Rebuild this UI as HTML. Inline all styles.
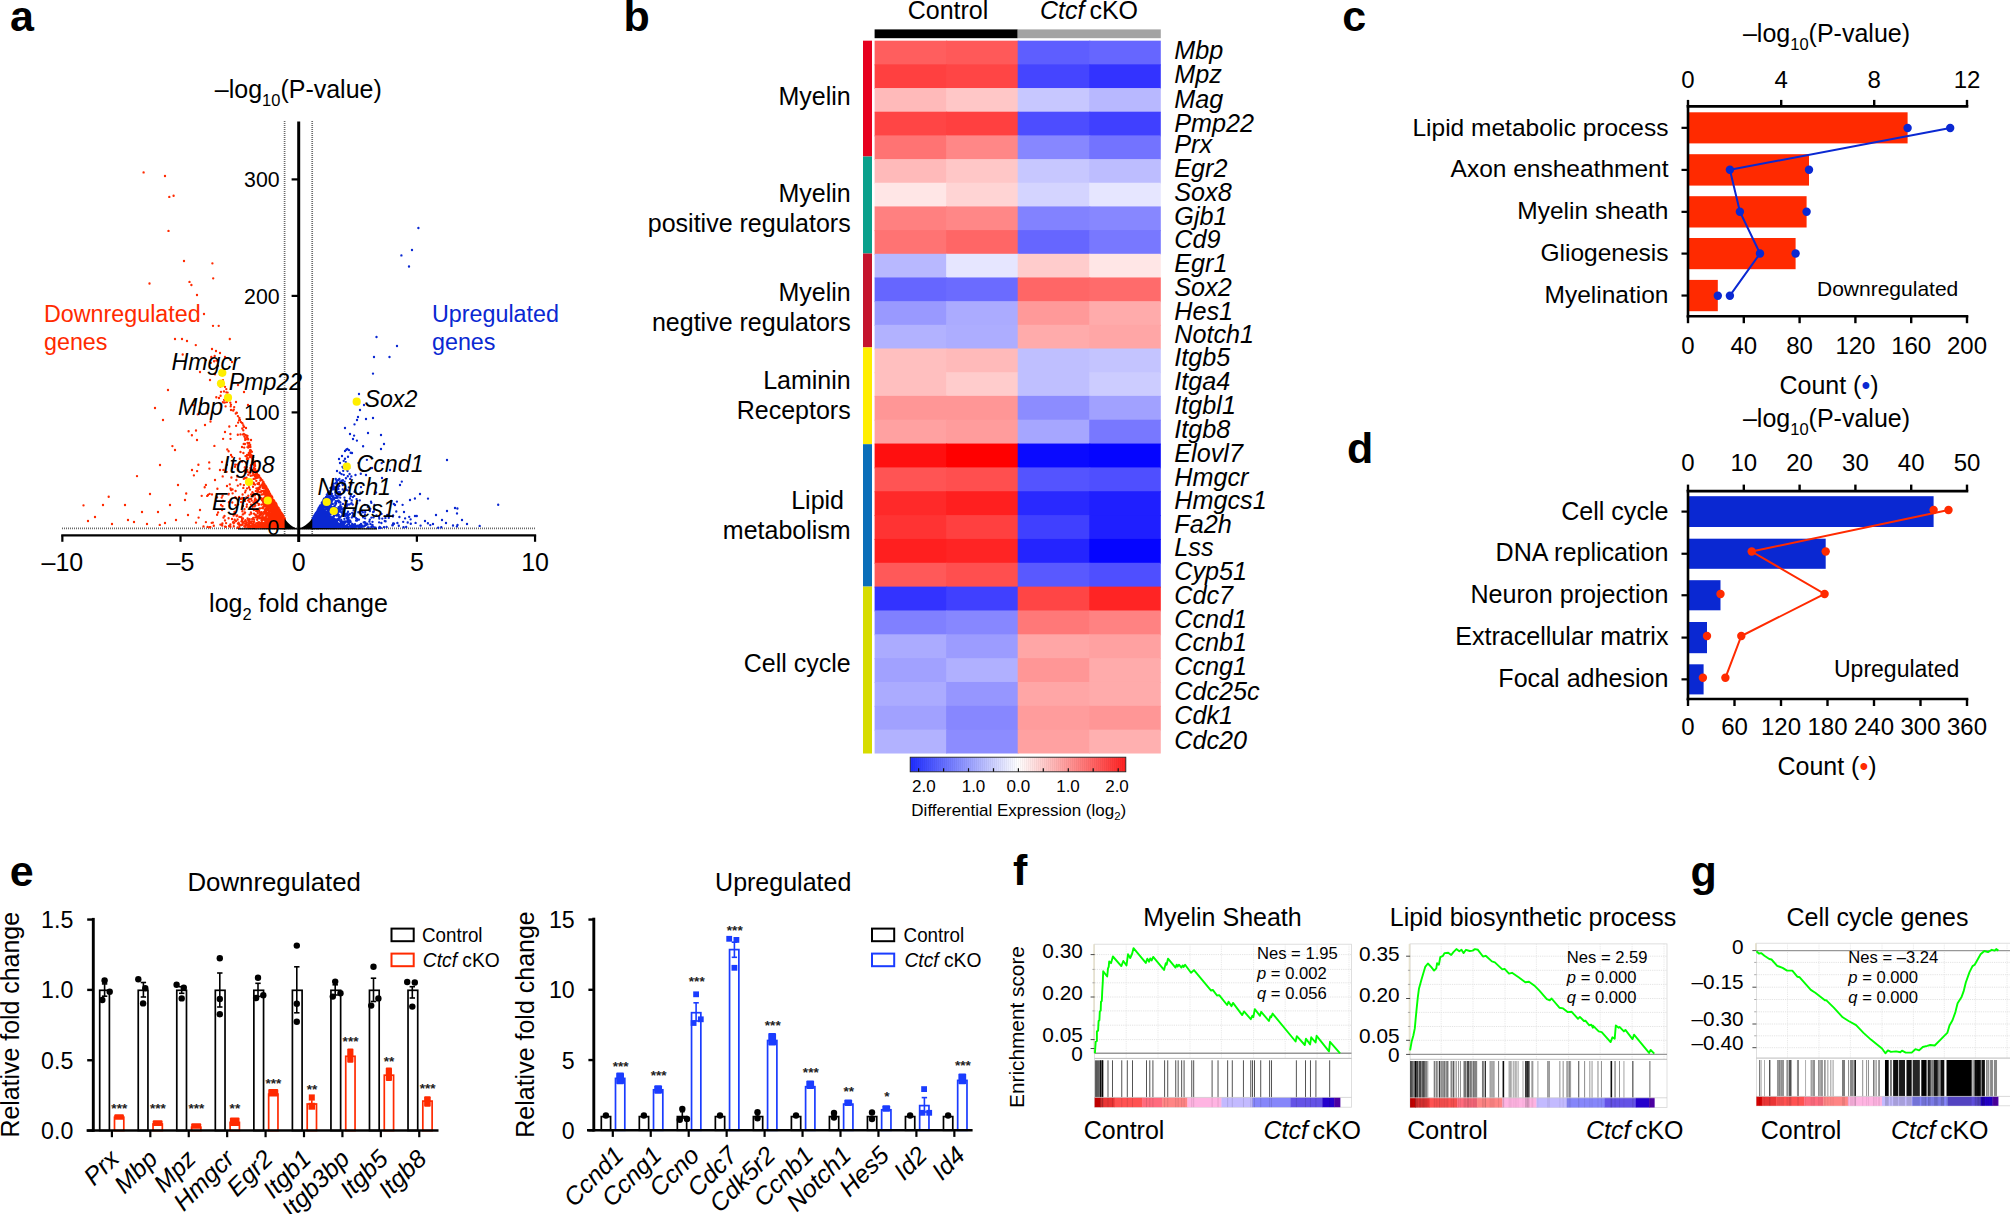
<!DOCTYPE html>
<html lang="en">
<head>
<meta charset="utf-8">
<title>Figure</title>
<style>
html,body{margin:0;padding:0;background:#fff;}
body{width:2010px;height:1214px;overflow:hidden;}
svg{display:block;font-family:"Liberation Sans",sans-serif;}
</style>
</head>
<body>
<svg width="2010" height="1214" viewBox="0 0 2010 1214">
<rect width="2010" height="1214" fill="#fff"/>
<g id="panel-a">
<text x="10" y="31" font-size="43" font-weight="bold">a</text>
<text x="298.3" y="98" font-size="25" text-anchor="middle">–log<tspan dy="8" font-size="16.5">10</tspan><tspan dy="-8">(P-value)</tspan></text>
<line x1="284.6" y1="121" x2="284.6" y2="536" stroke="#6a6a6a" stroke-width="1.7" stroke-dasharray="1 1"/>
<line x1="312.2" y1="121" x2="312.2" y2="536" stroke="#6a6a6a" stroke-width="1.7" stroke-dasharray="1 1"/>
<line x1="62" y1="528.3" x2="535" y2="528.3" stroke="#6a6a6a" stroke-width="1.7" stroke-dasharray="1 1"/>
<polygon points="284.6,518.6 278.5,507.8 273.5,514.5 266,521 255,526 243,527.8 284.6,527.8" fill="#ff2a00"/>
<path d="M273.4 517.5h0M281.4 518.9h0M280.9 518.8h0M278.7 527.2h0M270.8 506.7h0M222.7 476.4h0M252.8 456.6h0M284.4 518.4h0M284.8 524.5h0M278.1 520.6h0M279.5 514.9h0M256.9 471.8h0M278.0 518.0h0M284.6 523.6h0M253.0 523.8h0M249.1 487.4h0M277.9 525.0h0M255.5 477.6h0M276.0 515.3h0M283.8 526.8h0M255.8 475.1h0M284.7 526.6h0M270.9 526.4h0M281.1 525.3h0M282.0 514.8h0M284.0 524.9h0M244.8 467.4h0M276.3 526.1h0M283.1 519.6h0M275.7 519.1h0M278.9 524.7h0M282.6 526.8h0M281.4 516.2h0M260.3 487.0h0M273.9 502.2h0M259.5 497.4h0M281.1 525.3h0M233.8 526.2h0M275.6 520.5h0M276.8 527.5h0M279.7 512.4h0M279.0 520.6h0M280.4 511.7h0M276.2 517.5h0M259.1 484.3h0M284.1 527.8h0M284.4 527.2h0M283.4 517.1h0M245.2 499.6h0M248.7 446.9h0M284.8 527.5h0M228.6 518.2h0M279.7 515.0h0M159.8 524.9h0M278.9 517.9h0M263.3 517.1h0M271.2 507.9h0M244.5 509.2h0M267.1 508.0h0M280.8 515.4h0M253.2 457.3h0M275.7 517.4h0M275.0 520.9h0M261.3 527.3h0M280.6 516.2h0M277.9 512.6h0M225.0 386.8h0M281.3 523.4h0M278.3 525.6h0M253.2 473.1h0M281.1 514.0h0M263.4 507.0h0M270.0 524.0h0M283.0 526.1h0M260.2 512.6h0M281.7 525.4h0M284.1 523.9h0M279.9 515.4h0M251.0 504.6h0M284.8 527.0h0M263.9 527.7h0M279.9 523.3h0M283.2 526.1h0M275.4 505.3h0M282.4 527.4h0M278.0 515.3h0M255.6 502.1h0M284.1 519.7h0M280.1 519.8h0M283.6 523.9h0M268.7 522.0h0M258.2 523.9h0M239.0 527.3h0M274.6 526.9h0M226.4 392.3h0M263.4 500.9h0M266.9 522.9h0M271.9 511.6h0M249.2 442.9h0M207.2 495.9h0M276.4 508.0h0M273.8 512.2h0M282.0 520.5h0M284.4 522.5h0M257.5 527.5h0M279.8 522.8h0M282.9 525.9h0M261.7 513.1h0M234.2 522.5h0M282.7 524.8h0M275.2 511.3h0M271.2 504.2h0M278.5 521.8h0M252.5 526.1h0M248.1 500.3h0M281.7 518.2h0M264.4 497.6h0M279.2 521.4h0M280.3 519.3h0M282.4 518.1h0M272.8 507.0h0M283.4 526.3h0M268.4 509.2h0M282.1 525.3h0M259.2 526.9h0M284.1 525.2h0M277.4 524.8h0M267.4 494.0h0M283.7 518.8h0M282.3 518.3h0M282.2 521.2h0M282.0 525.1h0M250.9 465.5h0M236.9 412.8h0M242.8 514.4h0M276.7 523.2h0M214.4 445.9h0M281.0 524.5h0M280.3 526.7h0M277.9 508.0h0M281.6 513.2h0M269.9 513.3h0M263.2 523.4h0M265.2 522.3h0M284.6 527.1h0M281.3 517.7h0M284.3 526.0h0M246.9 504.5h0M283.8 527.2h0M260.2 522.9h0M282.2 519.9h0M283.4 516.2h0M278.1 512.8h0M277.5 510.8h0M282.9 525.7h0M261.8 499.3h0M264.1 511.9h0M280.4 516.3h0M246.7 467.1h0M258.2 516.9h0M246.3 523.8h0M259.9 518.3h0M263.1 523.8h0M282.8 522.6h0M281.5 522.4h0M259.8 487.2h0M260.3 480.6h0M282.6 518.2h0M230.9 489.7h0M271.4 496.1h0M248.2 439.4h0M284.3 527.3h0M284.1 526.7h0M272.8 521.5h0M108.7 496.7h0M243.4 425.5h0M247.5 435.8h0M274.0 526.6h0M281.2 519.2h0M263.9 490.8h0M281.5 516.3h0M278.5 514.4h0M279.1 511.8h0M284.7 524.4h0M277.1 510.0h0M282.9 516.7h0M239.1 420.2h0M273.8 523.4h0M261.5 517.6h0M273.5 517.5h0M226.8 464.8h0M280.3 515.5h0M283.0 527.3h0M280.8 520.5h0M282.2 524.1h0M274.8 508.7h0M197.7 414.3h0M279.0 526.5h0M277.3 520.0h0M277.6 513.2h0M249.4 454.5h0M273.2 524.3h0M279.6 510.8h0M283.2 524.0h0M268.8 494.1h0M282.0 526.8h0M280.7 515.2h0M283.7 525.0h0M280.3 513.1h0M272.1 506.8h0M275.5 526.0h0M275.2 506.7h0M278.7 517.8h0M277.0 523.4h0M274.2 501.3h0M281.3 517.4h0M259.5 525.1h0M281.7 524.9h0M280.8 523.4h0M282.2 525.3h0M278.3 511.4h0M276.8 512.2h0M235.4 505.1h0M276.0 507.2h0M275.3 521.5h0M277.2 525.7h0M283.2 522.2h0M282.5 525.2h0M254.1 521.7h0M280.9 525.5h0M284.5 525.3h0M281.0 517.9h0M217.4 488.7h0M278.0 517.9h0M281.5 526.9h0M267.8 527.3h0M274.5 510.4h0M280.6 524.8h0M276.7 509.5h0M253.5 483.8h0M279.4 518.1h0M269.6 507.9h0M252.2 519.0h0M244.4 513.4h0M272.2 519.7h0M273.3 514.8h0M281.2 526.0h0M274.5 510.4h0M283.6 520.9h0M273.5 525.7h0M275.5 514.6h0M283.3 527.2h0M227.6 392.6h0M284.2 525.4h0M276.2 511.8h0M283.9 525.4h0M277.7 509.8h0M273.7 506.2h0M256.4 500.0h0M271.4 517.8h0M284.7 524.8h0M274.4 514.8h0M283.6 518.7h0M258.8 488.0h0M283.1 519.8h0M268.5 517.8h0M283.8 525.8h0M270.2 501.9h0M283.9 518.2h0M255.6 528.0h0M280.7 513.9h0M280.4 511.8h0M273.2 519.9h0M236.6 412.7h0M242.6 523.6h0M275.8 505.6h0M284.0 518.4h0M278.5 525.0h0M282.9 523.3h0M265.1 524.4h0M282.7 521.6h0M222.0 462.0h0M280.7 521.9h0M281.5 517.4h0M235.0 466.7h0M281.6 515.7h0M283.1 518.1h0M281.1 521.6h0M281.1 525.1h0M261.5 490.8h0M255.0 524.7h0M284.6 526.1h0M281.1 518.0h0M271.1 504.8h0M284.4 524.7h0M284.6 521.3h0M272.7 523.5h0M243.0 434.4h0M283.1 522.8h0M280.7 521.4h0M223.4 469.9h0M272.0 498.0h0M281.9 514.5h0M278.8 518.9h0M281.9 520.3h0M265.7 509.0h0M284.3 519.1h0M257.5 492.7h0M278.0 513.3h0M281.1 520.0h0M282.3 524.4h0M239.8 524.7h0M284.4 520.0h0M212.9 522.6h0M280.7 517.5h0M235.3 497.2h0M282.6 520.5h0M246.2 525.2h0M276.4 517.1h0M284.1 517.8h0M272.7 525.5h0M278.6 519.2h0M275.8 517.1h0M244.0 426.8h0M284.3 519.9h0M283.2 517.2h0M282.3 524.1h0M282.5 514.8h0M230.4 526.7h0M255.9 470.8h0M247.5 447.1h0M196.0 522.6h0M272.2 512.2h0M274.2 517.3h0M282.5 518.5h0M283.9 524.8h0M257.0 509.2h0M247.3 437.2h0M271.2 495.7h0M282.9 519.0h0M277.7 512.8h0M283.3 523.3h0M278.8 527.1h0M204.7 487.2h0M276.6 507.0h0M245.1 521.2h0M277.8 507.9h0M267.9 489.4h0M283.6 523.4h0M261.1 499.1h0M281.9 522.4h0M279.3 527.6h0M274.3 519.2h0M269.3 504.1h0M253.1 495.2h0M274.0 504.7h0M279.0 525.6h0M254.1 519.6h0M274.2 500.8h0M278.7 511.4h0M259.4 511.4h0M267.6 512.7h0M284.2 526.9h0M280.0 512.1h0M281.6 524.6h0M266.4 524.2h0M280.4 520.7h0M261.9 494.5h0M282.3 514.9h0M254.6 506.4h0M282.6 527.4h0M280.0 524.3h0M280.5 523.7h0M282.4 523.8h0M240.9 498.9h0M279.7 520.1h0M264.9 494.1h0M279.9 517.6h0M275.1 514.2h0M277.6 519.0h0M233.4 522.0h0M278.0 508.6h0M265.1 487.0h0M256.3 515.4h0M283.9 519.4h0M284.7 519.1h0M247.9 443.3h0M282.1 526.4h0M282.7 519.2h0M280.0 524.1h0M266.2 497.5h0M277.0 507.9h0M284.7 523.2h0M279.7 515.6h0M283.3 516.6h0M279.9 526.5h0M272.8 513.0h0M275.9 527.5h0M274.6 524.9h0M279.4 519.4h0M266.2 522.2h0M280.2 527.7h0M276.4 526.8h0M284.6 520.9h0M232.2 456.8h0M279.9 525.9h0M283.0 524.5h0M277.9 524.3h0M268.6 492.8h0M282.2 514.6h0M271.5 512.8h0M230.3 402.6h0M273.4 504.3h0M277.6 526.0h0M283.6 517.8h0M283.0 524.9h0M266.5 520.4h0M277.0 511.8h0M281.9 527.0h0M284.8 523.9h0M283.4 524.1h0M279.0 517.8h0M277.3 525.9h0M272.3 509.4h0M278.3 527.8h0M279.4 526.9h0M275.2 509.1h0M283.9 521.6h0M282.4 525.9h0M283.1 523.2h0M281.6 526.1h0M274.9 511.4h0M283.9 525.1h0M276.6 523.8h0M279.0 525.9h0M284.8 524.9h0M279.1 515.2h0M266.7 497.7h0M274.2 507.5h0M232.0 519.0h0M267.8 525.8h0M283.1 520.8h0M283.5 521.8h0M284.3 523.8h0M284.2 519.7h0M266.1 486.7h0M284.3 521.0h0M248.5 445.4h0M276.4 527.8h0M283.6 527.2h0M281.5 519.2h0M283.9 523.0h0M277.5 522.5h0M281.5 524.1h0M281.3 519.9h0M270.3 524.3h0M266.5 516.0h0M258.5 475.4h0M263.8 505.3h0M272.1 497.2h0M283.4 518.9h0M260.5 479.7h0M281.5 524.7h0M283.0 528.0h0M282.9 524.5h0M252.7 463.7h0M255.2 505.2h0M277.7 522.5h0M274.8 511.9h0M245.0 500.9h0M280.0 515.5h0M283.7 522.1h0M280.3 521.8h0M284.2 523.0h0M284.7 526.3h0M281.7 526.6h0M279.4 520.3h0M279.3 525.7h0M279.9 527.6h0M275.5 507.6h0M263.5 525.6h0M280.2 522.8h0M267.7 513.6h0M276.2 512.3h0M280.4 514.8h0M280.8 513.8h0M282.8 527.8h0M271.2 499.3h0M267.9 523.6h0M232.6 493.3h0M280.4 512.0h0M280.8 523.7h0M272.6 523.2h0M281.8 518.0h0M279.7 523.3h0M276.4 525.3h0M237.8 434.7h0M277.5 512.8h0M281.6 526.7h0M267.7 493.3h0M283.8 526.4h0M283.4 517.3h0M264.6 484.7h0M283.9 522.2h0M279.3 527.1h0M284.4 527.0h0M248.8 452.9h0M275.8 522.6h0M283.9 523.9h0M277.7 514.3h0M252.4 492.2h0M222.5 506.2h0M284.4 526.4h0M284.7 526.4h0M277.8 510.1h0M284.3 527.9h0M272.1 527.9h0M260.2 515.2h0M267.7 507.2h0M268.3 493.2h0M264.1 523.8h0M272.2 497.2h0M283.4 524.7h0M274.5 514.3h0M280.7 515.0h0M269.8 497.8h0M280.5 522.8h0M275.9 510.6h0M283.0 526.4h0M283.0 522.5h0M282.9 519.1h0M272.2 518.1h0M271.8 500.8h0M210.3 527.1h0M263.5 485.9h0M280.2 512.3h0M267.5 513.5h0M283.6 525.4h0M253.9 522.0h0M281.5 514.8h0M226.9 402.1h0M254.0 467.8h0M269.3 504.7h0M279.5 514.0h0M282.2 524.7h0M284.7 518.7h0M256.1 472.7h0M223.0 380.1h0M237.4 464.6h0M256.2 510.9h0M274.3 502.1h0M267.5 502.8h0M237.6 519.5h0M270.5 515.0h0M222.2 525.5h0M256.9 525.6h0M276.4 518.2h0M281.7 523.8h0M277.8 517.6h0M280.1 524.5h0M269.8 516.0h0M279.9 515.0h0M284.8 526.6h0M263.2 502.4h0M283.5 525.4h0M245.4 520.2h0M254.7 471.5h0M230.7 406.3h0M279.4 513.9h0M283.6 522.7h0M262.8 484.4h0M282.5 526.4h0M282.5 522.9h0M261.1 491.7h0M269.9 525.2h0M276.4 517.1h0M284.3 521.3h0M255.2 474.4h0M282.3 520.2h0M264.2 524.5h0M282.4 516.9h0M252.1 525.2h0M238.7 523.1h0M275.2 510.6h0M283.5 527.1h0M273.6 520.5h0M275.9 512.8h0M284.4 521.2h0M275.6 525.6h0M265.8 506.0h0M254.8 463.9h0M277.2 527.2h0M275.0 511.5h0M251.2 498.8h0M279.9 515.2h0M283.5 520.0h0M225.0 520.4h0M195.8 345.1h0M264.3 519.4h0M265.8 525.4h0M281.2 514.3h0M270.7 519.2h0M280.2 521.6h0M282.0 525.7h0M248.1 438.9h0M258.6 517.3h0M284.8 519.9h0M238.1 504.4h0M282.3 522.5h0M280.8 526.5h0M284.4 518.9h0M284.6 526.2h0M280.2 523.5h0M284.7 521.2h0M281.9 520.3h0M275.4 503.6h0M225.0 526.6h0M281.5 521.3h0M265.5 500.9h0M280.2 525.9h0M281.5 517.8h0M284.6 527.6h0M255.0 484.6h0M275.7 527.6h0M284.5 524.1h0M273.4 524.7h0M224.7 402.5h0M275.7 519.1h0M280.6 523.4h0M283.0 522.1h0M283.0 522.3h0M280.4 527.3h0M281.5 518.4h0M284.6 524.8h0M282.8 523.2h0M276.4 510.3h0M273.0 521.3h0M269.5 516.5h0M281.5 516.3h0M279.3 516.0h0M282.1 519.2h0M283.2 527.6h0M280.0 524.0h0M272.2 502.8h0M281.4 513.4h0M242.2 461.6h0M268.0 506.1h0M268.5 496.3h0M279.4 515.4h0M284.5 519.7h0M268.9 516.6h0M277.5 510.9h0M228.5 494.4h0M275.7 508.5h0M274.8 524.1h0M283.9 526.4h0M282.8 527.4h0M271.4 519.1h0M283.9 526.4h0M241.4 521.3h0M282.1 521.1h0M249.7 526.9h0M283.5 527.6h0M269.2 513.6h0M279.2 513.0h0M261.8 527.1h0M282.8 516.7h0M283.7 525.7h0M254.5 466.4h0M273.7 504.3h0M247.3 469.9h0M280.1 512.7h0M276.0 511.2h0M280.5 527.2h0M278.0 511.8h0M245.9 462.6h0M273.5 523.0h0M279.3 510.1h0M276.1 503.9h0M271.2 521.2h0M276.7 525.9h0M280.8 514.6h0M281.1 526.0h0M282.7 515.9h0M245.8 520.9h0M277.0 518.5h0M278.4 517.7h0M278.9 517.4h0M283.0 527.7h0M284.0 523.6h0M283.7 519.5h0M282.7 523.8h0M251.5 526.6h0M271.5 520.3h0M266.5 521.8h0M278.1 515.8h0M266.0 492.6h0M274.6 525.8h0M265.5 511.3h0M282.3 517.3h0M267.0 489.6h0M283.6 519.3h0M270.7 527.1h0M252.3 470.4h0M266.2 527.5h0M282.8 527.6h0M205.9 484.9h0M283.5 522.0h0M282.8 525.4h0M284.0 519.1h0M273.6 523.6h0M281.7 519.4h0M268.0 497.3h0M280.9 522.8h0M221.7 497.6h0M234.5 512.0h0M281.4 519.4h0M268.7 520.3h0M272.4 527.3h0M282.9 527.7h0M275.0 502.3h0M269.8 505.3h0M277.8 516.9h0M283.7 528.0h0M242.3 497.8h0M283.5 522.8h0M277.6 509.2h0M254.6 465.8h0M280.3 523.1h0M282.1 526.4h0M279.0 519.6h0M281.7 524.5h0M283.6 518.5h0M280.4 526.3h0M280.7 522.9h0M269.7 515.3h0M278.0 509.5h0M268.6 521.1h0M276.8 522.4h0M275.2 509.7h0M276.0 515.6h0M279.1 524.1h0M247.2 439.0h0M273.1 527.9h0M278.7 527.1h0M278.8 525.1h0M270.5 506.1h0M263.5 526.8h0M282.4 526.3h0M258.1 510.5h0M276.9 523.1h0M276.3 523.9h0M283.7 525.4h0M284.2 523.3h0M281.6 518.4h0M275.5 509.6h0M280.6 527.3h0M280.3 523.3h0M281.9 522.3h0M282.6 517.2h0M262.8 498.7h0M237.9 416.1h0M235.6 491.0h0M276.8 509.6h0M284.3 525.7h0M284.5 526.1h0M274.3 507.4h0M256.9 471.2h0M284.7 523.4h0M281.0 515.6h0M281.3 515.5h0M268.1 500.4h0M282.0 518.0h0M270.0 496.6h0M244.8 512.4h0M268.5 518.9h0M281.3 525.6h0M283.0 516.8h0M283.1 525.3h0M270.9 524.5h0M265.5 495.2h0M283.2 528.0h0M279.7 517.1h0M283.1 526.8h0M266.4 514.9h0M284.6 520.5h0M254.8 525.8h0M245.2 525.6h0M282.0 520.9h0M273.7 522.5h0M272.1 504.4h0M284.2 525.2h0M217.1 514.7h0M257.6 518.6h0M254.9 514.5h0M275.6 506.4h0M271.4 495.7h0M279.7 522.6h0M221.0 391.8h0M269.1 495.9h0M237.3 476.4h0M281.5 525.4h0M253.8 493.7h0M280.3 511.4h0M257.2 516.1h0M236.0 521.1h0M255.2 468.9h0M284.4 527.7h0M266.8 525.9h0M272.3 518.3h0M284.2 523.9h0M244.2 447.6h0M251.1 494.4h0M258.9 489.1h0M245.7 472.5h0M282.1 518.5h0M270.4 502.6h0M278.6 510.5h0M282.6 516.9h0M284.7 527.1h0M272.8 518.4h0M258.4 475.2h0M272.8 519.8h0M280.7 520.7h0M267.4 521.4h0M274.3 509.0h0M240.5 452.0h0M279.2 509.4h0M283.0 517.7h0M277.6 517.4h0M264.0 519.5h0M284.5 520.7h0M247.1 488.3h0M284.1 527.1h0M282.5 523.3h0M278.2 517.1h0M277.1 514.6h0M269.2 496.8h0M283.3 527.3h0M283.6 527.0h0M276.9 526.6h0M269.8 522.6h0M258.3 475.3h0M279.0 524.8h0M283.1 521.2h0M258.2 525.6h0M277.1 523.1h0M283.5 520.3h0M258.9 475.4h0M274.0 523.0h0M276.8 523.1h0M246.4 497.5h0M275.5 513.7h0M265.1 511.5h0M250.2 450.0h0M263.3 487.5h0M256.6 477.9h0M275.7 527.9h0M268.7 525.6h0M267.2 521.5h0M271.7 496.7h0M238.1 422.6h0M278.2 516.6h0M269.1 516.8h0M277.0 512.3h0M256.2 472.3h0M262.8 524.8h0M270.6 525.4h0M284.2 519.2h0M227.5 399.7h0M274.8 507.0h0M280.6 516.1h0M245.1 467.4h0M260.7 524.5h0M281.2 523.4h0M273.8 513.6h0M282.3 522.3h0M281.2 522.0h0M278.3 523.2h0M281.5 525.7h0M280.8 526.9h0M273.4 525.5h0M255.8 527.8h0M264.2 526.1h0M249.0 524.6h0M283.4 519.8h0M272.7 506.6h0M282.1 524.8h0M261.5 485.3h0M278.5 520.8h0M281.7 518.8h0M279.9 512.3h0M276.2 511.2h0M281.1 524.7h0M281.1 512.8h0M270.0 521.6h0M283.8 527.4h0M209.6 493.8h0M284.8 526.6h0M279.5 526.4h0M249.7 446.2h0M282.3 523.6h0M283.9 522.3h0M284.8 524.1h0M282.3 516.5h0M272.3 504.0h0M277.9 523.2h0M266.5 520.1h0M275.8 522.3h0M282.4 519.0h0M278.3 518.2h0M284.5 525.9h0M281.0 527.6h0M264.3 484.0h0M262.1 513.3h0M273.5 516.9h0M275.5 517.7h0M191.9 435.2h0M274.3 524.4h0M283.4 518.7h0M205.9 522.1h0M254.9 463.9h0M281.3 521.7h0M272.4 517.4h0M274.6 509.6h0M283.1 525.6h0M280.7 518.9h0M282.8 517.9h0M282.8 515.2h0M281.2 514.3h0M277.4 509.6h0M283.1 521.3h0M261.6 485.4h0M282.6 516.4h0M277.5 507.5h0M284.4 527.6h0M263.1 487.4h0M275.9 505.4h0M246.7 456.6h0M282.1 517.4h0M263.5 525.6h0M271.5 519.2h0M277.2 523.8h0M281.4 527.4h0M279.1 523.6h0M253.0 496.2h0M258.0 477.5h0M283.2 527.2h0M284.5 518.3h0M254.8 475.9h0M282.4 525.9h0M273.1 526.4h0M274.9 509.4h0M281.2 525.3h0M275.2 502.4h0M277.9 519.9h0M245.2 438.2h0M255.2 527.6h0M284.8 525.7h0M271.4 501.2h0M280.2 527.4h0M226.3 389.1h0M284.2 523.7h0M282.0 525.1h0M282.7 525.6h0M282.6 525.9h0M282.7 521.7h0M282.2 515.8h0M279.7 527.9h0M258.8 476.8h0M276.6 526.8h0M264.0 524.2h0M279.2 527.7h0M271.6 510.2h0M274.6 506.9h0M266.5 503.4h0M246.5 478.0h0M269.0 524.3h0M264.8 509.4h0M226.6 471.8h0M214.7 356.0h0M283.5 517.4h0M268.0 527.5h0M281.9 523.0h0M277.7 520.4h0M269.7 516.6h0M252.7 526.3h0M282.5 517.6h0M284.9 528.0h0M270.3 523.9h0M268.7 495.9h0M280.0 519.6h0M268.0 505.7h0M283.6 521.5h0M265.2 522.9h0M259.4 508.4h0M282.4 515.7h0M284.2 521.2h0M265.8 521.1h0M281.7 525.8h0M278.4 520.1h0M251.9 521.5h0M282.2 526.5h0M284.8 524.7h0M283.0 527.2h0M275.7 516.1h0M281.9 526.4h0M266.3 510.4h0M267.9 502.5h0M237.2 515.4h0M257.2 470.9h0M282.1 524.1h0M284.6 518.8h0M278.3 516.0h0M245.9 469.3h0M278.5 519.0h0M266.2 495.5h0M283.2 519.6h0M269.2 526.2h0M281.1 513.5h0M281.6 520.9h0M278.9 523.2h0M272.3 499.9h0M269.4 500.2h0M278.9 526.1h0M265.7 527.5h0M281.5 520.4h0M266.5 492.9h0M278.4 508.6h0M279.5 514.5h0M278.9 515.2h0M280.6 516.1h0M270.0 496.1h0M265.4 495.5h0M278.3 520.2h0M252.3 508.9h0M284.3 519.0h0M250.0 489.6h0M282.7 517.7h0M272.5 510.6h0M280.6 521.0h0M282.7 522.9h0M280.0 525.6h0M280.5 514.7h0M274.6 525.5h0M267.0 492.8h0M249.8 456.8h0M225.6 406.3h0M280.3 514.6h0M281.4 522.2h0M278.6 522.4h0M253.3 518.8h0M281.3 514.8h0M280.7 526.6h0M276.8 525.1h0M282.1 526.0h0M279.9 527.3h0M249.1 525.9h0M284.0 519.8h0M283.7 520.9h0M267.5 527.8h0M281.3 524.8h0M280.9 527.0h0M271.6 498.2h0M263.4 481.8h0M272.9 522.4h0M255.0 495.2h0M280.5 526.3h0M283.8 517.6h0M284.3 521.2h0M201.7 495.8h0M265.9 516.4h0M272.8 508.7h0M282.5 518.3h0M275.0 512.0h0M268.6 508.1h0M284.7 526.0h0M263.1 487.1h0M281.8 520.0h0M276.8 508.7h0M282.6 514.7h0M279.3 526.7h0M280.4 524.0h0M250.3 450.2h0M283.1 525.1h0M281.4 513.6h0M282.7 525.2h0M274.6 528.0h0M281.9 524.1h0M269.1 497.3h0M235.1 514.1h0M284.4 526.4h0M255.2 498.5h0M283.7 526.3h0M276.6 514.6h0M274.5 523.3h0M282.8 522.1h0M277.7 517.9h0M284.7 526.0h0M284.8 522.3h0M274.6 520.9h0M278.4 527.7h0M284.4 523.2h0M239.4 418.0h0M284.8 526.6h0M263.0 525.9h0M281.3 527.3h0M271.9 509.2h0M283.3 520.3h0M276.8 507.8h0M262.7 507.4h0M273.9 505.3h0M234.7 519.7h0M283.0 523.4h0M281.0 518.7h0M268.7 511.6h0M283.8 523.7h0M261.2 491.4h0M280.1 527.4h0M280.5 524.6h0M283.6 527.3h0M282.0 521.5h0M282.2 527.8h0M283.0 519.3h0M284.0 527.3h0M284.8 526.4h0M279.8 527.7h0M282.1 520.5h0M280.9 526.6h0M283.2 519.3h0M258.1 522.3h0M257.6 509.7h0M271.9 523.0h0M277.9 518.5h0M261.1 527.6h0M248.0 458.5h0M283.1 519.7h0M270.8 526.5h0M276.2 510.0h0M248.3 525.0h0M281.0 524.7h0M277.7 515.8h0M274.4 512.2h0M263.7 493.0h0M283.3 519.6h0M254.7 500.2h0M283.7 520.4h0M278.0 527.1h0M282.7 519.8h0M215.0 374.2h0M277.5 513.6h0M281.0 520.1h0M251.0 479.8h0M284.6 527.7h0M270.9 511.2h0M284.1 524.5h0M274.3 509.4h0M229.8 484.3h0M261.5 522.8h0M279.5 522.2h0M280.3 514.1h0M261.0 491.9h0M275.4 524.7h0M246.7 506.8h0M267.9 514.0h0M271.0 511.1h0M283.8 527.6h0M246.7 522.5h0M242.9 505.9h0M249.6 446.5h0M266.1 495.8h0M272.0 514.8h0M280.7 520.3h0M284.9 526.5h0M284.1 524.4h0M280.7 521.1h0M284.5 518.8h0M262.5 520.3h0M261.2 479.5h0M281.9 514.0h0M260.1 508.3h0M236.1 425.8h0M258.0 490.4h0M278.7 515.8h0M277.2 520.3h0M270.9 505.2h0M212.0 494.4h0M257.5 489.7h0M284.7 523.9h0M268.7 522.5h0M281.3 523.9h0M283.3 523.3h0M281.1 516.3h0M220.4 524.6h0M283.6 518.3h0M277.7 523.4h0M282.0 519.4h0M284.3 518.2h0M279.6 523.7h0M269.2 518.2h0M282.9 517.0h0M270.1 510.3h0M252.7 472.4h0M278.8 515.5h0M257.5 483.7h0M255.5 477.2h0M280.6 513.8h0M281.9 523.4h0M270.9 514.0h0M172.4 446.1h0M276.8 505.7h0M284.6 527.0h0M263.4 526.9h0M281.1 528.0h0M261.9 500.1h0M284.8 520.4h0M272.2 527.7h0M282.8 518.8h0M277.8 518.1h0M275.8 520.9h0M283.8 523.9h0M259.8 524.5h0M284.9 525.3h0M137.0 476.1h0M271.3 496.0h0M278.9 515.9h0M280.4 525.1h0M284.8 526.0h0M283.2 521.0h0M255.0 524.9h0M284.8 526.6h0M234.2 407.1h0M265.1 525.8h0M279.4 517.4h0M240.4 484.2h0M284.0 521.6h0M271.9 497.1h0M279.7 527.4h0M283.7 526.9h0M281.4 520.7h0M269.0 494.4h0M278.8 520.5h0M275.7 505.8h0M278.6 507.9h0M279.5 518.1h0M280.4 518.3h0M283.6 519.6h0M281.8 526.8h0M284.6 527.3h0M245.1 512.6h0M257.2 474.7h0M272.8 504.8h0M284.6 526.3h0M273.9 520.4h0M282.0 514.8h0M279.1 516.5h0M279.5 513.7h0M283.0 526.0h0M267.4 502.1h0M243.5 522.5h0M254.0 513.6h0M284.7 522.6h0M211.7 522.8h0M277.6 520.8h0M193.9 475.3h0M268.6 525.4h0M267.1 513.5h0M282.6 526.0h0M284.6 520.1h0M269.4 506.2h0M275.0 523.0h0M273.8 508.1h0M283.2 526.0h0M284.7 526.4h0M280.1 526.1h0M233.8 409.6h0M279.2 523.9h0M249.9 452.9h0M283.3 525.1h0M261.5 504.6h0M282.9 527.4h0M268.5 493.8h0M284.8 527.8h0M277.7 511.3h0M282.7 517.0h0M224.0 391.4h0M281.8 516.0h0M250.2 525.6h0M272.5 509.9h0M279.8 520.9h0M263.6 482.4h0M282.0 515.9h0M278.3 508.8h0M277.2 525.4h0M251.3 513.6h0M186.2 493.5h0M253.2 460.2h0M282.8 517.2h0M233.2 410.5h0M283.8 527.6h0M271.2 504.0h0M279.8 516.1h0M271.2 521.3h0M283.3 526.3h0M270.5 504.1h0M282.4 518.6h0M278.2 508.1h0M284.2 523.8h0M283.0 526.9h0M278.4 514.8h0M254.4 469.9h0M280.5 520.0h0M275.8 511.1h0M245.1 492.3h0M276.9 525.2h0M273.7 511.0h0M230.5 488.5h0M239.8 458.7h0M284.8 526.8h0M247.5 442.8h0M261.8 523.3h0M250.8 454.4h0M254.5 462.5h0M275.0 518.1h0M270.5 503.5h0M284.3 522.3h0M263.7 526.4h0M262.1 518.7h0M275.7 502.9h0M230.5 438.8h0M257.2 471.6h0M277.4 520.5h0M281.9 518.1h0M273.3 507.9h0M258.9 488.3h0M276.1 517.8h0M279.4 514.6h0M284.1 525.8h0M281.6 521.0h0M280.2 515.6h0M278.0 514.7h0M260.7 498.5h0M278.1 512.0h0M251.4 525.6h0M271.1 501.8h0M280.7 517.0h0M271.6 517.5h0M209.8 527.2h0M280.6 527.3h0M284.4 527.6h0M276.4 504.2h0M284.7 527.8h0M271.5 519.3h0M235.8 413.5h0M280.2 518.9h0M284.4 519.6h0M281.1 522.6h0M276.2 507.0h0M270.3 494.6h0M280.3 519.0h0M277.2 513.0h0M257.7 483.7h0M255.3 505.4h0M282.2 526.9h0M284.7 527.5h0M284.0 525.2h0M282.2 523.2h0M248.9 485.2h0M279.6 518.1h0M278.1 515.4h0M282.5 527.1h0M282.6 525.4h0M264.0 491.2h0M266.3 504.4h0M276.2 522.5h0M270.2 514.2h0M272.2 524.9h0M279.7 521.6h0M282.1 519.6h0M278.9 511.1h0M282.2 524.4h0M279.0 513.2h0M283.0 521.5h0M283.8 524.3h0M262.0 522.7h0M282.3 515.3h0M284.8 526.3h0M266.7 500.8h0M274.7 511.0h0M279.1 509.4h0M270.8 508.7h0M278.5 518.9h0M255.1 465.9h0M282.8 525.3h0M255.2 471.6h0M280.1 514.7h0M248.7 521.8h0M209.2 462.4h0M280.0 521.4h0M280.9 514.1h0M252.8 463.6h0M283.8 524.5h0M273.5 510.3h0M282.8 520.4h0M244.4 436.4h0M223.5 517.5h0M281.0 520.4h0M273.7 505.3h0M283.0 518.6h0M282.9 523.8h0M245.2 526.8h0M246.4 469.6h0M274.0 500.8h0M260.0 492.2h0M278.5 513.4h0M283.6 526.7h0M275.6 506.2h0M268.8 492.1h0M280.0 516.9h0M237.9 523.6h0M249.7 521.1h0M282.4 523.6h0M214.1 361.2h0M263.3 491.0h0M274.1 509.6h0M279.9 521.5h0M283.2 520.0h0M284.1 525.9h0M283.1 527.6h0M245.3 523.8h0M251.1 451.3h0M253.1 524.5h0M257.3 489.1h0M279.6 511.1h0M283.5 521.9h0M283.5 525.8h0M275.9 507.6h0M222.4 523.4h0M253.2 518.0h0M268.6 506.3h0M270.5 495.7h0M283.0 515.5h0M275.5 527.4h0M270.1 504.4h0M280.8 513.9h0M252.3 475.3h0M283.7 523.9h0M280.1 524.5h0M268.5 513.8h0M280.7 522.9h0M276.0 512.9h0M284.4 527.3h0M283.9 525.4h0M283.1 527.7h0M283.2 526.6h0M282.3 527.3h0M280.0 523.5h0M282.9 518.5h0M274.5 506.0h0M275.2 527.1h0M284.7 525.8h0M83.5 505.3h0M275.6 511.1h0M282.0 525.6h0M281.6 513.5h0M281.1 526.5h0M280.1 523.7h0M283.3 523.6h0M284.8 527.2h0M227.3 449.4h0M265.4 521.7h0M281.4 520.7h0M280.4 514.4h0M265.8 488.5h0M284.5 518.4h0M280.0 511.9h0M241.4 461.4h0M224.5 516.0h0M280.0 521.5h0M283.7 519.9h0M270.1 511.1h0M281.1 512.9h0M221.5 381.4h0M282.8 518.8h0M280.4 525.2h0M282.5 527.5h0M281.5 519.4h0M272.8 526.4h0M284.0 525.7h0M284.8 525.6h0M250.9 450.3h0M274.5 523.5h0M274.2 519.5h0M277.6 517.0h0M273.2 511.1h0M267.0 493.4h0M272.7 507.5h0M270.3 495.4h0M284.2 527.0h0M269.5 503.5h0M280.2 526.9h0M280.6 518.1h0M281.7 527.9h0M266.6 487.7h0M272.8 511.0h0M280.0 527.0h0M223.1 438.8h0M274.7 510.7h0M271.7 516.4h0M258.7 504.9h0M243.3 430.2h0M246.3 525.4h0M284.4 524.5h0M245.5 456.1h0M273.3 511.5h0M279.3 513.9h0M283.5 523.9h0M278.3 521.5h0M270.7 508.2h0M281.9 515.4h0M283.6 520.0h0M284.6 526.1h0M284.8 527.3h0M251.7 457.8h0M281.1 517.5h0M284.4 524.8h0M281.9 522.1h0M269.0 525.4h0M278.9 510.5h0M245.2 439.9h0M239.1 496.9h0M279.6 524.4h0M269.4 492.8h0M280.2 514.5h0M269.6 514.6h0M284.7 523.0h0M272.6 501.7h0M255.9 477.8h0M226.1 523.1h0M280.9 519.8h0M268.5 496.1h0M283.5 527.3h0M262.2 508.1h0M283.2 521.8h0M258.9 522.2h0M254.1 461.9h0M283.4 526.9h0M266.9 488.5h0M283.0 527.0h0M269.5 526.0h0M259.3 476.3h0M279.1 512.8h0M242.5 423.3h0M275.9 522.4h0M266.3 489.2h0M284.6 518.7h0M281.8 518.9h0M282.2 516.8h0M253.5 527.6h0M283.9 525.6h0M265.1 494.5h0M284.6 521.2h0M264.1 486.2h0M280.2 517.9h0M282.2 524.8h0M282.0 527.6h0M249.6 514.6h0M282.0 523.2h0M251.0 455.3h0M284.6 524.5h0M283.4 516.8h0M272.5 502.0h0M269.0 491.5h0M283.6 522.3h0M284.8 524.4h0M283.9 519.6h0M268.2 510.3h0M261.1 524.4h0M261.9 524.5h0M283.4 525.6h0M279.4 511.8h0M272.5 506.8h0M264.1 517.4h0M242.0 518.4h0M249.9 451.0h0M266.1 491.7h0M283.4 519.1h0M284.8 519.8h0M280.8 515.6h0M282.9 522.8h0M271.5 498.4h0M251.0 456.8h0M267.0 518.9h0M256.3 523.3h0M229.3 426.5h0M284.1 524.9h0M273.7 507.0h0M264.6 499.8h0M224.1 399.8h0M261.8 484.7h0M247.2 437.0h0M260.9 497.8h0M254.6 524.3h0M253.5 502.4h0M284.4 526.6h0M282.3 517.2h0M281.9 526.8h0M272.6 526.9h0M257.1 511.3h0M249.8 527.8h0M276.8 517.1h0M268.8 491.8h0M268.6 514.9h0M283.1 525.3h0M266.5 521.2h0M282.4 525.2h0M283.3 527.2h0M283.4 521.1h0M282.2 527.0h0M242.1 519.8h0M281.1 515.7h0M268.7 520.6h0M273.0 502.6h0M282.8 526.9h0M279.2 512.6h0M273.0 499.9h0M284.6 518.6h0M282.2 517.7h0M268.1 492.8h0M283.0 523.8h0M270.1 514.4h0M284.1 522.5h0M280.8 524.3h0M278.4 521.0h0M273.9 506.5h0M283.3 524.2h0M274.6 527.3h0M283.6 523.6h0M283.7 517.0h0M284.3 524.1h0M247.6 518.5h0M283.8 525.3h0M265.5 505.0h0M284.4 527.9h0M284.9 520.8h0M279.4 526.2h0M284.3 523.1h0M275.0 527.0h0M269.3 524.4h0M276.5 517.1h0M200.8 402.8h0M282.9 527.4h0M232.3 502.5h0M213.8 525.7h0M271.8 497.2h0M259.8 515.0h0M266.3 497.8h0M274.9 509.1h0M274.7 518.4h0M252.3 523.9h0M283.6 522.5h0M284.9 521.4h0M235.2 464.6h0M280.4 524.1h0M283.4 526.7h0M283.6 526.3h0M277.3 510.5h0M241.3 517.0h0M265.8 496.4h0M264.7 506.4h0M251.7 500.6h0M271.3 508.0h0M283.6 521.7h0M233.6 515.6h0M278.8 517.2h0M279.5 527.7h0M277.5 517.8h0M277.2 506.5h0M273.9 518.0h0M248.2 519.9h0M283.7 521.3h0M253.9 510.0h0M218.1 512.4h0M282.3 517.1h0M284.4 519.4h0M280.1 524.2h0M282.9 518.1h0M275.3 519.8h0M282.0 527.4h0M254.6 468.6h0M272.3 497.7h0M276.3 507.8h0M283.6 520.7h0M271.1 527.2h0M262.6 524.6h0M282.5 515.5h0M280.2 517.5h0M283.0 527.5h0M280.9 525.4h0M266.4 487.2h0M273.3 515.4h0M249.5 520.7h0M276.7 525.5h0M210.5 421.5h0M262.4 480.3h0M281.9 524.6h0M247.1 454.9h0M284.6 525.0h0M267.2 496.6h0M277.4 526.4h0M262.6 525.2h0M251.9 451.7h0M253.8 474.5h0M230.4 434.0h0M268.3 522.6h0M283.8 523.9h0M281.0 512.8h0M266.8 518.9h0M261.8 519.0h0M284.8 518.8h0M284.6 527.6h0M282.7 522.6h0M284.5 527.0h0M228.8 493.8h0M278.8 525.1h0M282.0 525.9h0M188.6 431.2h0M265.9 511.1h0M249.2 499.2h0M275.2 518.1h0M263.6 494.0h0M277.3 520.4h0M238.6 522.6h0M264.3 525.9h0M237.8 527.9h0M276.2 503.9h0M284.1 523.4h0M242.3 428.5h0M279.1 527.0h0M270.8 507.8h0M228.6 451.2h0M269.7 514.1h0M250.9 512.3h0M281.9 527.6h0M252.5 526.3h0M282.0 526.5h0M252.6 455.7h0M254.4 526.0h0M264.3 527.0h0M267.4 496.4h0M279.3 524.6h0M272.0 497.0h0M263.0 527.8h0M269.7 524.8h0M280.3 527.1h0M278.0 507.3h0M279.9 524.7h0M283.7 527.7h0M263.6 504.0h0M277.8 510.6h0M283.6 519.2h0M282.7 520.9h0M279.0 513.0h0M270.1 505.5h0M284.0 526.1h0M248.9 524.0h0M250.2 483.2h0M233.0 522.3h0M277.5 515.0h0M266.4 490.2h0M274.5 513.4h0M283.9 522.1h0M257.3 502.9h0M197.1 471.1h0M283.6 526.3h0M282.8 521.5h0M253.6 478.9h0M281.7 525.5h0M282.5 521.2h0M277.5 513.5h0M283.8 519.2h0M254.1 471.4h0M231.4 477.5h0M281.4 526.5h0M281.9 521.9h0M270.2 502.5h0M265.7 527.2h0M279.5 517.0h0M220.0 374.5h0M275.6 510.2h0M269.3 495.4h0M274.7 518.1h0M266.2 514.2h0M284.3 523.6h0M271.9 505.1h0M232.0 468.0h0M253.9 474.9h0M245.4 526.4h0M261.6 524.4h0M278.0 512.8h0M220.3 386.5h0M280.5 521.7h0M269.1 494.4h0M281.7 514.6h0M283.9 524.3h0M268.6 502.5h0M246.3 435.4h0M281.4 514.5h0M242.1 507.3h0M269.9 496.3h0M281.2 515.7h0M279.9 516.0h0M281.1 518.8h0M263.4 517.6h0M267.5 522.8h0M283.3 526.9h0M230.3 525.8h0M282.4 519.3h0M276.0 521.8h0M260.9 479.0h0M267.2 496.1h0M276.7 524.4h0M281.1 512.7h0M275.1 523.0h0M276.5 504.6h0M252.8 472.8h0M283.5 524.1h0M283.6 521.8h0M284.1 519.9h0M280.3 517.0h0M280.8 523.1h0M278.7 527.0h0M284.0 521.2h0M271.4 525.1h0M268.5 492.7h0M279.1 518.0h0M275.0 505.1h0M279.9 513.9h0M250.2 522.4h0M280.8 521.7h0M251.6 522.4h0M263.9 523.7h0M278.8 526.5h0M275.2 509.8h0M273.1 527.7h0M283.0 519.0h0M279.7 520.7h0M264.5 484.5h0M283.1 522.9h0M257.1 509.4h0M282.6 523.5h0M282.6 515.1h0M252.8 459.7h0M281.7 514.0h0M280.9 524.5h0M248.3 524.4h0M282.4 524.7h0M276.5 508.0h0M265.0 519.9h0M282.5 525.0h0M278.1 527.9h0M280.4 524.2h0M266.8 492.5h0M284.5 527.4h0M231.0 404.6h0M281.9 521.3h0M261.5 520.6h0M263.9 500.4h0M283.7 523.4h0M266.0 489.9h0M281.6 520.9h0M267.8 497.9h0M247.7 525.5h0M282.1 517.9h0M271.9 521.3h0M283.7 520.2h0M284.6 524.1h0M282.2 527.6h0M269.9 497.8h0M282.9 517.8h0M241.6 525.0h0M279.5 527.3h0M267.4 525.5h0M283.6 518.9h0M273.8 514.6h0M280.5 517.2h0M250.9 522.7h0M276.0 523.7h0M248.3 495.7h0M272.4 520.4h0M264.5 485.4h0M271.8 511.7h0M249.5 499.0h0M276.7 523.0h0M263.5 501.0h0M281.1 525.0h0M270.8 497.5h0M270.6 502.9h0M284.8 521.5h0M258.4 510.2h0M267.0 492.4h0M245.4 435.0h0M281.0 524.4h0M275.7 521.9h0M282.0 525.9h0M276.1 508.0h0M278.7 513.8h0M284.4 520.4h0M268.8 524.6h0M232.5 489.4h0M266.4 526.9h0M283.9 519.8h0M270.4 504.1h0M275.2 517.0h0M281.5 523.4h0M276.9 508.4h0M284.8 526.9h0M283.5 527.8h0M274.1 500.6h0M230.4 524.3h0M282.1 524.4h0M284.5 527.8h0M198.6 517.6h0M277.0 509.2h0M283.2 523.8h0M275.5 525.6h0M256.3 523.1h0M280.7 522.5h0M246.5 477.7h0M267.8 503.7h0M261.4 522.8h0M272.4 513.8h0M273.9 510.7h0M275.6 509.2h0M279.2 518.5h0M278.2 520.1h0M272.6 502.5h0M277.1 512.6h0M283.4 525.8h0M243.9 485.1h0M243.0 518.5h0M279.8 526.0h0M282.7 518.5h0M280.5 520.0h0M281.8 519.8h0M283.5 516.8h0M275.0 505.3h0M277.1 525.5h0M278.1 523.8h0M257.4 500.6h0M261.7 512.2h0M267.5 491.5h0M284.2 524.4h0M260.7 485.9h0M279.3 513.9h0M283.7 523.8h0M236.7 516.0h0M283.5 525.0h0M280.9 525.0h0M284.0 518.1h0M282.9 523.6h0M274.4 517.1h0M277.5 517.1h0M243.8 433.8h0M278.6 511.6h0M256.4 517.0h0M266.7 495.9h0M233.6 523.2h0M281.6 518.7h0M264.4 504.2h0M277.4 512.3h0M278.5 526.4h0M236.4 480.0h0M283.6 523.0h0M283.3 522.0h0M284.5 527.1h0M280.4 521.4h0M282.6 522.2h0M265.6 510.5h0M211.3 356.9h0M280.1 518.5h0M283.3 527.0h0M284.2 518.8h0M272.4 527.6h0M284.0 523.4h0M244.9 444.0h0M284.8 527.2h0M284.4 526.2h0M279.7 525.9h0M279.0 519.6h0M284.7 519.1h0M263.9 494.2h0M279.6 515.1h0M277.0 515.0h0M217.1 497.3h0M257.5 518.6h0M279.6 525.2h0M281.6 527.7h0M277.1 523.9h0M275.3 505.5h0M270.8 524.1h0M280.3 517.7h0M280.1 526.5h0M275.8 526.6h0M283.0 516.8h0M255.2 478.6h0M284.1 527.6h0M282.3 515.6h0M281.2 526.0h0M263.6 483.6h0M280.9 517.8h0M282.2 525.9h0M281.2 514.0h0M280.0 527.1h0M283.8 527.7h0M262.8 487.9h0M281.3 518.4h0M248.5 472.3h0M279.7 510.0h0M264.4 513.3h0M280.4 527.2h0M240.0 525.4h0M248.0 527.1h0M284.1 523.0h0M284.7 519.1h0M249.7 519.2h0M265.3 496.0h0M275.1 509.7h0M280.4 525.6h0M246.9 471.3h0M279.3 510.7h0M281.5 515.2h0M182.7 354.5h0M259.7 525.4h0M270.7 523.0h0M265.9 486.2h0M280.7 518.5h0M281.7 525.5h0M284.0 525.7h0M281.2 513.2h0M282.1 519.8h0M278.3 514.2h0M207.4 413.2h0M283.5 518.5h0M281.9 527.0h0M264.5 484.7h0M236.2 498.0h0M258.1 491.4h0M283.4 526.5h0M280.5 525.0h0M283.7 525.1h0M268.3 521.3h0M282.8 527.4h0M283.6 523.1h0M266.9 506.5h0M284.3 523.4h0M279.4 512.9h0M281.1 527.5h0M279.1 524.0h0M270.8 498.2h0M283.2 516.3h0M272.8 504.9h0M256.4 474.3h0M259.9 512.8h0M284.5 527.8h0M266.9 514.0h0M276.7 513.9h0M270.1 498.1h0M274.0 507.9h0M269.6 496.2h0M268.1 505.7h0M243.4 453.0h0M276.7 517.7h0M228.3 399.1h0M262.3 516.4h0M284.8 525.0h0M283.4 522.2h0M223.0 501.0h0M248.2 519.9h0M282.3 520.1h0M277.5 508.4h0M266.5 516.2h0M280.5 526.3h0M266.2 525.8h0M278.2 511.4h0M281.9 527.2h0M280.5 512.7h0M263.9 484.8h0M217.9 365.7h0M281.6 527.6h0M253.6 527.3h0M264.0 526.0h0M277.8 522.1h0M268.6 496.7h0M267.9 504.9h0M261.1 514.2h0M279.8 517.5h0M276.7 524.0h0M281.2 515.4h0M260.6 527.6h0M263.3 502.0h0M284.3 526.7h0M243.8 478.7h0M282.9 527.9h0M276.7 517.7h0M225.9 526.8h0M284.3 519.9h0M283.9 525.4h0M283.9 524.2h0M278.8 527.1h0M284.4 520.3h0M237.7 527.5h0M282.8 523.6h0M277.0 512.4h0M279.0 527.4h0M282.8 519.6h0M284.7 526.2h0M267.1 514.7h0M265.5 489.1h0M279.8 523.7h0M284.7 523.3h0M266.0 495.2h0M279.6 522.5h0M283.4 518.9h0M283.7 527.7h0M282.0 519.7h0M242.4 511.2h0M279.0 523.5h0M284.7 521.9h0M239.4 516.9h0M269.2 504.8h0M278.9 520.5h0M245.7 490.6h0M282.2 518.1h0M272.5 512.3h0M281.4 523.1h0M251.3 455.9h0M273.8 528.0h0M255.4 517.3h0M242.6 494.5h0M242.0 422.8h0M282.7 524.9h0M238.8 524.5h0M284.4 527.6h0M228.9 502.2h0M284.6 525.0h0M268.9 506.1h0M266.5 498.4h0M281.5 524.4h0M270.2 502.4h0M284.4 524.8h0M282.9 523.4h0M280.5 525.4h0M272.6 505.3h0M284.7 521.1h0M283.2 517.7h0M274.2 507.0h0M275.9 514.3h0M271.6 499.3h0M282.7 527.8h0M284.4 526.2h0M268.5 506.6h0M278.7 517.8h0M269.9 495.3h0M270.6 519.8h0M282.1 523.0h0M262.8 482.7h0M270.1 494.0h0M242.7 521.4h0M282.4 514.5h0M280.6 514.6h0M250.7 475.8h0M253.9 462.1h0M279.2 510.2h0M284.1 521.1h0M277.7 527.0h0M282.4 523.7h0M256.8 477.0h0M259.6 495.2h0M264.2 526.6h0M254.1 465.5h0M282.3 528.0h0M266.2 518.5h0M276.4 511.2h0M274.1 526.6h0M269.6 495.7h0M262.3 527.3h0M222.1 510.0h0M252.2 458.6h0M281.6 516.2h0M275.2 521.6h0M271.9 512.2h0M279.7 517.9h0M284.6 526.4h0M283.2 527.0h0M249.7 523.3h0M283.7 519.5h0M283.3 517.0h0M280.8 523.6h0M276.4 518.9h0M222.6 495.6h0M258.3 487.8h0M250.2 444.9h0M259.6 489.0h0M280.2 523.4h0M279.2 526.9h0M281.5 525.5h0M280.8 516.1h0M256.4 488.3h0M265.5 498.5h0M280.1 515.9h0M280.2 525.6h0M266.2 521.1h0M256.5 500.6h0M257.0 473.3h0M275.9 503.6h0M283.6 518.4h0M282.2 527.7h0M284.5 523.6h0M271.1 526.0h0M282.3 517.3h0M278.9 526.2h0M273.4 527.5h0M284.3 523.6h0M284.9 527.6h0M283.9 521.9h0M268.9 523.6h0M243.7 443.9h0M277.4 512.8h0M272.2 505.0h0M276.5 510.6h0M274.0 523.6h0M252.8 506.5h0M280.1 520.8h0M264.3 523.0h0M283.3 517.7h0M272.4 524.2h0M284.2 524.8h0M278.6 518.9h0M275.3 513.7h0M247.7 443.3h0M266.5 507.7h0M270.8 521.8h0M198.4 464.7h0M262.8 501.3h0M259.2 496.8h0M277.8 509.4h0M277.0 507.0h0M268.4 508.1h0M280.7 521.2h0M255.8 491.1h0M282.2 525.3h0M261.7 525.9h0M252.6 461.2h0M283.0 527.8h0M222.9 402.2h0M264.3 491.1h0M237.8 485.6h0M284.7 527.3h0M268.2 522.5h0M283.2 516.5h0M279.1 511.0h0M263.4 514.6h0M258.9 510.6h0M282.5 525.8h0M276.6 504.8h0M268.2 495.6h0M279.2 519.5h0M209.4 468.6h0M279.1 515.0h0M281.0 516.4h0M273.8 509.6h0M196.0 430.5h0M282.2 519.0h0M275.2 508.4h0M249.5 501.9h0M281.3 516.2h0M277.3 515.0h0M273.3 524.3h0M250.0 473.3h0M273.4 499.8h0M273.2 527.0h0M269.3 495.3h0M271.7 524.5h0M284.1 525.9h0M271.6 519.7h0M257.7 513.2h0M282.9 518.0h0M270.4 494.9h0M273.6 503.5h0M282.1 527.8h0M275.5 515.1h0M278.7 514.0h0M265.6 526.2h0M284.3 527.7h0M216.3 397.2h0M260.3 478.0h0M266.7 488.7h0M277.5 526.1h0M283.7 523.0h0M283.5 526.7h0M267.3 492.7h0M280.7 527.2h0M283.7 527.0h0M267.8 507.6h0M279.0 527.0h0M253.7 525.7h0M283.6 519.6h0M282.5 524.3h0M284.6 527.8h0M272.7 523.2h0M265.3 485.8h0M272.8 510.2h0M282.0 516.0h0M257.2 519.7h0M278.6 516.9h0M277.9 509.7h0M272.5 524.9h0M277.2 521.4h0M282.7 525.3h0M248.2 447.5h0M282.0 520.5h0M284.9 523.8h0M256.3 480.8h0M284.2 520.0h0M244.2 470.9h0M264.4 497.8h0M266.5 512.6h0M283.1 518.3h0M207.6 526.9h0M281.5 520.6h0M283.1 516.0h0M249.7 527.1h0M259.3 515.4h0M283.8 517.2h0M278.9 515.4h0M282.0 526.8h0M268.7 527.5h0M244.3 526.4h0M284.7 527.8h0M251.5 526.3h0M280.5 526.9h0M284.9 526.2h0M282.3 520.1h0M284.9 526.9h0M263.0 523.5h0M261.9 520.6h0M282.8 525.0h0M220.6 395.7h0M263.6 483.7h0M246.9 458.9h0M280.0 526.8h0M275.4 505.4h0M283.8 527.5h0M278.0 524.3h0M260.8 525.9h0M251.7 455.7h0M256.0 515.3h0M281.9 526.6h0M279.3 519.5h0M281.5 522.0h0M231.2 490.0h0M282.2 521.0h0M283.7 526.9h0M248.9 524.2h0M242.6 522.1h0M257.4 527.6h0M277.2 525.0h0M268.5 500.6h0M248.3 458.7h0M281.9 517.8h0M254.0 483.4h0M282.3 526.8h0M284.0 519.8h0M284.1 524.8h0M284.1 526.4h0M253.0 527.1h0M280.6 524.9h0M284.9 522.1h0M263.9 492.5h0M283.3 516.6h0M268.8 502.6h0M273.2 502.6h0M267.9 508.3h0M257.7 476.4h0M281.6 518.7h0M279.2 519.9h0M280.8 520.7h0M277.4 525.6h0M282.7 524.0h0M254.6 525.8h0M277.5 522.5h0M276.7 517.8h0M279.6 524.2h0M278.0 517.4h0M282.0 523.6h0M274.4 513.8h0M281.0 515.9h0M277.2 513.9h0M283.8 523.3h0M283.0 527.4h0M279.0 527.5h0M279.9 522.5h0M229.1 526.0h0M274.0 505.8h0M216.5 360.6h0M268.8 516.6h0M265.3 485.4h0M283.7 525.7h0M281.0 526.4h0M250.4 467.9h0M276.8 509.8h0M240.5 434.4h0M282.5 519.8h0M250.4 446.9h0M241.0 422.1h0M282.1 524.3h0M283.8 525.0h0M270.5 516.9h0M284.7 522.4h0M221.0 505.0h0M284.4 523.9h0M277.7 513.2h0M284.0 526.2h0M203.5 526.4h0M284.8 526.5h0M266.0 527.6h0M281.8 521.2h0M270.0 510.2h0M279.2 523.8h0M280.4 526.0h0M210.8 362.8h0M284.6 527.9h0M253.0 486.7h0M282.1 521.5h0M284.3 527.2h0M275.9 527.5h0M259.0 504.2h0M273.6 505.0h0M269.9 502.4h0M263.7 488.0h0M241.1 502.1h0M281.2 521.6h0M259.0 482.9h0M276.9 508.7h0M258.6 517.2h0M282.0 522.7h0M281.7 519.8h0M280.8 526.7h0M283.9 518.6h0M274.8 526.1h0M283.5 525.3h0M279.0 512.4h0M278.7 526.6h0M283.7 522.8h0M279.5 519.0h0M248.2 474.8h0M283.8 522.2h0M282.0 519.8h0M284.4 527.3h0M262.9 524.4h0M281.5 525.3h0M273.0 525.1h0M281.3 516.8h0M277.5 525.3h0M278.4 525.0h0M283.3 522.6h0M277.2 527.9h0M281.5 515.9h0M282.1 523.4h0M264.1 526.1h0M260.9 526.5h0M242.6 524.5h0M269.5 518.6h0M271.2 501.3h0M253.5 469.4h0M260.0 517.7h0M275.0 514.4h0M271.3 526.4h0M253.4 482.7h0M281.8 516.2h0M267.5 508.2h0M243.3 487.9h0M284.8 525.9h0M242.9 498.3h0M282.0 515.4h0M263.1 508.0h0M272.0 508.6h0M277.5 526.7h0M281.7 526.1h0M284.0 525.6h0M284.6 524.9h0M284.4 522.7h0M143.6 172.4h0M165.0 176.0h0M169.3 196.9h0M173.6 195.7h0M168.5 230.9h0M184.0 261.0h0M212.4 263.3h0M149.5 283.5h0M189.5 281.9h0M191.4 285.0h0M213.2 278.3h0M197.0 295.0h0M204.0 314.0h0M213.0 325.8h0M218.7 325.8h0M175.0 339.0h0M182.0 339.0h0M187.0 341.0h0M229.8 339.0h0M212.0 349.0h0M216.0 351.0h0M220.0 353.0h0M155.0 408.0h0M168.0 390.0h0M163.0 420.0h0M175.0 450.0h0M197.0 440.0h0M160.0 465.0h0M150.0 494.0h0M125.0 505.0h0M103.0 505.0h0M95.0 517.0h0M128.0 520.0h0M147.0 524.0h0M206.0 360.0h0M225.0 357.0h0M232.0 362.0h0M200.0 372.0h0M210.0 380.0h0M238.0 385.0h0M244.0 392.0h0M236.0 402.0h0M231.0 410.0h0M248.0 405.0h0M225.0 432.0h0M240.0 420.0h0M246.0 428.0h0M251.0 440.0h0M242.0 447.0h0M249.0 455.0h0M255.0 462.0h0M238.0 470.0h0M245.0 478.0h0M227.0 486.0h0M231.0 455.0h0M220.0 470.0h0M208.0 495.0h0M215.0 480.0h0M185.0 500.0h0M192.0 470.0h0M178.0 485.0h0M170.0 505.0h0M158.0 512.0h0M200.0 510.0h0M188.0 515.0h0M176.0 520.0h0M165.0 523.0h0M142.0 512.0h0M134.0 522.0h0M112.0 524.0h0M88.0 521.0h0M205.0 425.0h0M193.0 405.0h0M219.0 398.0h0" stroke="#ff2a00" stroke-width="2.35" stroke-linecap="round" fill="none"/>
<polygon points="312.3,518.6 319,507.5 324.5,513.5 332,519.5 344,525 362,527.8 312.3,527.8" fill="#0a28d2"/>
<path d="M361.9 510.7h0M315.1 519.6h0M313.2 526.7h0M314.6 525.7h0M316.3 527.2h0M318.3 521.3h0M317.0 527.4h0M317.8 518.0h0M369.8 519.6h0M317.5 520.1h0M314.5 527.2h0M324.4 522.8h0M320.4 506.3h0M317.6 512.2h0M312.6 527.0h0M320.4 520.1h0M313.8 523.7h0M320.0 514.0h0M317.2 526.9h0M318.5 517.7h0M327.9 504.6h0M386.6 526.9h0M312.6 523.0h0M385.6 521.2h0M332.7 510.7h0M339.1 502.2h0M321.2 519.2h0M313.4 522.2h0M322.2 510.5h0M313.3 521.0h0M318.0 512.4h0M324.1 506.5h0M331.7 507.2h0M323.2 521.2h0M333.6 517.7h0M314.4 524.7h0M328.6 523.3h0M332.6 527.3h0M320.7 520.4h0M324.2 499.8h0M313.7 520.7h0M315.0 522.1h0M322.0 528.0h0M353.1 527.1h0M314.3 517.3h0M312.9 522.9h0M336.0 524.2h0M315.9 520.4h0M320.2 506.7h0M327.7 516.4h0M331.2 521.5h0M314.1 524.4h0M328.4 498.1h0M319.3 522.9h0M313.9 520.5h0M313.3 527.1h0M322.2 510.2h0M313.1 522.2h0M320.4 522.6h0M319.3 510.3h0M319.7 509.3h0M321.6 526.1h0M317.6 511.1h0M335.4 525.1h0M319.9 527.2h0M333.6 506.6h0M312.9 526.8h0M316.7 526.6h0M318.4 516.5h0M331.5 518.0h0M313.1 524.3h0M319.2 509.9h0M316.0 524.5h0M321.7 509.7h0M319.7 518.2h0M356.2 525.8h0M350.7 452.7h0M325.7 514.1h0M317.5 523.3h0M317.3 523.5h0M313.6 527.4h0M322.2 511.9h0M313.8 525.4h0M325.1 498.2h0M381.4 523.0h0M315.2 518.9h0M352.8 504.6h0M324.3 498.7h0M322.2 525.1h0M314.0 527.7h0M371.3 502.8h0M321.8 503.8h0M315.2 527.4h0M313.1 520.7h0M313.2 522.0h0M325.4 502.8h0M327.8 522.6h0M326.7 524.0h0M314.9 524.9h0M317.7 513.4h0M343.9 527.9h0M320.9 506.4h0M339.2 510.9h0M349.2 504.4h0M317.1 511.6h0M323.5 513.2h0M326.9 522.2h0M335.0 520.1h0M342.5 466.8h0M314.0 520.3h0M317.4 526.9h0M313.8 517.9h0M379.1 528.0h0M329.6 523.1h0M315.5 522.1h0M330.1 525.5h0M323.9 506.2h0M320.5 527.5h0M335.5 490.7h0M325.8 512.8h0M315.3 526.6h0M339.8 510.3h0M320.7 512.5h0M325.2 519.6h0M319.5 517.4h0M324.6 511.9h0M318.2 513.6h0M313.4 523.9h0M346.0 489.7h0M314.1 525.3h0M316.0 524.4h0M312.7 525.4h0M351.3 484.2h0M329.1 527.0h0M336.8 480.7h0M323.9 503.5h0M342.9 524.4h0M314.2 527.1h0M318.8 513.3h0M328.0 500.6h0M339.5 508.2h0M328.1 509.8h0M339.0 527.3h0M379.1 522.3h0M364.6 522.2h0M315.2 524.7h0M332.9 499.5h0M326.7 519.0h0M319.6 515.5h0M313.1 524.1h0M313.8 524.2h0M314.3 521.8h0M334.5 519.2h0M315.0 526.1h0M326.7 525.6h0M320.9 507.8h0M318.3 518.8h0M351.2 503.6h0M402.6 504.8h0M321.8 515.8h0M328.3 525.6h0M317.7 510.3h0M318.2 524.5h0M312.9 527.4h0M320.6 522.7h0M315.9 527.0h0M318.9 520.1h0M319.7 515.7h0M359.0 519.6h0M326.6 526.1h0M338.9 519.1h0M328.6 517.9h0M320.3 509.6h0M353.3 513.7h0M319.9 525.6h0M320.0 506.1h0M314.9 523.0h0M373.8 511.5h0M327.4 526.3h0M315.3 519.2h0M317.1 527.3h0M314.0 528.0h0M317.9 516.3h0M318.0 526.5h0M322.3 503.2h0M313.2 526.2h0M328.1 527.8h0M314.0 516.1h0M314.5 515.5h0M314.9 524.3h0M318.6 527.2h0M316.0 514.2h0M312.8 526.0h0M312.8 526.6h0M326.3 523.6h0M316.4 512.5h0M313.1 517.8h0M321.8 518.9h0M314.0 523.2h0M316.6 527.7h0M334.6 523.4h0M347.8 517.2h0M317.3 527.1h0M320.1 521.0h0M332.7 509.8h0M318.1 526.5h0M353.5 527.7h0M317.9 520.1h0M314.5 526.6h0M314.4 525.6h0M315.1 527.1h0M314.2 525.1h0M330.4 512.7h0M317.2 512.7h0M340.0 527.6h0M316.2 526.3h0M328.2 509.7h0M330.0 506.4h0M322.7 507.0h0M316.8 527.9h0M313.4 525.5h0M322.8 522.3h0M318.3 520.4h0M324.9 512.8h0M328.2 524.5h0M316.8 522.3h0M323.1 514.8h0M379.0 516.7h0M329.9 502.1h0M315.3 520.2h0M317.0 522.3h0M316.6 527.7h0M317.6 525.3h0M315.0 526.0h0M316.8 524.4h0M315.6 524.2h0M319.9 527.1h0M314.9 524.5h0M338.0 526.8h0M315.7 520.1h0M315.6 526.2h0M320.9 513.7h0M333.0 487.5h0M316.2 526.8h0M314.8 515.6h0M312.6 518.9h0M366.9 459.8h0M326.6 505.7h0M322.2 525.5h0M336.2 519.7h0M314.0 522.9h0M316.8 526.8h0M312.6 523.9h0M314.2 522.3h0M352.9 497.1h0M313.0 520.9h0M312.6 525.5h0M329.8 491.8h0M319.1 526.4h0M319.0 525.5h0M325.7 515.6h0M335.6 501.1h0M321.1 523.0h0M329.2 501.4h0M318.8 520.5h0M337.1 488.2h0M332.1 503.3h0M313.5 520.0h0M335.1 524.3h0M326.5 513.5h0M313.8 519.7h0M317.5 522.6h0M315.9 526.4h0M315.1 521.1h0M334.3 521.8h0M314.7 523.2h0M324.5 498.4h0M312.7 527.5h0M314.9 523.6h0M314.5 525.5h0M314.9 525.2h0M312.8 527.6h0M326.8 507.1h0M338.3 494.4h0M314.2 517.2h0M318.6 513.4h0M368.4 527.6h0M319.5 523.1h0M313.4 522.3h0M319.7 527.1h0M313.5 527.9h0M314.3 522.1h0M313.9 522.2h0M314.3 520.7h0M351.5 503.1h0M317.4 518.0h0M313.9 520.8h0M312.7 522.4h0M346.2 489.6h0M343.8 474.8h0M357.6 525.7h0M319.3 508.9h0M318.2 524.1h0M323.1 527.2h0M312.9 527.4h0M314.5 524.7h0M341.3 521.9h0M314.5 524.4h0M313.5 527.8h0M326.6 527.7h0M315.1 514.6h0M317.5 516.0h0M319.1 507.5h0M356.1 518.1h0M332.3 525.3h0M314.8 519.8h0M329.1 525.9h0M318.9 527.4h0M328.7 523.6h0M328.3 527.0h0M314.0 519.4h0M330.8 501.0h0M320.9 517.0h0M319.3 513.8h0M329.5 524.5h0M329.0 514.4h0M328.4 499.9h0M326.8 523.9h0M317.4 527.6h0M314.6 524.9h0M314.9 522.4h0M318.6 518.2h0M312.9 525.5h0M320.4 522.3h0M317.2 512.5h0M399.4 517.0h0M313.5 527.5h0M331.1 517.5h0M315.3 527.6h0M323.4 505.7h0M314.4 520.7h0M321.5 526.0h0M313.0 524.8h0M318.6 510.1h0M321.9 516.9h0M333.8 518.3h0M316.9 514.9h0M313.4 525.2h0M313.5 520.8h0M313.2 527.8h0M320.6 519.0h0M315.4 518.4h0M322.8 515.2h0M316.7 524.5h0M322.4 527.0h0M320.2 520.6h0M322.3 523.6h0M317.5 526.2h0M315.1 522.0h0M314.2 518.5h0M327.1 503.4h0M313.8 523.9h0M314.6 516.3h0M313.2 523.3h0M314.8 526.4h0M330.7 494.3h0M316.5 524.2h0M316.8 525.4h0M318.1 527.3h0M315.3 524.7h0M315.9 514.5h0M320.1 506.4h0M314.8 519.3h0M315.3 525.9h0M323.5 500.0h0M322.4 518.5h0M342.5 526.9h0M328.2 510.2h0M319.8 516.4h0M317.0 526.2h0M315.3 521.7h0M328.1 503.7h0M321.7 521.6h0M319.6 520.8h0M322.9 511.7h0M314.8 526.5h0M317.5 528.0h0M343.8 514.6h0M322.6 505.1h0M317.2 522.1h0M320.5 527.4h0M318.0 515.4h0M326.3 516.6h0M315.2 516.9h0M342.5 484.1h0M314.1 523.5h0M323.9 525.5h0M324.4 526.0h0M320.2 523.9h0M315.2 526.3h0M313.0 521.2h0M318.8 514.9h0M321.0 523.3h0M314.8 525.0h0M325.4 522.4h0M322.7 523.9h0M314.8 525.7h0M334.2 519.4h0M330.8 513.0h0M313.3 526.0h0M314.7 526.5h0M328.1 524.4h0M385.4 517.9h0M313.7 524.0h0M323.0 526.0h0M320.8 527.2h0M330.4 518.8h0M316.4 516.8h0M341.8 523.9h0M321.7 516.1h0M316.5 522.5h0M321.5 522.8h0M314.6 521.4h0M312.7 527.4h0M313.9 527.1h0M361.5 525.0h0M337.3 512.5h0M314.3 518.5h0M328.7 497.7h0M363.1 446.2h0M315.8 524.3h0M345.2 527.4h0M319.7 523.4h0M354.0 516.5h0M315.1 522.8h0M314.1 525.7h0M315.0 527.8h0M312.8 520.4h0M318.4 522.3h0M391.3 500.9h0M316.0 521.2h0M313.8 517.0h0M357.0 520.6h0M323.3 525.1h0M319.4 526.0h0M321.0 517.7h0M326.4 527.9h0M328.7 524.7h0M334.1 499.1h0M405.1 518.3h0M317.1 520.0h0M313.4 519.3h0M314.2 516.1h0M361.2 526.5h0M316.2 516.3h0M317.7 526.8h0M355.0 490.4h0M349.9 498.5h0M313.7 519.0h0M313.4 524.6h0M313.9 525.7h0M317.7 525.1h0M327.1 495.5h0M315.0 525.3h0M317.9 523.2h0M328.6 504.7h0M314.6 520.1h0M326.4 523.0h0M313.4 527.3h0M326.3 512.9h0M321.6 525.9h0M312.8 523.0h0M327.8 524.1h0M387.2 515.0h0M330.4 497.5h0M318.1 526.3h0M318.2 517.3h0M316.4 526.3h0M323.0 509.1h0M321.0 519.4h0M326.9 519.0h0M315.1 522.1h0M321.5 520.1h0M314.4 523.0h0M332.0 503.7h0M314.4 521.2h0M315.4 526.9h0M313.9 517.5h0M316.7 522.5h0M320.0 513.6h0M317.9 526.3h0M314.2 519.8h0M326.9 496.4h0M313.8 527.9h0M315.9 527.6h0M331.0 526.9h0M315.9 526.9h0M315.1 527.5h0M316.7 515.6h0M315.1 521.5h0M313.3 519.3h0M318.4 508.6h0M323.1 525.6h0M312.6 521.9h0M327.3 505.7h0M316.3 525.0h0M316.8 520.4h0M315.8 521.2h0M332.4 518.5h0M316.4 521.3h0M313.6 523.7h0M315.3 516.7h0M314.3 525.8h0M348.8 487.3h0M319.5 526.1h0M324.4 527.7h0M316.2 525.5h0M392.8 525.3h0M316.5 525.4h0M315.9 523.0h0M314.0 526.9h0M325.4 526.7h0M314.1 526.1h0M329.0 518.9h0M313.3 527.9h0M314.3 527.5h0M317.8 517.8h0M318.8 511.0h0M313.7 525.5h0M361.3 524.4h0M316.2 523.4h0M314.3 521.9h0M316.8 523.1h0M320.1 510.5h0M313.3 523.7h0M318.5 526.9h0M325.5 505.2h0M313.8 525.8h0M318.1 528.0h0M330.2 527.5h0M336.5 524.4h0M344.0 508.1h0M320.8 516.0h0M333.5 525.0h0M329.4 509.8h0M331.8 520.7h0M325.7 526.5h0M318.2 525.1h0M319.4 519.1h0M313.7 524.8h0M320.0 518.2h0M324.0 527.6h0M346.0 526.1h0M350.2 520.6h0M328.8 517.7h0M364.9 525.7h0M312.8 520.3h0M313.0 525.1h0M328.1 518.3h0M313.6 521.4h0M328.1 517.6h0M313.2 525.1h0M321.3 518.5h0M322.0 512.0h0M316.1 523.1h0M318.4 526.2h0M334.1 523.2h0M315.8 523.8h0M321.1 514.1h0M318.1 522.6h0M341.5 507.1h0M312.7 526.9h0M316.7 519.0h0M327.3 508.0h0M319.8 526.3h0M315.4 524.2h0M329.9 491.3h0M345.4 522.5h0M313.8 527.7h0M343.3 467.8h0M312.8 518.6h0M316.2 526.8h0M321.0 519.2h0M317.9 523.8h0M372.8 526.6h0M336.0 527.9h0M314.4 527.5h0M313.0 527.8h0M352.8 526.2h0M315.3 518.0h0M314.9 517.6h0M317.9 516.7h0M318.2 526.3h0M331.9 525.6h0M326.7 527.1h0M329.6 521.8h0M317.6 525.3h0M314.6 524.5h0M324.0 510.8h0M342.0 521.7h0M313.4 525.2h0M336.7 496.4h0M330.7 491.0h0M315.9 527.6h0M321.2 527.2h0M313.3 527.9h0M312.5 521.6h0M318.5 517.9h0M314.9 516.1h0M313.1 527.8h0M360.2 525.8h0M382.3 518.6h0M337.2 487.0h0M328.4 498.8h0M315.9 513.6h0M369.4 521.5h0M326.2 499.7h0M318.0 527.1h0M313.9 525.7h0M319.9 524.9h0M313.3 524.5h0M336.0 524.5h0M331.4 490.0h0M313.8 526.2h0M394.0 523.7h0M335.4 508.6h0M323.2 504.7h0M327.5 525.7h0M320.1 510.2h0M317.3 524.9h0M316.9 522.3h0M322.5 508.0h0M318.7 508.8h0M318.7 517.6h0M322.2 522.6h0M324.1 526.2h0M313.8 526.9h0M314.5 516.7h0M318.0 510.8h0M315.8 523.9h0M324.7 526.7h0M332.6 511.9h0M320.7 526.9h0M314.0 527.7h0M326.3 519.2h0M337.5 496.5h0M314.1 517.2h0M313.7 518.0h0M328.2 498.9h0M313.0 519.2h0M321.6 518.7h0M322.2 508.5h0M325.9 497.7h0M327.7 507.4h0M314.3 527.1h0M344.5 527.6h0M314.8 526.8h0M320.9 513.1h0M326.4 519.7h0M337.4 484.1h0M318.2 511.2h0M323.5 513.5h0M316.0 524.6h0M321.9 510.3h0M318.1 514.5h0M313.4 526.6h0M314.9 526.4h0M316.4 526.2h0M314.8 514.9h0M315.0 526.5h0M317.8 515.1h0M330.8 527.6h0M321.3 524.1h0M324.4 527.4h0M313.3 519.4h0M317.4 511.8h0M315.1 521.4h0M318.5 523.4h0M353.5 526.8h0M314.8 527.7h0M319.4 520.1h0M312.7 527.2h0M316.1 515.6h0M327.4 516.1h0M312.9 527.9h0M313.0 518.1h0M345.0 458.7h0M316.8 519.0h0M319.3 510.9h0M315.8 527.8h0M328.6 506.5h0M313.5 525.3h0M342.1 480.3h0M314.5 518.7h0M313.8 518.1h0M326.9 494.8h0M313.3 523.4h0M315.0 526.7h0M316.4 519.7h0M325.2 523.0h0M337.9 525.8h0M335.3 492.2h0M342.3 513.6h0M318.4 509.7h0M312.6 527.5h0M340.2 524.9h0M326.3 525.8h0M318.4 509.3h0M315.9 522.6h0M318.8 526.7h0M312.7 525.3h0M315.5 519.8h0M321.8 518.0h0M313.9 521.5h0M314.1 518.2h0M336.7 515.5h0M339.2 495.3h0M320.3 518.2h0M331.6 525.7h0M314.4 521.4h0M322.5 519.0h0M316.4 527.1h0M337.6 523.4h0M313.0 524.4h0M326.0 513.3h0M315.8 520.6h0M317.4 527.5h0M336.5 490.5h0M346.0 525.9h0M430.3 525.1h0M339.3 501.5h0M335.5 508.1h0M314.4 518.8h0M314.3 524.6h0M324.1 520.8h0M327.1 498.0h0M323.4 522.1h0M320.4 515.4h0M313.1 526.5h0M324.0 516.2h0M313.8 527.7h0M315.4 527.0h0M346.8 517.3h0M316.2 515.7h0M315.2 514.3h0M314.8 524.4h0M323.5 525.9h0M316.0 525.8h0M330.2 524.0h0M327.0 515.5h0M313.1 526.5h0M328.2 526.4h0M313.5 526.9h0M321.2 525.4h0M328.7 505.4h0M312.9 524.4h0M312.9 527.2h0M314.8 525.4h0M321.9 506.0h0M336.6 527.3h0M316.8 527.9h0M314.2 519.4h0M314.2 520.2h0M414.9 498.5h0M314.3 523.6h0M316.4 521.9h0M312.6 526.2h0M331.7 521.8h0M318.7 526.3h0M318.4 508.6h0M319.6 519.4h0M316.3 526.9h0M331.2 495.7h0M356.9 440.6h0M321.9 522.4h0M316.9 514.9h0M365.2 522.4h0M315.6 521.6h0M315.7 520.4h0M315.0 525.2h0M312.7 525.3h0M313.9 517.5h0M314.8 527.1h0M317.4 512.5h0M314.9 517.0h0M314.1 520.1h0M332.6 524.8h0M332.1 493.8h0M314.5 526.3h0M325.5 524.2h0M373.6 517.2h0M323.3 521.4h0M325.1 509.7h0M415.6 522.9h0M317.7 515.3h0M319.5 522.5h0M339.1 526.8h0M325.9 515.3h0M328.4 508.7h0M336.5 508.4h0M370.4 524.0h0M312.6 520.9h0M312.6 526.8h0M312.8 527.3h0M320.8 526.6h0M352.2 527.8h0M312.8 527.3h0M316.7 517.9h0M316.3 527.3h0M314.8 522.4h0M336.4 501.7h0M333.0 526.1h0M336.5 480.8h0M355.0 524.2h0M315.3 516.2h0M316.9 520.8h0M330.4 510.6h0M313.9 527.3h0M318.6 511.7h0M335.3 483.4h0M325.1 525.3h0M336.1 526.8h0M314.8 525.4h0M345.2 516.1h0M314.1 519.9h0M324.0 515.5h0M314.5 519.9h0M316.6 527.2h0M319.5 526.0h0M341.2 523.4h0M332.8 503.9h0M313.2 523.6h0M316.0 518.2h0M313.6 520.8h0M315.3 522.5h0M314.7 526.8h0M326.1 525.8h0M331.8 525.3h0M321.1 508.6h0M314.2 524.7h0M338.4 488.9h0M320.3 523.8h0M312.7 527.2h0M314.0 526.4h0M315.5 525.4h0M315.6 525.8h0M316.5 517.4h0M317.3 515.9h0M314.2 520.0h0M457.4 508.5h0M363.7 522.3h0M319.3 524.8h0M314.1 527.1h0M314.4 526.7h0M327.2 496.8h0M314.8 521.2h0M353.6 510.2h0M314.5 523.9h0M321.9 521.2h0M321.3 506.7h0M312.9 526.0h0M320.4 509.5h0M313.6 522.4h0M371.3 527.0h0M314.2 523.4h0M313.3 525.5h0M324.1 526.6h0M319.9 510.7h0M320.7 515.8h0M317.1 514.8h0M325.5 518.4h0M328.4 526.0h0M315.2 527.5h0M498.2 504.7h0M313.0 519.6h0M353.8 527.1h0M332.7 512.5h0M367.8 506.8h0M314.5 526.9h0M347.2 470.1h0M317.1 524.3h0M316.9 515.0h0M317.7 517.6h0M326.1 497.0h0M348.7 515.0h0M318.1 510.3h0M323.4 500.6h0M323.7 522.6h0M344.7 515.8h0M320.9 509.5h0M352.2 524.0h0M320.2 521.5h0M317.7 511.5h0M316.4 527.8h0M313.8 517.3h0M313.3 520.4h0M317.6 517.3h0M316.6 527.6h0M312.7 519.1h0M327.8 527.8h0M312.9 525.1h0M317.3 512.5h0M321.5 507.7h0M320.6 527.3h0M313.0 527.4h0M312.5 523.3h0M314.4 525.2h0M320.1 522.6h0M324.8 520.9h0M323.4 526.0h0M334.0 522.8h0M337.1 521.2h0M318.8 522.0h0M401.8 481.6h0M314.0 527.1h0M381.7 463.1h0M319.2 525.3h0M313.3 521.5h0M335.1 508.0h0M313.4 523.7h0M313.6 526.8h0M313.1 524.8h0M344.8 484.2h0M328.1 511.6h0M345.4 521.6h0M340.4 527.7h0M336.6 511.9h0M315.6 523.6h0M319.6 523.0h0M337.1 524.6h0M318.6 514.9h0M337.1 482.6h0M343.9 491.2h0M326.6 515.9h0M313.6 525.1h0M342.0 522.8h0M316.2 516.2h0M321.5 527.4h0M316.1 516.8h0M316.3 523.9h0M315.3 522.4h0M318.7 509.8h0M318.6 527.5h0M315.0 514.6h0M320.7 527.3h0M320.1 520.7h0M333.7 520.2h0M321.3 525.2h0M319.4 521.4h0M317.4 521.0h0M321.7 525.2h0M319.0 527.7h0M316.8 523.1h0M313.4 525.4h0M322.8 509.8h0M313.3 522.1h0M322.3 520.5h0M365.2 511.9h0M319.1 527.7h0M317.1 527.4h0M317.6 513.1h0M325.9 498.4h0M327.5 511.0h0M314.0 527.0h0M315.2 526.4h0M317.4 519.1h0M323.2 524.8h0M326.1 525.6h0M324.8 518.2h0M319.0 509.2h0M312.9 527.6h0M331.3 489.1h0M326.4 527.7h0M353.1 514.0h0M338.3 486.5h0M314.7 522.3h0M370.3 508.8h0M317.5 526.6h0M312.6 527.7h0M326.8 526.0h0M338.3 526.8h0M321.6 516.6h0M318.2 520.6h0M335.7 524.6h0M322.4 516.0h0M318.8 526.3h0M325.6 511.6h0M328.0 524.2h0M314.3 518.0h0M341.4 526.1h0M330.9 513.7h0M324.3 506.7h0M324.7 500.8h0M317.0 513.1h0M350.6 522.0h0M333.1 523.2h0M314.5 521.4h0M317.7 523.3h0M315.3 524.1h0M312.6 527.9h0M315.8 520.3h0M315.1 527.3h0M343.0 522.6h0M313.1 527.7h0M330.4 493.3h0M313.3 527.2h0M320.4 527.3h0M353.2 527.7h0M331.3 489.9h0M317.7 512.9h0M313.2 526.7h0M312.8 519.7h0M329.7 508.2h0M327.3 518.8h0M326.8 500.5h0M322.6 501.6h0M350.0 525.7h0M313.4 518.2h0M314.3 522.2h0M318.0 527.5h0M337.3 522.8h0M322.9 519.8h0M313.0 527.8h0M318.9 513.0h0M312.9 523.8h0M324.1 518.5h0M323.6 506.6h0M336.4 483.0h0M337.0 527.4h0M320.1 506.4h0M312.8 519.6h0M318.3 526.0h0M319.1 517.1h0M320.5 523.9h0M324.9 524.7h0M323.2 506.2h0M388.8 517.7h0M316.8 526.9h0M322.9 513.4h0M317.6 510.4h0M337.7 497.5h0M345.7 527.7h0M367.6 524.4h0M317.9 524.0h0M326.1 499.4h0M333.7 522.0h0M341.9 481.7h0M332.2 527.5h0M321.4 523.8h0M315.9 520.8h0M337.7 520.1h0M316.3 525.3h0M319.9 522.4h0M334.0 519.5h0M312.6 523.4h0M347.2 527.6h0M316.3 527.9h0M329.2 494.2h0M314.9 527.3h0M325.0 500.1h0M315.6 526.3h0M332.1 500.8h0M313.1 525.9h0M312.6 526.9h0M317.1 527.8h0M316.7 522.5h0M322.4 524.1h0M318.5 517.3h0M321.8 524.5h0M332.1 500.4h0M327.3 527.1h0M314.9 521.4h0M356.1 526.3h0M315.3 516.4h0M315.2 519.2h0M319.3 508.7h0M315.1 525.1h0M318.3 510.3h0M320.9 514.3h0M333.5 516.4h0M315.8 522.7h0M348.4 522.3h0M325.8 523.8h0M324.7 503.8h0M314.2 523.7h0M320.6 518.9h0M323.3 522.8h0M316.5 521.9h0M313.5 527.0h0M374.2 509.2h0M333.0 509.5h0M335.1 524.0h0M315.4 514.0h0M326.6 527.7h0M317.0 517.0h0M312.7 527.4h0M313.7 524.9h0M330.7 520.5h0M315.2 521.2h0M347.4 520.9h0M315.9 513.0h0M314.6 518.9h0M328.6 514.6h0M321.8 513.7h0M321.6 508.1h0M364.9 504.8h0M320.8 526.2h0M314.6 524.5h0M313.4 518.9h0M317.2 518.8h0M327.9 527.1h0M321.2 527.4h0M325.8 518.5h0M318.3 527.8h0M318.9 517.5h0M318.3 517.4h0M314.4 527.0h0M318.0 527.7h0M314.6 526.0h0M316.1 527.7h0M312.8 521.8h0M317.5 525.0h0M315.9 527.3h0M343.6 527.5h0M334.4 520.7h0M319.7 509.0h0M317.4 521.4h0M328.8 518.2h0M314.9 523.2h0M314.5 526.9h0M347.8 504.6h0M347.7 490.3h0M319.3 513.9h0M317.4 523.0h0M328.3 508.0h0M324.7 522.7h0M314.2 526.6h0M315.4 525.3h0M335.6 493.6h0M313.3 518.5h0M330.6 523.4h0M318.4 521.3h0M321.3 523.1h0M316.4 522.6h0M325.7 522.6h0M313.7 523.9h0M314.3 522.5h0M318.8 518.9h0M313.1 526.5h0M313.2 522.6h0M316.2 522.7h0M312.7 523.5h0M313.2 521.5h0M403.5 527.2h0M324.7 524.4h0M313.6 524.1h0M318.6 523.8h0M358.5 462.9h0M314.6 520.8h0M316.6 512.3h0M342.5 509.2h0M330.6 503.2h0M342.0 523.8h0M407.7 522.5h0M313.1 522.2h0M318.2 521.9h0M331.2 522.7h0M314.8 519.2h0M323.0 503.2h0M316.9 516.0h0M320.7 508.3h0M314.9 516.7h0M396.3 511.5h0M344.5 497.6h0M347.5 521.4h0M313.9 518.0h0M321.7 525.7h0M351.3 527.2h0M314.3 523.4h0M327.0 514.7h0M330.1 498.2h0M312.9 526.0h0M335.4 519.5h0M323.3 510.4h0M317.2 519.6h0M318.9 521.2h0M323.6 523.9h0M350.2 478.9h0M317.0 526.4h0M313.4 525.0h0M319.2 519.8h0M335.2 503.0h0M316.2 527.8h0M316.6 518.0h0M393.1 515.5h0M316.8 527.0h0M350.7 496.0h0M313.4 519.3h0M317.7 523.6h0M317.3 520.0h0M312.7 523.4h0M360.4 511.4h0M314.7 524.1h0M339.8 472.7h0M324.5 499.5h0M318.2 509.9h0M326.6 521.6h0M313.3 524.8h0M347.9 522.6h0M317.4 522.2h0M323.4 526.6h0M352.2 512.8h0M313.1 524.5h0M329.2 515.6h0M313.3 519.7h0M316.8 524.7h0M324.5 505.7h0M315.6 522.0h0M315.0 526.6h0M334.4 527.6h0M322.2 525.1h0M314.3 524.9h0M313.8 525.1h0M340.2 526.5h0M313.6 526.6h0M323.6 507.7h0M319.3 525.4h0M321.7 508.6h0M348.5 528.0h0M326.3 498.2h0M334.4 525.3h0M313.2 524.6h0M365.0 514.3h0M327.5 500.3h0M321.6 511.2h0M332.0 524.4h0M313.9 523.6h0M329.0 523.0h0M313.4 525.4h0M315.1 514.6h0M323.7 503.5h0M316.4 521.3h0M332.1 511.0h0M326.6 525.7h0M312.9 522.2h0M314.9 527.1h0M368.7 527.4h0M321.2 523.0h0M328.1 518.4h0M314.3 522.7h0M316.0 524.9h0M315.5 522.4h0M314.7 522.6h0M328.7 505.2h0M324.3 527.7h0M324.8 518.9h0M312.9 523.4h0M313.4 519.7h0M313.5 527.5h0M314.0 525.0h0M322.1 523.0h0M334.1 521.0h0M384.8 521.0h0M343.7 460.8h0M327.2 499.8h0M371.0 501.7h0M323.7 521.4h0M360.8 473.7h0M318.1 519.2h0M312.8 527.7h0M322.4 525.7h0M372.5 525.0h0M314.2 526.5h0M314.4 527.9h0M313.9 524.1h0M367.0 523.6h0M321.8 515.1h0M326.8 497.0h0M328.8 513.9h0M324.8 514.9h0M335.8 497.7h0M314.5 523.4h0M312.9 524.5h0M336.3 486.9h0M328.0 514.1h0M316.0 525.3h0M320.1 517.9h0M316.4 518.4h0M317.9 527.2h0M316.0 527.3h0M333.8 512.3h0M315.0 521.5h0M313.8 522.6h0M438.2 527.7h0M348.9 523.8h0M316.1 526.2h0M338.7 485.1h0M319.8 520.2h0M328.3 495.1h0M314.9 520.9h0M321.0 526.1h0M313.3 527.7h0M335.8 515.1h0M313.9 526.5h0M321.5 526.8h0M320.3 505.4h0M374.4 505.0h0M313.2 525.3h0M348.0 456.7h0M329.8 510.0h0M317.2 527.4h0M313.7 527.3h0M312.7 527.2h0M322.2 525.8h0M349.9 513.9h0M326.1 505.7h0M318.0 526.6h0M314.3 525.7h0M327.6 526.2h0M346.3 449.7h0M319.3 507.6h0M314.6 525.2h0M364.6 525.3h0M340.1 526.6h0M314.7 524.1h0M356.6 499.1h0M312.6 523.9h0M313.9 518.0h0M315.5 527.5h0M315.9 525.6h0M315.8 522.2h0M314.1 527.3h0M315.3 526.5h0M312.8 525.0h0M317.4 519.0h0M320.9 506.4h0M331.3 526.8h0M336.7 519.5h0M316.1 519.5h0M341.2 522.9h0M341.3 482.0h0M316.2 523.8h0M320.4 521.0h0M318.8 526.6h0M319.6 507.3h0M318.2 525.1h0M324.2 525.5h0M323.0 523.6h0M322.5 518.6h0M320.3 521.2h0M315.7 524.4h0M328.5 517.9h0M324.2 504.4h0M316.7 513.5h0M409.2 516.8h0M333.1 497.6h0M317.5 512.4h0M333.3 483.6h0M312.6 523.2h0M360.5 492.6h0M315.3 525.2h0M329.3 494.6h0M341.2 512.1h0M323.9 521.8h0M359.5 512.4h0M315.7 519.5h0M319.7 522.4h0M313.2 522.4h0M319.0 523.1h0M313.6 527.4h0M314.2 525.9h0M315.8 526.1h0M325.3 504.2h0M313.6 521.5h0M319.0 517.8h0M317.3 512.7h0M316.1 526.3h0M312.8 523.9h0M333.5 516.7h0M352.9 526.8h0M322.8 519.2h0M338.1 524.9h0M313.9 519.0h0M334.0 515.9h0M314.5 524.5h0M313.5 517.6h0M328.5 523.7h0M317.2 521.6h0M316.8 526.9h0M339.2 485.9h0M315.0 523.2h0M322.1 525.4h0M313.9 522.2h0M312.6 520.7h0M314.4 527.9h0M316.0 524.7h0M312.9 518.8h0M315.2 525.1h0M325.8 520.7h0M327.0 525.2h0M325.5 507.1h0M330.7 525.6h0M318.4 516.9h0M317.3 512.0h0M313.4 526.6h0M316.3 526.3h0M317.7 516.0h0M327.9 502.2h0M314.8 521.2h0M318.5 525.1h0M327.1 525.6h0M314.8 526.0h0M328.9 524.1h0M321.5 508.9h0M314.8 521.3h0M313.5 520.4h0M326.2 512.5h0M325.5 523.0h0M330.1 507.8h0M323.7 524.8h0M314.9 525.8h0M317.0 525.3h0M355.2 527.5h0M340.4 502.5h0M315.8 523.5h0M322.1 516.8h0M319.3 514.3h0M313.6 517.8h0M314.5 523.9h0M312.7 527.6h0M337.1 522.9h0M331.0 512.3h0M321.7 506.0h0M335.4 504.8h0M313.0 521.6h0M317.1 524.4h0M343.7 523.1h0M316.7 524.8h0M321.9 524.1h0M353.6 527.9h0M328.8 508.6h0M313.7 525.8h0M320.9 514.9h0M313.1 522.9h0M313.6 522.7h0M317.2 518.7h0M318.0 527.4h0M339.0 492.0h0M315.6 527.6h0M324.8 505.8h0M313.4 527.6h0M313.0 523.8h0M317.0 513.4h0M360.7 524.3h0M316.6 522.7h0M313.0 519.7h0M315.0 526.4h0M315.7 527.2h0M331.8 521.8h0M340.2 481.5h0M312.9 525.4h0M317.5 521.7h0M325.4 517.8h0M312.7 524.1h0M316.9 527.0h0M313.7 527.1h0M323.5 501.1h0M317.1 525.3h0M316.0 525.1h0M334.1 487.1h0M324.9 506.1h0M322.5 524.3h0M321.3 512.3h0M314.3 526.4h0M319.0 507.5h0M362.9 512.2h0M312.8 519.1h0M321.2 512.6h0M314.7 522.3h0M317.8 526.5h0M337.8 526.8h0M318.1 514.6h0M336.9 492.4h0M321.7 504.6h0M324.9 520.3h0M373.2 511.9h0M313.3 523.2h0M318.2 524.2h0M325.0 519.5h0M319.9 526.2h0M315.3 517.0h0M319.9 512.4h0M317.1 524.5h0M313.4 524.4h0M315.0 526.6h0M427.9 523.2h0M358.4 526.7h0M321.7 527.1h0M322.9 503.5h0M321.7 526.3h0M339.7 517.8h0M319.7 516.8h0M328.2 498.7h0M314.6 521.0h0M322.0 525.2h0M319.5 526.4h0M314.7 523.8h0M318.0 526.4h0M314.5 521.3h0M338.8 516.7h0M313.2 526.9h0M314.3 527.9h0M347.4 449.0h0M331.1 504.7h0M327.6 503.5h0M321.1 519.0h0M339.4 478.9h0M315.2 526.8h0M336.6 486.9h0M348.0 522.8h0M319.0 520.7h0M345.4 505.5h0M322.6 503.4h0M321.3 505.9h0M315.1 518.5h0M313.5 522.5h0M314.1 525.9h0M314.5 524.5h0M316.1 525.4h0M316.6 512.5h0M327.0 502.8h0M324.4 527.0h0M330.5 508.7h0M319.3 524.5h0M320.6 512.5h0M318.5 512.0h0M314.4 527.0h0M313.1 527.5h0M314.2 521.0h0M322.0 515.9h0M317.7 510.2h0M314.7 527.3h0M319.4 521.5h0M320.9 525.0h0M324.3 502.7h0M312.7 524.7h0M325.3 519.1h0M364.3 522.2h0M317.7 526.7h0M313.6 522.7h0M353.8 526.2h0M336.0 526.9h0M375.6 527.7h0M312.7 528.0h0M345.9 478.2h0M314.7 520.7h0M332.2 488.3h0M340.5 505.1h0M317.3 515.0h0M341.6 527.0h0M320.0 506.1h0M312.9 524.4h0M344.5 484.4h0M324.8 499.6h0M329.0 507.6h0M319.8 527.4h0M317.2 519.7h0M321.4 517.7h0M314.3 525.7h0M320.2 509.8h0M357.1 503.2h0M338.9 510.1h0M313.1 525.1h0M315.5 521.5h0M316.0 524.1h0M330.2 527.0h0M324.9 506.2h0M314.4 526.1h0M313.0 525.5h0M314.7 524.7h0M329.1 505.7h0M313.1 522.3h0M314.4 520.9h0M341.2 523.1h0M313.5 520.4h0M354.1 525.4h0M322.2 505.8h0M330.4 527.8h0M340.6 494.7h0M321.1 517.1h0M313.9 528.0h0M324.6 526.4h0M316.5 521.3h0M322.4 511.6h0M313.7 527.5h0M322.4 517.0h0M351.3 476.4h0M318.7 516.9h0M327.0 508.7h0M320.6 526.6h0M323.4 501.2h0M322.0 505.9h0M320.7 506.2h0M314.5 527.5h0M313.4 527.0h0M336.1 503.6h0M330.9 522.8h0M319.9 506.1h0M324.1 525.9h0M313.8 526.9h0M315.4 519.5h0M319.2 509.4h0M318.7 511.0h0M325.4 521.2h0M316.0 525.5h0M323.0 508.1h0M338.5 492.7h0M322.8 527.8h0M312.5 523.3h0M327.1 522.7h0M342.9 503.9h0M316.1 520.7h0M340.4 493.8h0M326.3 522.9h0M323.7 505.4h0M420.6 525.6h0M331.8 519.5h0M315.4 519.8h0M324.4 499.9h0M319.5 519.3h0M328.7 499.9h0M318.2 525.4h0M316.8 526.3h0M312.7 525.2h0M322.7 519.1h0M316.7 522.1h0M313.0 525.0h0M318.8 527.6h0M316.4 526.8h0M334.5 488.5h0M314.6 525.4h0M334.1 524.8h0M314.2 526.9h0M322.8 520.7h0M316.7 516.5h0M349.6 474.0h0M314.9 524.5h0M320.7 523.0h0M325.8 512.1h0M313.8 527.7h0M338.2 480.0h0M317.0 524.9h0M324.4 522.9h0M317.9 527.1h0M328.8 501.5h0M317.8 525.9h0M313.0 526.7h0M315.1 515.1h0M320.3 518.4h0M479.7 525.9h0M313.2 523.8h0M315.1 521.3h0M330.7 491.1h0M312.9 525.4h0M316.6 523.8h0M313.1 526.7h0M322.7 525.8h0M325.8 506.9h0M318.4 518.4h0M312.7 527.9h0M318.1 514.3h0M316.1 524.6h0M332.8 519.3h0M313.7 527.0h0M313.0 525.3h0M328.9 496.6h0M322.9 508.3h0M314.0 523.8h0M314.8 519.9h0M313.5 519.5h0M318.7 517.5h0M338.2 488.4h0M359.8 500.3h0M322.7 520.8h0M339.5 527.0h0M321.6 524.9h0M349.1 522.1h0M321.4 508.7h0M313.8 516.8h0M330.8 501.9h0M317.3 514.7h0M313.4 525.8h0M333.4 485.8h0M315.5 524.7h0M329.5 513.1h0M318.8 508.0h0M320.1 526.8h0M313.5 522.6h0M314.9 527.1h0M345.8 462.1h0M312.7 527.2h0M321.4 519.9h0M335.7 527.7h0M328.7 520.4h0M372.8 526.3h0M337.8 526.7h0M327.0 501.0h0M361.0 524.0h0M314.0 522.0h0M330.5 522.9h0M314.1 527.5h0M346.7 506.2h0M323.1 514.4h0M346.7 504.6h0M338.8 519.9h0M321.6 525.0h0M325.6 504.8h0M313.4 521.1h0M356.1 520.5h0M313.2 521.9h0M340.9 526.9h0M313.7 522.6h0M347.5 471.0h0M312.7 521.7h0M313.9 524.4h0M334.7 527.1h0M317.8 511.9h0M318.3 515.2h0M317.2 513.5h0M316.1 519.1h0M316.3 523.1h0M318.0 520.7h0M317.1 524.8h0M326.7 523.3h0M347.0 518.5h0M314.4 522.2h0M314.8 527.5h0M345.4 488.6h0M342.7 514.2h0M324.5 525.9h0M354.1 435.6h0M456.9 526.4h0M319.2 510.8h0M313.9 519.8h0M331.6 510.3h0M406.2 527.0h0M320.7 525.2h0M322.6 527.9h0M334.1 525.7h0M318.8 519.0h0M352.1 525.0h0M317.7 522.8h0M315.2 517.1h0M313.8 521.3h0M314.5 516.4h0M320.7 522.2h0M323.9 526.6h0M317.0 525.9h0M346.9 527.3h0M317.0 526.7h0M328.5 505.7h0M321.8 502.7h0M317.3 519.6h0M322.1 503.7h0M321.6 526.5h0M330.2 505.7h0M322.9 517.4h0M358.3 512.2h0M319.1 514.5h0M312.9 526.5h0M392.9 516.4h0M315.1 525.6h0M324.0 517.4h0M314.6 526.4h0M312.7 528.0h0M323.7 524.0h0M340.0 524.8h0M317.4 527.6h0M318.3 527.8h0M315.2 523.2h0M329.1 525.7h0M315.0 520.0h0M318.2 523.9h0M323.0 525.7h0M332.8 526.5h0M313.1 524.1h0M313.3 524.2h0M314.3 526.1h0M321.9 509.3h0M326.5 528.0h0M313.6 527.6h0M347.4 504.3h0M316.6 519.7h0M325.4 505.4h0M318.6 512.3h0M316.3 520.2h0M316.4 527.0h0M371.9 526.3h0M312.9 527.7h0M329.7 523.1h0M316.6 520.4h0M314.5 525.2h0M317.8 527.8h0M312.9 525.1h0M313.9 524.1h0M314.5 519.2h0M322.9 506.2h0M393.1 523.5h0M365.1 518.3h0M313.6 527.3h0M416.8 516.0h0M316.3 525.3h0M314.4 526.3h0M319.1 519.2h0M322.9 517.1h0M355.6 526.4h0M315.6 527.9h0M317.6 522.3h0M318.4 523.8h0M329.1 519.7h0M317.3 524.7h0M315.9 518.9h0M315.2 519.4h0M384.0 527.1h0M328.0 493.2h0M318.0 526.2h0M327.8 522.2h0M317.2 527.5h0M332.7 503.7h0M325.5 522.1h0M312.9 524.3h0M336.4 526.5h0M314.5 527.9h0M338.8 515.0h0M360.8 514.2h0M322.4 514.4h0M325.0 506.7h0M327.6 516.3h0M346.8 501.2h0M314.7 524.6h0M313.5 528.0h0M313.3 519.4h0M316.6 528.0h0M342.7 509.7h0M327.8 503.8h0M313.7 523.2h0M363.1 517.2h0M317.3 526.8h0M348.0 526.8h0M343.6 523.5h0M314.5 519.7h0M338.1 508.9h0M315.0 514.9h0M331.2 520.9h0M329.9 516.5h0M315.9 517.6h0M328.8 527.6h0M312.7 519.7h0M316.0 524.9h0M345.9 514.0h0M342.6 521.7h0M313.5 527.4h0M313.5 526.5h0M341.7 515.7h0M317.4 527.4h0M352.1 526.1h0M323.8 517.1h0M361.0 487.1h0M325.4 509.3h0M319.7 514.6h0M344.6 481.6h0M314.3 520.4h0M322.4 524.8h0M323.6 522.0h0M328.1 504.3h0M312.9 527.5h0M313.3 526.8h0M313.7 526.6h0M313.7 527.4h0M312.8 527.5h0M314.0 521.1h0M347.8 476.2h0M323.0 520.5h0M332.7 484.5h0M340.3 521.5h0M312.6 527.6h0M315.2 524.0h0M315.8 526.3h0M316.4 518.8h0M352.6 516.0h0M312.5 527.5h0M328.7 513.3h0M336.7 525.0h0M335.6 522.1h0M338.7 508.0h0M312.5 524.9h0M328.7 525.9h0M315.4 523.5h0M319.7 516.9h0M319.3 514.2h0M317.5 523.7h0M318.9 509.6h0M392.3 525.2h0M328.1 523.3h0M313.6 527.1h0M343.7 512.0h0M372.5 521.8h0M347.8 466.4h0M315.9 524.9h0M331.9 494.0h0M332.9 527.0h0M316.1 518.2h0M315.5 527.0h0M318.6 526.8h0M321.6 517.8h0M319.7 508.5h0M316.7 521.7h0M314.2 524.0h0M316.3 523.8h0M327.7 519.3h0M320.4 519.1h0M317.0 522.5h0M340.2 506.2h0M314.7 524.2h0M313.6 527.2h0M314.3 525.6h0M314.0 524.5h0M318.5 524.0h0M316.0 517.2h0M323.8 510.7h0M379.3 518.5h0M315.7 524.6h0M312.9 528.0h0M315.7 518.2h0M362.8 526.5h0M315.8 525.5h0M323.1 505.2h0M441.3 527.2h0M314.3 526.3h0M326.9 525.8h0M315.9 525.9h0M313.3 518.9h0M318.3 525.7h0M316.2 526.0h0M314.1 527.5h0M314.1 518.7h0M324.0 501.8h0M318.3 527.9h0M313.6 524.3h0M342.9 480.1h0M322.7 503.3h0M343.8 522.8h0M317.0 526.9h0M316.3 524.7h0M312.7 527.3h0M329.9 498.7h0M331.0 517.2h0M333.4 517.3h0M326.8 494.7h0M314.7 524.6h0M348.7 517.7h0M313.7 523.7h0M323.8 527.3h0M320.0 512.3h0M313.0 524.7h0M318.4 523.3h0M322.5 525.9h0M322.6 524.6h0M403.2 521.8h0M314.9 521.1h0M335.5 520.3h0M316.2 520.6h0M313.2 524.6h0M320.9 525.0h0M312.8 523.5h0M321.7 513.4h0M325.9 524.1h0M317.4 523.4h0M318.1 523.8h0M313.8 521.5h0M316.7 522.0h0M314.8 515.4h0M336.1 490.6h0M329.4 507.3h0M327.8 508.8h0M314.0 520.2h0M313.0 521.4h0M314.7 518.6h0M323.5 511.5h0M317.7 521.0h0M350.1 525.7h0M344.4 518.8h0M316.2 523.8h0M325.4 505.1h0M316.2 517.1h0M327.8 510.5h0M376.5 515.3h0M314.9 523.9h0M328.0 492.3h0M318.6 528.0h0M324.0 525.9h0M315.5 526.3h0M313.7 522.3h0M312.9 526.6h0M313.8 524.4h0M324.2 523.2h0M342.7 489.4h0M314.0 522.4h0M331.6 487.4h0M334.4 521.7h0M317.4 518.0h0M333.4 522.7h0M314.6 520.9h0M312.7 522.6h0M339.9 492.2h0M319.5 512.2h0M314.8 520.6h0M312.8 519.1h0M357.4 519.2h0M325.1 505.2h0M333.2 520.3h0M327.1 499.3h0M313.1 518.3h0M315.7 522.1h0M371.4 517.6h0M327.3 495.2h0M347.8 516.4h0M316.0 524.4h0M329.3 519.0h0M314.4 526.9h0M312.7 527.7h0M379.6 526.9h0M317.3 513.6h0M317.2 517.9h0M316.5 518.9h0M327.9 522.4h0M349.4 493.6h0M321.4 516.5h0M316.6 527.6h0M324.4 524.9h0M321.3 513.3h0M338.7 507.1h0M344.8 500.2h0M314.0 527.1h0M322.1 506.2h0M312.9 525.9h0M312.7 524.9h0M341.2 508.6h0M341.8 522.4h0M398.8 525.7h0M315.9 524.4h0M328.5 527.9h0M320.2 512.1h0M324.1 525.0h0M316.9 519.9h0M366.3 524.8h0M323.4 520.4h0M320.1 523.6h0M349.0 450.1h0M324.5 525.8h0M333.6 527.1h0M318.9 510.6h0M334.6 522.3h0M335.5 526.2h0M313.7 523.2h0M347.3 525.0h0M318.7 527.2h0M318.6 519.1h0M339.5 527.1h0M317.4 521.2h0M316.5 524.4h0M318.5 526.5h0M313.1 527.1h0M317.4 523.0h0M326.2 527.1h0M341.5 474.1h0M332.2 521.1h0M315.0 517.9h0M335.7 526.4h0M313.9 523.8h0M319.6 527.8h0M324.9 525.5h0M316.0 521.3h0M317.3 526.2h0M316.7 513.2h0M316.5 515.3h0M343.3 527.6h0M325.8 518.8h0M325.6 502.1h0M338.2 518.8h0M316.0 518.5h0M321.6 521.8h0M312.7 522.5h0M363.5 526.5h0M314.3 519.8h0M316.1 518.4h0M325.3 519.9h0M322.2 508.2h0M325.0 522.8h0M347.2 514.6h0M320.4 520.8h0M337.7 486.8h0M331.6 513.6h0M338.7 500.7h0M335.0 505.5h0M316.9 513.9h0M313.1 527.5h0M314.0 525.5h0M313.6 524.1h0M340.2 497.6h0M316.6 527.1h0M313.6 523.7h0M313.1 525.0h0M348.0 527.3h0M336.9 521.3h0M317.6 517.0h0M321.3 514.7h0M331.0 502.8h0M347.2 513.5h0M322.2 516.3h0M322.9 519.3h0M314.3 519.8h0M348.1 527.9h0M327.9 510.2h0M327.8 520.8h0M320.4 506.8h0M320.7 522.8h0M316.5 527.9h0M358.6 526.4h0M319.4 511.4h0M332.6 523.5h0M313.1 526.1h0M348.6 519.5h0M318.9 512.4h0M320.4 513.1h0M314.0 526.2h0M341.2 519.9h0M316.6 527.5h0M312.8 526.3h0M314.7 523.8h0M321.9 526.8h0M330.3 526.5h0M312.7 527.2h0M324.0 498.8h0M322.8 526.7h0M318.8 510.2h0M329.3 522.0h0M369.9 511.0h0M321.2 525.8h0M320.5 520.4h0M316.1 518.7h0M345.4 521.4h0M314.1 521.1h0M320.0 506.2h0M312.6 524.4h0M316.8 525.1h0M326.7 517.9h0M319.2 523.9h0M319.3 519.8h0M313.1 525.0h0M312.9 518.7h0M314.6 522.6h0M325.3 502.3h0M327.9 508.8h0M321.4 507.0h0M313.5 518.3h0M326.6 522.0h0M348.0 511.7h0M351.8 527.6h0M317.3 522.5h0M312.6 523.2h0M315.7 520.0h0M364.2 515.9h0M329.7 521.4h0M319.8 519.8h0M333.1 517.0h0M317.2 518.8h0M313.5 524.4h0M322.9 508.3h0M322.9 518.0h0M313.8 517.0h0M313.9 518.2h0M317.2 517.8h0M319.8 524.3h0M359.5 525.2h0M376.1 492.5h0M315.7 523.7h0M313.4 526.0h0M321.5 521.5h0M316.7 524.2h0M313.4 519.4h0M313.0 527.9h0M315.7 525.9h0M365.2 523.1h0M397.4 523.0h0M315.5 521.6h0M317.5 526.8h0M327.2 513.5h0M329.4 522.0h0M314.6 524.7h0M334.9 519.3h0M336.9 513.9h0M323.8 510.6h0M340.3 517.2h0M327.0 512.3h0M348.8 521.7h0M314.1 518.7h0M321.4 512.1h0M316.5 526.8h0M315.2 516.7h0M312.9 521.4h0M329.6 502.4h0M325.1 525.3h0M312.9 521.5h0M322.1 521.2h0M315.0 527.4h0M329.5 510.4h0M314.0 521.3h0M326.3 524.6h0M313.5 524.6h0M322.6 527.6h0M313.5 517.2h0M327.2 527.5h0M314.6 527.8h0M329.3 501.1h0M318.5 516.9h0M315.6 527.6h0M333.5 525.5h0M321.0 508.8h0M393.8 504.0h0M343.8 509.3h0M321.4 520.8h0M331.2 528.0h0M344.3 521.5h0M314.8 516.2h0M314.0 517.7h0M319.6 527.4h0M321.6 525.4h0M314.1 527.6h0M339.2 511.5h0M314.3 521.8h0M313.0 527.2h0M324.3 525.7h0M410.8 523.7h0M314.8 521.8h0M332.3 487.2h0M313.9 523.7h0M317.7 526.0h0M331.1 509.5h0M320.2 525.1h0M323.7 511.6h0M316.9 521.2h0M315.1 524.5h0M318.9 515.4h0M313.6 525.6h0M314.7 527.7h0M312.9 527.7h0M316.6 512.4h0M340.5 510.0h0M315.5 523.9h0M320.7 510.1h0M312.8 527.7h0M354.3 524.4h0M319.9 510.4h0M313.2 526.7h0M313.0 519.1h0M316.7 523.5h0M327.1 523.8h0M374.3 527.3h0M324.4 510.1h0M312.8 520.3h0M317.1 515.4h0M320.7 518.2h0M330.3 505.7h0M313.3 525.2h0M314.2 524.5h0M327.8 504.0h0M330.9 498.6h0M313.3 526.4h0M318.2 524.1h0M331.1 513.2h0M354.2 495.9h0M361.2 527.1h0M318.5 523.4h0M326.2 501.9h0M316.2 516.9h0M320.0 515.7h0M330.7 516.5h0M318.9 523.2h0M332.3 520.5h0M314.5 522.5h0M330.5 488.0h0M322.8 524.8h0M316.8 524.8h0M329.0 524.2h0M313.2 526.9h0M317.4 518.4h0M313.9 525.8h0M316.2 524.0h0M331.4 525.0h0M316.3 519.7h0M315.6 527.1h0M410.6 519.3h0M343.2 470.8h0M322.1 507.0h0M312.6 527.0h0M334.7 523.0h0M320.4 520.5h0M354.6 491.8h0M315.2 525.6h0M312.6 525.8h0M325.3 506.7h0M312.9 525.5h0M328.2 526.0h0M328.8 497.8h0M325.5 498.3h0M327.1 506.2h0M354.5 424.3h0M344.7 527.7h0M312.8 527.8h0M329.1 521.4h0M320.9 520.1h0M312.7 526.7h0M313.4 526.8h0M359.3 527.7h0M321.8 503.0h0M351.8 517.4h0M315.8 514.1h0M323.9 517.8h0M346.3 514.9h0M317.4 520.7h0M312.9 525.6h0M313.4 527.1h0M319.8 510.4h0M315.4 526.7h0M348.7 527.6h0M333.5 489.2h0M317.9 516.1h0M319.0 515.5h0M312.7 527.8h0M316.4 523.0h0M337.8 513.5h0M313.4 517.9h0M336.1 490.0h0M322.6 512.8h0M318.7 516.9h0M329.5 492.0h0M320.3 510.7h0M321.2 523.8h0M322.1 511.4h0M313.0 527.4h0M322.2 527.7h0M316.1 523.0h0M336.9 488.5h0M316.1 518.5h0M327.6 518.7h0M314.3 520.7h0M313.2 526.2h0M315.4 515.3h0M396.9 501.6h0M331.0 524.1h0M322.9 515.5h0M314.9 515.9h0M326.6 527.9h0M312.8 518.8h0M314.3 520.3h0M324.1 526.6h0M381.5 513.8h0M318.9 517.7h0M313.9 524.4h0M318.5 523.1h0M316.4 516.0h0M351.2 527.0h0M314.1 527.6h0M314.7 515.6h0M314.8 527.6h0M315.1 523.7h0M318.8 525.9h0M337.0 501.1h0M318.5 527.4h0M319.7 513.3h0M316.2 517.7h0M323.1 506.4h0M316.5 523.4h0M323.9 526.1h0M317.4 527.0h0M313.6 521.9h0M318.6 527.4h0M312.6 527.6h0M342.5 511.9h0M337.3 510.0h0M313.9 522.6h0M317.1 519.9h0M321.4 524.6h0M339.0 525.1h0M317.0 515.6h0M313.6 517.6h0M327.5 516.3h0M314.9 521.8h0M333.5 528.0h0M344.2 524.3h0M351.2 527.7h0M321.6 519.1h0M312.8 525.7h0M331.8 500.3h0M342.8 485.1h0M321.7 515.6h0M319.1 510.4h0M315.8 519.6h0M325.3 505.5h0M313.0 526.5h0M354.7 527.9h0M314.4 522.4h0M333.9 497.3h0M315.1 518.7h0M315.9 526.8h0M337.1 511.6h0M319.5 510.1h0M324.0 505.2h0M323.9 505.8h0M313.7 527.9h0M314.4 515.7h0M326.8 505.7h0M317.9 514.4h0M320.9 524.5h0M314.3 526.2h0M326.3 503.8h0M312.8 525.8h0M338.1 500.7h0M325.9 527.6h0M367.8 527.4h0M335.5 494.9h0M330.4 512.9h0M349.2 467.9h0M314.8 525.0h0M320.7 506.3h0M321.2 518.0h0M457.0 513.4h0M318.8 520.2h0M336.2 523.1h0M351.7 500.4h0M314.3 518.0h0M315.8 524.2h0M323.9 522.9h0M312.6 527.6h0M327.2 527.7h0M315.2 519.2h0M314.6 526.4h0M315.6 513.6h0M327.2 519.6h0M333.0 496.2h0M316.4 527.8h0M313.5 527.9h0M314.6 528.0h0M316.1 524.8h0M312.7 524.9h0M320.8 523.0h0M312.9 523.7h0M323.1 507.2h0M355.5 475.0h0M317.9 510.1h0M354.5 516.5h0M380.8 527.9h0M317.7 512.5h0M318.6 528.0h0M312.8 518.8h0M317.1 523.3h0M312.9 520.7h0M321.9 508.5h0M315.9 527.7h0M322.3 502.5h0M333.9 528.0h0M335.8 479.0h0M321.5 505.4h0M317.7 524.6h0M330.9 521.8h0M312.6 525.9h0M314.3 520.6h0M313.9 524.3h0M327.8 503.1h0M315.3 516.8h0M314.1 517.9h0M312.7 523.8h0M314.9 527.9h0M313.2 520.7h0M312.7 520.0h0M320.7 521.4h0M336.7 497.9h0M315.8 523.4h0M313.1 524.6h0M322.2 521.3h0M313.4 521.0h0M320.8 506.0h0M320.5 526.3h0M312.8 526.7h0M315.2 517.9h0M318.8 527.4h0M318.7 518.3h0M313.0 521.7h0M418.4 228.0h0M412.0 250.0h0M401.4 255.4h0M409.0 266.5h0M376.5 337.0h0M397.0 346.0h0M374.0 357.0h0M389.5 357.0h0M373.0 373.6h0M447.0 460.0h0M420.0 494.0h0M428.0 498.6h0M455.0 508.0h0M447.0 511.0h0M467.0 524.0h0M457.5 525.0h0M453.0 525.5h0M359.0 394.0h0M358.0 417.0h0M357.0 420.0h0M366.0 419.0h0M373.0 418.0h0M345.0 428.0h0M350.0 434.0h0M353.0 439.0h0M368.0 433.0h0M381.0 435.0h0M384.0 444.0h0M381.0 449.0h0M345.0 451.0h0M352.0 453.0h0M342.0 456.0h0M340.0 463.0h0M337.0 471.0h0M339.0 459.0h0M360.0 410.0h0M364.0 405.0h0M390.0 470.0h0M400.0 485.0h0M410.0 500.0h0M436.0 515.0h0M442.0 520.0h0M382.0 478.0h0M372.0 468.0h0M366.0 475.0h0M395.0 505.0h0M404.0 512.0h0M415.0 516.0h0M425.0 521.0h0M433.0 524.0h0M446.0 523.0h0M462.0 520.0h0" stroke="#0a28d2" stroke-width="2.35" stroke-linecap="round" fill="none"/>
<path d="M284.6 518.6 C288 523.5 292.5 527.6 298 528.8 C303.5 527.6 308.5 523.5 312.3 518.6 L312.3 528 L377 528.2 L377 529.4 L238 529.4 L238 528.2 L284.6 528 Z" fill="#000"/>
<line x1="298.7" y1="121.5" x2="298.7" y2="542" stroke="#000" stroke-width="3"/>
<line x1="61.249999999999964" y1="535.3" x2="536.15" y2="535.3" stroke="#000" stroke-width="2.2"/>
<line x1="62.349999999999966" y1="535.3" x2="62.349999999999966" y2="541.8" stroke="#000" stroke-width="2.2"/>
<text x="62.349999999999966" y="571" font-size="25" text-anchor="middle">–10</text>
<line x1="180.52499999999998" y1="535.3" x2="180.52499999999998" y2="541.8" stroke="#000" stroke-width="2.2"/>
<text x="180.52499999999998" y="571" font-size="25" text-anchor="middle">–5</text>
<text x="298.7" y="571" font-size="25" text-anchor="middle">0</text>
<line x1="416.875" y1="535.3" x2="416.875" y2="541.8" stroke="#000" stroke-width="2.2"/>
<text x="416.875" y="571" font-size="25" text-anchor="middle">5</text>
<line x1="535.05" y1="535.3" x2="535.05" y2="541.8" stroke="#000" stroke-width="2.2"/>
<text x="535.05" y="571" font-size="25" text-anchor="middle">10</text>
<line x1="291.6" y1="412.4" x2="298.7" y2="412.4" stroke="#000" stroke-width="2.2"/>
<text x="279.6" y="420.29999999999995" font-size="21.3" text-anchor="end">100</text>
<line x1="291.6" y1="295.9" x2="298.7" y2="295.9" stroke="#000" stroke-width="2.2"/>
<text x="279.6" y="303.79999999999995" font-size="21.3" text-anchor="end">200</text>
<line x1="291.6" y1="179.4" x2="298.7" y2="179.4" stroke="#000" stroke-width="2.2"/>
<text x="279.6" y="187.3" font-size="21.3" text-anchor="end">300</text>
<text x="279.4" y="535" font-size="21.3" text-anchor="end">0</text>
<text x="298.5" y="612" font-size="25" text-anchor="middle">log<tspan dy="7.5" font-size="16.5">2</tspan><tspan dy="-7.5"> fold change</tspan></text>
<text x="44" y="322" font-size="23.3" fill="#ff2a00">Downregulated</text>
<text x="44" y="350" font-size="23.3" fill="#ff2a00">genes</text>
<text x="432" y="322" font-size="23.3" fill="#0a28d2">Upregulated</text>
<text x="432" y="350" font-size="23.3" fill="#0a28d2">genes</text>
<circle cx="222.3" cy="372.8" r="4.1" fill="#ffee00"/>
<circle cx="221.0" cy="383.5" r="4.1" fill="#ffee00"/>
<circle cx="228.0" cy="397.7" r="4.1" fill="#ffee00"/>
<circle cx="356.7" cy="401.7" r="4.1" fill="#ffee00"/>
<circle cx="346.8" cy="466.5" r="4.1" fill="#ffee00"/>
<circle cx="249.0" cy="482.0" r="4.1" fill="#ffee00"/>
<circle cx="267.8" cy="500.5" r="4.1" fill="#ffee00"/>
<circle cx="326.7" cy="502.0" r="4.1" fill="#ffee00"/>
<circle cx="333.8" cy="511.0" r="4.1" fill="#ffee00"/>
<text x="171.5" y="370" font-size="23.2" font-style="italic">Hmgcr</text>
<text x="228.7" y="390" font-size="23.2" font-style="italic">Pmp22</text>
<text x="178" y="414.5" font-size="23.2" font-style="italic">Mbp</text>
<text x="364.5" y="407" font-size="23.2" font-style="italic">Sox2</text>
<text x="223" y="472.5" font-size="23.2" font-style="italic">Itgb8</text>
<text x="356.5" y="472" font-size="23.2" font-style="italic">Ccnd1</text>
<text x="317.5" y="495" font-size="23.2" font-style="italic">Notch1</text>
<text x="212" y="509.5" font-size="23.2" font-style="italic">Egr2</text>
<text x="341.5" y="517" font-size="23.2" font-style="italic">Hes1</text>
</g>
<g id="panel-b">
<text x="623.5" y="30.6" font-size="43" font-weight="bold">b</text>
<text x="948" y="18.5" font-size="25" text-anchor="middle">Control</text>
<text x="1089" y="18.5" font-size="25" text-anchor="middle"><tspan font-style="italic">Ctcf</tspan><tspan dx="-2"> cKO</tspan></text>
<rect x="874.60" y="29.40" width="143.10" height="8.80" fill="#000"/>
<rect x="1017.70" y="29.40" width="143.10" height="8.80" fill="#a3a3a3"/>
<rect x="874.60" y="40.67" width="72.55" height="24.68" fill="rgb(255,94,94)"/>
<rect x="946.15" y="40.67" width="72.55" height="24.68" fill="rgb(255,89,89)"/>
<rect x="1017.70" y="40.67" width="72.55" height="24.68" fill="rgb(94,94,255)"/>
<rect x="1089.25" y="40.67" width="71.55" height="24.68" fill="rgb(102,102,255)"/>
<rect x="874.60" y="64.35" width="72.55" height="24.68" fill="rgb(255,64,64)"/>
<rect x="946.15" y="64.35" width="72.55" height="24.68" fill="rgb(255,69,69)"/>
<rect x="1017.70" y="64.35" width="72.55" height="24.68" fill="rgb(69,69,255)"/>
<rect x="1089.25" y="64.35" width="71.55" height="24.68" fill="rgb(51,51,255)"/>
<rect x="874.60" y="88.03" width="72.55" height="24.68" fill="rgb(255,186,186)"/>
<rect x="946.15" y="88.03" width="72.55" height="24.68" fill="rgb(255,199,199)"/>
<rect x="1017.70" y="88.03" width="72.55" height="24.68" fill="rgb(199,199,255)"/>
<rect x="1089.25" y="88.03" width="71.55" height="24.68" fill="rgb(184,184,255)"/>
<rect x="874.60" y="111.71" width="72.55" height="24.68" fill="rgb(255,69,69)"/>
<rect x="946.15" y="111.71" width="72.55" height="24.68" fill="rgb(255,64,64)"/>
<rect x="1017.70" y="111.71" width="72.55" height="24.68" fill="rgb(77,77,255)"/>
<rect x="1089.25" y="111.71" width="71.55" height="24.68" fill="rgb(64,64,255)"/>
<rect x="874.60" y="135.39" width="72.55" height="24.68" fill="rgb(255,115,115)"/>
<rect x="946.15" y="135.39" width="72.55" height="24.68" fill="rgb(255,135,135)"/>
<rect x="1017.70" y="135.39" width="72.55" height="24.68" fill="rgb(135,135,255)"/>
<rect x="1089.25" y="135.39" width="71.55" height="24.68" fill="rgb(115,115,255)"/>
<rect x="874.60" y="159.07" width="72.55" height="24.68" fill="rgb(255,186,186)"/>
<rect x="946.15" y="159.07" width="72.55" height="24.68" fill="rgb(255,199,199)"/>
<rect x="1017.70" y="159.07" width="72.55" height="24.68" fill="rgb(199,199,255)"/>
<rect x="1089.25" y="159.07" width="71.55" height="24.68" fill="rgb(189,189,255)"/>
<rect x="874.60" y="182.75" width="72.55" height="24.68" fill="rgb(255,230,230)"/>
<rect x="946.15" y="182.75" width="72.55" height="24.68" fill="rgb(255,212,212)"/>
<rect x="1017.70" y="182.75" width="72.55" height="24.68" fill="rgb(212,212,255)"/>
<rect x="1089.25" y="182.75" width="71.55" height="24.68" fill="rgb(230,230,255)"/>
<rect x="874.60" y="206.43" width="72.55" height="24.68" fill="rgb(255,128,128)"/>
<rect x="946.15" y="206.43" width="72.55" height="24.68" fill="rgb(255,135,135)"/>
<rect x="1017.70" y="206.43" width="72.55" height="24.68" fill="rgb(130,130,255)"/>
<rect x="1089.25" y="206.43" width="71.55" height="24.68" fill="rgb(135,135,255)"/>
<rect x="874.60" y="230.11" width="72.55" height="24.68" fill="rgb(255,115,115)"/>
<rect x="946.15" y="230.11" width="72.55" height="24.68" fill="rgb(255,102,102)"/>
<rect x="1017.70" y="230.11" width="72.55" height="24.68" fill="rgb(102,102,255)"/>
<rect x="1089.25" y="230.11" width="71.55" height="24.68" fill="rgb(120,120,255)"/>
<rect x="874.60" y="253.79" width="72.55" height="24.68" fill="rgb(184,184,255)"/>
<rect x="946.15" y="253.79" width="72.55" height="24.68" fill="rgb(230,230,255)"/>
<rect x="1017.70" y="253.79" width="72.55" height="24.68" fill="rgb(255,204,204)"/>
<rect x="1089.25" y="253.79" width="71.55" height="24.68" fill="rgb(255,230,230)"/>
<rect x="874.60" y="277.47" width="72.55" height="24.68" fill="rgb(102,102,255)"/>
<rect x="946.15" y="277.47" width="72.55" height="24.68" fill="rgb(107,107,255)"/>
<rect x="1017.70" y="277.47" width="72.55" height="24.68" fill="rgb(255,102,102)"/>
<rect x="1089.25" y="277.47" width="71.55" height="24.68" fill="rgb(255,107,107)"/>
<rect x="874.60" y="301.15" width="72.55" height="24.68" fill="rgb(153,153,255)"/>
<rect x="946.15" y="301.15" width="72.55" height="24.68" fill="rgb(171,171,255)"/>
<rect x="1017.70" y="301.15" width="72.55" height="24.68" fill="rgb(255,153,153)"/>
<rect x="1089.25" y="301.15" width="71.55" height="24.68" fill="rgb(255,171,171)"/>
<rect x="874.60" y="324.83" width="72.55" height="24.68" fill="rgb(178,178,255)"/>
<rect x="946.15" y="324.83" width="72.55" height="24.68" fill="rgb(173,173,255)"/>
<rect x="1017.70" y="324.83" width="72.55" height="24.68" fill="rgb(255,171,171)"/>
<rect x="1089.25" y="324.83" width="71.55" height="24.68" fill="rgb(255,166,166)"/>
<rect x="874.60" y="348.51" width="72.55" height="24.68" fill="rgb(255,191,191)"/>
<rect x="946.15" y="348.51" width="72.55" height="24.68" fill="rgb(255,186,186)"/>
<rect x="1017.70" y="348.51" width="72.55" height="24.68" fill="rgb(191,191,255)"/>
<rect x="1089.25" y="348.51" width="71.55" height="24.68" fill="rgb(196,196,255)"/>
<rect x="874.60" y="372.19" width="72.55" height="24.68" fill="rgb(255,191,191)"/>
<rect x="946.15" y="372.19" width="72.55" height="24.68" fill="rgb(255,204,204)"/>
<rect x="1017.70" y="372.19" width="72.55" height="24.68" fill="rgb(191,191,255)"/>
<rect x="1089.25" y="372.19" width="71.55" height="24.68" fill="rgb(204,204,255)"/>
<rect x="874.60" y="395.87" width="72.55" height="24.84" fill="rgb(255,150,150)"/>
<rect x="946.15" y="395.87" width="72.55" height="24.84" fill="rgb(255,150,150)"/>
<rect x="1017.70" y="395.87" width="72.55" height="24.84" fill="rgb(140,140,255)"/>
<rect x="1089.25" y="395.87" width="71.55" height="24.84" fill="rgb(161,161,255)"/>
<rect x="874.60" y="419.71" width="72.55" height="24.84" fill="rgb(255,161,161)"/>
<rect x="946.15" y="419.71" width="72.55" height="24.84" fill="rgb(255,156,156)"/>
<rect x="1017.70" y="419.71" width="72.55" height="24.84" fill="rgb(166,166,255)"/>
<rect x="1089.25" y="419.71" width="71.55" height="24.84" fill="rgb(120,120,255)"/>
<rect x="874.60" y="443.56" width="72.55" height="24.84" fill="rgb(255,15,15)"/>
<rect x="946.15" y="443.56" width="72.55" height="24.84" fill="rgb(255,0,0)"/>
<rect x="1017.70" y="443.56" width="72.55" height="24.84" fill="rgb(10,10,255)"/>
<rect x="1089.25" y="443.56" width="71.55" height="24.84" fill="rgb(5,5,255)"/>
<rect x="874.60" y="467.40" width="72.55" height="24.84" fill="rgb(255,84,84)"/>
<rect x="946.15" y="467.40" width="72.55" height="24.84" fill="rgb(255,79,79)"/>
<rect x="1017.70" y="467.40" width="72.55" height="24.84" fill="rgb(84,84,255)"/>
<rect x="1089.25" y="467.40" width="71.55" height="24.84" fill="rgb(79,79,255)"/>
<rect x="874.60" y="491.24" width="72.55" height="24.84" fill="rgb(255,41,41)"/>
<rect x="946.15" y="491.24" width="72.55" height="24.84" fill="rgb(255,31,31)"/>
<rect x="1017.70" y="491.24" width="72.55" height="24.84" fill="rgb(41,41,255)"/>
<rect x="1089.25" y="491.24" width="71.55" height="24.84" fill="rgb(31,31,255)"/>
<rect x="874.60" y="515.09" width="72.55" height="24.84" fill="rgb(255,51,51)"/>
<rect x="946.15" y="515.09" width="72.55" height="24.84" fill="rgb(255,64,64)"/>
<rect x="1017.70" y="515.09" width="72.55" height="24.84" fill="rgb(64,64,255)"/>
<rect x="1089.25" y="515.09" width="71.55" height="24.84" fill="rgb(31,31,255)"/>
<rect x="874.60" y="538.93" width="72.55" height="24.84" fill="rgb(255,31,31)"/>
<rect x="946.15" y="538.93" width="72.55" height="24.84" fill="rgb(255,36,36)"/>
<rect x="1017.70" y="538.93" width="72.55" height="24.84" fill="rgb(36,36,255)"/>
<rect x="1089.25" y="538.93" width="71.55" height="24.84" fill="rgb(5,5,255)"/>
<rect x="874.60" y="562.77" width="72.55" height="24.84" fill="rgb(255,89,89)"/>
<rect x="946.15" y="562.77" width="72.55" height="24.84" fill="rgb(255,79,79)"/>
<rect x="1017.70" y="562.77" width="72.55" height="24.84" fill="rgb(89,89,255)"/>
<rect x="1089.25" y="562.77" width="71.55" height="24.84" fill="rgb(79,79,255)"/>
<rect x="874.60" y="586.61" width="72.55" height="24.84" fill="rgb(51,51,255)"/>
<rect x="946.15" y="586.61" width="72.55" height="24.84" fill="rgb(64,64,255)"/>
<rect x="1017.70" y="586.61" width="72.55" height="24.84" fill="rgb(255,69,69)"/>
<rect x="1089.25" y="586.61" width="71.55" height="24.84" fill="rgb(255,36,36)"/>
<rect x="874.60" y="610.46" width="72.55" height="24.84" fill="rgb(128,128,255)"/>
<rect x="946.15" y="610.46" width="72.55" height="24.84" fill="rgb(135,135,255)"/>
<rect x="1017.70" y="610.46" width="72.55" height="24.84" fill="rgb(255,120,120)"/>
<rect x="1089.25" y="610.46" width="71.55" height="24.84" fill="rgb(255,130,130)"/>
<rect x="874.60" y="634.30" width="72.55" height="24.84" fill="rgb(171,171,255)"/>
<rect x="946.15" y="634.30" width="72.55" height="24.84" fill="rgb(156,156,255)"/>
<rect x="1017.70" y="634.30" width="72.55" height="24.84" fill="rgb(255,166,166)"/>
<rect x="1089.25" y="634.30" width="71.55" height="24.84" fill="rgb(255,161,161)"/>
<rect x="874.60" y="658.14" width="72.55" height="24.84" fill="rgb(161,161,255)"/>
<rect x="946.15" y="658.14" width="72.55" height="24.84" fill="rgb(176,176,255)"/>
<rect x="1017.70" y="658.14" width="72.55" height="24.84" fill="rgb(255,150,150)"/>
<rect x="1089.25" y="658.14" width="71.55" height="24.84" fill="rgb(255,171,171)"/>
<rect x="874.60" y="681.99" width="72.55" height="24.84" fill="rgb(171,171,255)"/>
<rect x="946.15" y="681.99" width="72.55" height="24.84" fill="rgb(150,150,255)"/>
<rect x="1017.70" y="681.99" width="72.55" height="24.84" fill="rgb(255,166,166)"/>
<rect x="1089.25" y="681.99" width="71.55" height="24.84" fill="rgb(255,171,171)"/>
<rect x="874.60" y="705.83" width="72.55" height="24.84" fill="rgb(161,161,255)"/>
<rect x="946.15" y="705.83" width="72.55" height="24.84" fill="rgb(135,135,255)"/>
<rect x="1017.70" y="705.83" width="72.55" height="24.84" fill="rgb(255,156,156)"/>
<rect x="1089.25" y="705.83" width="71.55" height="24.84" fill="rgb(255,150,150)"/>
<rect x="874.60" y="729.67" width="72.55" height="23.84" fill="rgb(178,178,255)"/>
<rect x="946.15" y="729.67" width="72.55" height="23.84" fill="rgb(140,140,255)"/>
<rect x="1017.70" y="729.67" width="72.55" height="23.84" fill="rgb(255,161,161)"/>
<rect x="1089.25" y="729.67" width="71.55" height="23.84" fill="rgb(255,176,176)"/>
<text x="1174.3" y="59.0" font-size="25.2" font-style="italic">Mbp</text>
<text x="1174.3" y="82.9" font-size="25.2" font-style="italic">Mpz</text>
<text x="1174.3" y="107.9" font-size="25.2" font-style="italic">Mag</text>
<text x="1174.3" y="132.1" font-size="25.2" font-style="italic">Pmp22</text>
<text x="1174.3" y="153.3" font-size="25.2" font-style="italic">Prx</text>
<text x="1174.3" y="177.3" font-size="25.2" font-style="italic">Egr2</text>
<text x="1174.3" y="200.8" font-size="25.2" font-style="italic">Sox8</text>
<text x="1174.3" y="224.70000000000002" font-size="25.2" font-style="italic">Gjb1</text>
<text x="1174.3" y="248.20000000000002" font-size="25.2" font-style="italic">Cd9</text>
<text x="1174.3" y="272.4" font-size="25.2" font-style="italic">Egr1</text>
<text x="1174.3" y="296.0" font-size="25.2" font-style="italic">Sox2</text>
<text x="1174.3" y="319.79999999999995" font-size="25.2" font-style="italic">Hes1</text>
<text x="1174.3" y="343.29999999999995" font-size="25.2" font-style="italic">Notch1</text>
<text x="1174.3" y="366.09999999999997" font-size="25.2" font-style="italic">Itgb5</text>
<text x="1174.3" y="390.0" font-size="25.2" font-style="italic">Itga4</text>
<text x="1174.3" y="414.09999999999997" font-size="25.2" font-style="italic">Itgbl1</text>
<text x="1174.3" y="438.09999999999997" font-size="25.2" font-style="italic">Itgb8</text>
<text x="1174.3" y="461.79999999999995" font-size="25.2" font-style="italic">Elovl7</text>
<text x="1174.3" y="485.9" font-size="25.2" font-style="italic">Hmgcr</text>
<text x="1174.3" y="508.9" font-size="25.2" font-style="italic">Hmgcs1</text>
<text x="1174.3" y="532.6" font-size="25.2" font-style="italic">Fa2h</text>
<text x="1174.3" y="556.0" font-size="25.2" font-style="italic">Lss</text>
<text x="1174.3" y="579.8" font-size="25.2" font-style="italic">Cyp51</text>
<text x="1174.3" y="603.5" font-size="25.2" font-style="italic">Cdc7</text>
<text x="1174.3" y="627.6" font-size="25.2" font-style="italic">Ccnd1</text>
<text x="1174.3" y="651.3" font-size="25.2" font-style="italic">Ccnb1</text>
<text x="1174.3" y="675.4" font-size="25.2" font-style="italic">Ccng1</text>
<text x="1174.3" y="699.9" font-size="25.2" font-style="italic">Cdc25c</text>
<text x="1174.3" y="724.1" font-size="25.2" font-style="italic">Cdk1</text>
<text x="1174.3" y="748.5" font-size="25.2" font-style="italic">Cdc20</text>
<rect x="863.00" y="40.67" width="9.00" height="115.83" fill="#e6001e"/>
<rect x="863.00" y="156.50" width="9.00" height="97.00" fill="#0aa08c"/>
<rect x="863.00" y="253.50" width="9.00" height="93.90" fill="#c4142d"/>
<rect x="863.00" y="347.40" width="9.00" height="96.80" fill="#ffee00"/>
<rect x="863.00" y="444.20" width="9.00" height="142.40" fill="#0a6eb9"/>
<rect x="863.00" y="586.60" width="9.00" height="166.90" fill="#d7dc00"/>
<text x="850.7" y="105" font-size="25" text-anchor="end">Myelin</text>
<text x="850.7" y="202" font-size="25" text-anchor="end">Myelin</text>
<text x="850.7" y="232" font-size="25" text-anchor="end">positive regulators</text>
<text x="850.7" y="301" font-size="25" text-anchor="end">Myelin</text>
<text x="850.7" y="330.5" font-size="25" text-anchor="end">negtive regulators</text>
<text x="850.7" y="389" font-size="25" text-anchor="end">Laminin</text>
<text x="850.7" y="419" font-size="25" text-anchor="end">Receptors</text>
<text x="850.7" y="538.5" font-size="25" text-anchor="end">metabolism</text>
<text x="850.7" y="672" font-size="25" text-anchor="end">Cell cycle</text>
<text x="844" y="508.5" font-size="25" text-anchor="end">Lipid</text>
<defs><linearGradient id="hmgrad" x1="0" x2="1" y1="0" y2="0"><stop offset="0" stop-color="#1e2cff"/><stop offset="0.5" stop-color="#ffffff"/><stop offset="1" stop-color="#ff2020"/></linearGradient></defs>
<rect x="910.20" y="757.20" width="215.60" height="14.60" fill="url(#hmgrad)" stroke="#222" stroke-width="0.9"/>
<line x1="912.4" y1="757.6" x2="912.4" y2="771.4" stroke="#000" stroke-width="0.5" opacity="0.07"/>
<line x1="914.4" y1="757.6" x2="914.4" y2="771.4" stroke="#000" stroke-width="0.5" opacity="0.07"/>
<line x1="916.4" y1="757.6" x2="916.4" y2="771.4" stroke="#000" stroke-width="0.5" opacity="0.07"/>
<line x1="918.4" y1="757.6" x2="918.4" y2="771.4" stroke="#000" stroke-width="0.5" opacity="0.07"/>
<line x1="920.4" y1="757.6" x2="920.4" y2="771.4" stroke="#000" stroke-width="0.5" opacity="0.07"/>
<line x1="922.4" y1="757.6" x2="922.4" y2="771.4" stroke="#000" stroke-width="0.5" opacity="0.07"/>
<line x1="924.4" y1="757.6" x2="924.4" y2="771.4" stroke="#000" stroke-width="0.5" opacity="0.07"/>
<line x1="926.4" y1="757.6" x2="926.4" y2="771.4" stroke="#000" stroke-width="0.5" opacity="0.07"/>
<line x1="928.4" y1="757.6" x2="928.4" y2="771.4" stroke="#000" stroke-width="0.5" opacity="0.07"/>
<line x1="930.4" y1="757.6" x2="930.4" y2="771.4" stroke="#000" stroke-width="0.5" opacity="0.07"/>
<line x1="932.4" y1="757.6" x2="932.4" y2="771.4" stroke="#000" stroke-width="0.5" opacity="0.07"/>
<line x1="934.4" y1="757.6" x2="934.4" y2="771.4" stroke="#000" stroke-width="0.5" opacity="0.07"/>
<line x1="936.4" y1="757.6" x2="936.4" y2="771.4" stroke="#000" stroke-width="0.5" opacity="0.07"/>
<line x1="938.4" y1="757.6" x2="938.4" y2="771.4" stroke="#000" stroke-width="0.5" opacity="0.07"/>
<line x1="940.4" y1="757.6" x2="940.4" y2="771.4" stroke="#000" stroke-width="0.5" opacity="0.07"/>
<line x1="942.4" y1="757.6" x2="942.4" y2="771.4" stroke="#000" stroke-width="0.5" opacity="0.07"/>
<line x1="944.4" y1="757.6" x2="944.4" y2="771.4" stroke="#000" stroke-width="0.5" opacity="0.07"/>
<line x1="946.4" y1="757.6" x2="946.4" y2="771.4" stroke="#000" stroke-width="0.5" opacity="0.07"/>
<line x1="948.4" y1="757.6" x2="948.4" y2="771.4" stroke="#000" stroke-width="0.5" opacity="0.07"/>
<line x1="950.4" y1="757.6" x2="950.4" y2="771.4" stroke="#000" stroke-width="0.5" opacity="0.07"/>
<line x1="952.4" y1="757.6" x2="952.4" y2="771.4" stroke="#000" stroke-width="0.5" opacity="0.07"/>
<line x1="954.4" y1="757.6" x2="954.4" y2="771.4" stroke="#000" stroke-width="0.5" opacity="0.07"/>
<line x1="956.4" y1="757.6" x2="956.4" y2="771.4" stroke="#000" stroke-width="0.5" opacity="0.07"/>
<line x1="958.4" y1="757.6" x2="958.4" y2="771.4" stroke="#000" stroke-width="0.5" opacity="0.07"/>
<line x1="960.4" y1="757.6" x2="960.4" y2="771.4" stroke="#000" stroke-width="0.5" opacity="0.07"/>
<line x1="962.4" y1="757.6" x2="962.4" y2="771.4" stroke="#000" stroke-width="0.5" opacity="0.07"/>
<line x1="964.4" y1="757.6" x2="964.4" y2="771.4" stroke="#000" stroke-width="0.5" opacity="0.07"/>
<line x1="966.4" y1="757.6" x2="966.4" y2="771.4" stroke="#000" stroke-width="0.5" opacity="0.07"/>
<line x1="968.4" y1="757.6" x2="968.4" y2="771.4" stroke="#000" stroke-width="0.5" opacity="0.07"/>
<line x1="970.4" y1="757.6" x2="970.4" y2="771.4" stroke="#000" stroke-width="0.5" opacity="0.07"/>
<line x1="972.4" y1="757.6" x2="972.4" y2="771.4" stroke="#000" stroke-width="0.5" opacity="0.07"/>
<line x1="974.4" y1="757.6" x2="974.4" y2="771.4" stroke="#000" stroke-width="0.5" opacity="0.07"/>
<line x1="976.4" y1="757.6" x2="976.4" y2="771.4" stroke="#000" stroke-width="0.5" opacity="0.07"/>
<line x1="978.4" y1="757.6" x2="978.4" y2="771.4" stroke="#000" stroke-width="0.5" opacity="0.07"/>
<line x1="980.4" y1="757.6" x2="980.4" y2="771.4" stroke="#000" stroke-width="0.5" opacity="0.07"/>
<line x1="982.4" y1="757.6" x2="982.4" y2="771.4" stroke="#000" stroke-width="0.5" opacity="0.07"/>
<line x1="984.4" y1="757.6" x2="984.4" y2="771.4" stroke="#000" stroke-width="0.5" opacity="0.07"/>
<line x1="986.4" y1="757.6" x2="986.4" y2="771.4" stroke="#000" stroke-width="0.5" opacity="0.07"/>
<line x1="988.4" y1="757.6" x2="988.4" y2="771.4" stroke="#000" stroke-width="0.5" opacity="0.07"/>
<line x1="990.4" y1="757.6" x2="990.4" y2="771.4" stroke="#000" stroke-width="0.5" opacity="0.07"/>
<line x1="992.4" y1="757.6" x2="992.4" y2="771.4" stroke="#000" stroke-width="0.5" opacity="0.07"/>
<line x1="994.4" y1="757.6" x2="994.4" y2="771.4" stroke="#000" stroke-width="0.5" opacity="0.07"/>
<line x1="996.4" y1="757.6" x2="996.4" y2="771.4" stroke="#000" stroke-width="0.5" opacity="0.07"/>
<line x1="998.4" y1="757.6" x2="998.4" y2="771.4" stroke="#000" stroke-width="0.5" opacity="0.07"/>
<line x1="1000.4" y1="757.6" x2="1000.4" y2="771.4" stroke="#000" stroke-width="0.5" opacity="0.07"/>
<line x1="1002.4" y1="757.6" x2="1002.4" y2="771.4" stroke="#000" stroke-width="0.5" opacity="0.07"/>
<line x1="1004.4" y1="757.6" x2="1004.4" y2="771.4" stroke="#000" stroke-width="0.5" opacity="0.07"/>
<line x1="1006.4" y1="757.6" x2="1006.4" y2="771.4" stroke="#000" stroke-width="0.5" opacity="0.07"/>
<line x1="1008.4" y1="757.6" x2="1008.4" y2="771.4" stroke="#000" stroke-width="0.5" opacity="0.07"/>
<line x1="1010.4" y1="757.6" x2="1010.4" y2="771.4" stroke="#000" stroke-width="0.5" opacity="0.07"/>
<line x1="1012.4" y1="757.6" x2="1012.4" y2="771.4" stroke="#000" stroke-width="0.5" opacity="0.07"/>
<line x1="1014.4" y1="757.6" x2="1014.4" y2="771.4" stroke="#000" stroke-width="0.5" opacity="0.07"/>
<line x1="1016.4" y1="757.6" x2="1016.4" y2="771.4" stroke="#000" stroke-width="0.5" opacity="0.07"/>
<line x1="1018.4" y1="757.6" x2="1018.4" y2="771.4" stroke="#000" stroke-width="0.5" opacity="0.07"/>
<line x1="1020.4" y1="757.6" x2="1020.4" y2="771.4" stroke="#000" stroke-width="0.5" opacity="0.07"/>
<line x1="1022.4" y1="757.6" x2="1022.4" y2="771.4" stroke="#000" stroke-width="0.5" opacity="0.07"/>
<line x1="1024.4" y1="757.6" x2="1024.4" y2="771.4" stroke="#000" stroke-width="0.5" opacity="0.07"/>
<line x1="1026.4" y1="757.6" x2="1026.4" y2="771.4" stroke="#000" stroke-width="0.5" opacity="0.07"/>
<line x1="1028.4" y1="757.6" x2="1028.4" y2="771.4" stroke="#000" stroke-width="0.5" opacity="0.07"/>
<line x1="1030.4" y1="757.6" x2="1030.4" y2="771.4" stroke="#000" stroke-width="0.5" opacity="0.07"/>
<line x1="1032.4" y1="757.6" x2="1032.4" y2="771.4" stroke="#000" stroke-width="0.5" opacity="0.07"/>
<line x1="1034.4" y1="757.6" x2="1034.4" y2="771.4" stroke="#000" stroke-width="0.5" opacity="0.07"/>
<line x1="1036.4" y1="757.6" x2="1036.4" y2="771.4" stroke="#000" stroke-width="0.5" opacity="0.07"/>
<line x1="1038.4" y1="757.6" x2="1038.4" y2="771.4" stroke="#000" stroke-width="0.5" opacity="0.07"/>
<line x1="1040.4" y1="757.6" x2="1040.4" y2="771.4" stroke="#000" stroke-width="0.5" opacity="0.07"/>
<line x1="1042.4" y1="757.6" x2="1042.4" y2="771.4" stroke="#000" stroke-width="0.5" opacity="0.07"/>
<line x1="1044.4" y1="757.6" x2="1044.4" y2="771.4" stroke="#000" stroke-width="0.5" opacity="0.07"/>
<line x1="1046.4" y1="757.6" x2="1046.4" y2="771.4" stroke="#000" stroke-width="0.5" opacity="0.07"/>
<line x1="1048.4" y1="757.6" x2="1048.4" y2="771.4" stroke="#000" stroke-width="0.5" opacity="0.07"/>
<line x1="1050.4" y1="757.6" x2="1050.4" y2="771.4" stroke="#000" stroke-width="0.5" opacity="0.07"/>
<line x1="1052.4" y1="757.6" x2="1052.4" y2="771.4" stroke="#000" stroke-width="0.5" opacity="0.07"/>
<line x1="1054.4" y1="757.6" x2="1054.4" y2="771.4" stroke="#000" stroke-width="0.5" opacity="0.07"/>
<line x1="1056.4" y1="757.6" x2="1056.4" y2="771.4" stroke="#000" stroke-width="0.5" opacity="0.07"/>
<line x1="1058.4" y1="757.6" x2="1058.4" y2="771.4" stroke="#000" stroke-width="0.5" opacity="0.07"/>
<line x1="1060.4" y1="757.6" x2="1060.4" y2="771.4" stroke="#000" stroke-width="0.5" opacity="0.07"/>
<line x1="1062.4" y1="757.6" x2="1062.4" y2="771.4" stroke="#000" stroke-width="0.5" opacity="0.07"/>
<line x1="1064.4" y1="757.6" x2="1064.4" y2="771.4" stroke="#000" stroke-width="0.5" opacity="0.07"/>
<line x1="1066.4" y1="757.6" x2="1066.4" y2="771.4" stroke="#000" stroke-width="0.5" opacity="0.07"/>
<line x1="1068.4" y1="757.6" x2="1068.4" y2="771.4" stroke="#000" stroke-width="0.5" opacity="0.07"/>
<line x1="1070.4" y1="757.6" x2="1070.4" y2="771.4" stroke="#000" stroke-width="0.5" opacity="0.07"/>
<line x1="1072.4" y1="757.6" x2="1072.4" y2="771.4" stroke="#000" stroke-width="0.5" opacity="0.07"/>
<line x1="1074.4" y1="757.6" x2="1074.4" y2="771.4" stroke="#000" stroke-width="0.5" opacity="0.07"/>
<line x1="1076.4" y1="757.6" x2="1076.4" y2="771.4" stroke="#000" stroke-width="0.5" opacity="0.07"/>
<line x1="1078.4" y1="757.6" x2="1078.4" y2="771.4" stroke="#000" stroke-width="0.5" opacity="0.07"/>
<line x1="1080.4" y1="757.6" x2="1080.4" y2="771.4" stroke="#000" stroke-width="0.5" opacity="0.07"/>
<line x1="1082.4" y1="757.6" x2="1082.4" y2="771.4" stroke="#000" stroke-width="0.5" opacity="0.07"/>
<line x1="1084.4" y1="757.6" x2="1084.4" y2="771.4" stroke="#000" stroke-width="0.5" opacity="0.07"/>
<line x1="1086.4" y1="757.6" x2="1086.4" y2="771.4" stroke="#000" stroke-width="0.5" opacity="0.07"/>
<line x1="1088.4" y1="757.6" x2="1088.4" y2="771.4" stroke="#000" stroke-width="0.5" opacity="0.07"/>
<line x1="1090.4" y1="757.6" x2="1090.4" y2="771.4" stroke="#000" stroke-width="0.5" opacity="0.07"/>
<line x1="1092.4" y1="757.6" x2="1092.4" y2="771.4" stroke="#000" stroke-width="0.5" opacity="0.07"/>
<line x1="1094.4" y1="757.6" x2="1094.4" y2="771.4" stroke="#000" stroke-width="0.5" opacity="0.07"/>
<line x1="1096.4" y1="757.6" x2="1096.4" y2="771.4" stroke="#000" stroke-width="0.5" opacity="0.07"/>
<line x1="1098.4" y1="757.6" x2="1098.4" y2="771.4" stroke="#000" stroke-width="0.5" opacity="0.07"/>
<line x1="1100.4" y1="757.6" x2="1100.4" y2="771.4" stroke="#000" stroke-width="0.5" opacity="0.07"/>
<line x1="1102.4" y1="757.6" x2="1102.4" y2="771.4" stroke="#000" stroke-width="0.5" opacity="0.07"/>
<line x1="1104.4" y1="757.6" x2="1104.4" y2="771.4" stroke="#000" stroke-width="0.5" opacity="0.07"/>
<line x1="1106.4" y1="757.6" x2="1106.4" y2="771.4" stroke="#000" stroke-width="0.5" opacity="0.07"/>
<line x1="1108.4" y1="757.6" x2="1108.4" y2="771.4" stroke="#000" stroke-width="0.5" opacity="0.07"/>
<line x1="1110.4" y1="757.6" x2="1110.4" y2="771.4" stroke="#000" stroke-width="0.5" opacity="0.07"/>
<line x1="1112.4" y1="757.6" x2="1112.4" y2="771.4" stroke="#000" stroke-width="0.5" opacity="0.07"/>
<line x1="1114.4" y1="757.6" x2="1114.4" y2="771.4" stroke="#000" stroke-width="0.5" opacity="0.07"/>
<line x1="1116.4" y1="757.6" x2="1116.4" y2="771.4" stroke="#000" stroke-width="0.5" opacity="0.07"/>
<line x1="1118.4" y1="757.6" x2="1118.4" y2="771.4" stroke="#000" stroke-width="0.5" opacity="0.07"/>
<line x1="1120.4" y1="757.6" x2="1120.4" y2="771.4" stroke="#000" stroke-width="0.5" opacity="0.07"/>
<line x1="1122.4" y1="757.6" x2="1122.4" y2="771.4" stroke="#000" stroke-width="0.5" opacity="0.07"/>
<line x1="1124.4" y1="757.6" x2="1124.4" y2="771.4" stroke="#000" stroke-width="0.5" opacity="0.07"/>
<line x1="918.6" y1="768.2" x2="918.6" y2="771.8" stroke="#111" stroke-width="1.2"/>
<line x1="943.6" y1="768.2" x2="943.6" y2="771.8" stroke="#111" stroke-width="1.2"/>
<line x1="968.5" y1="768.2" x2="968.5" y2="771.8" stroke="#111" stroke-width="1.2"/>
<line x1="993.5" y1="768.2" x2="993.5" y2="771.8" stroke="#111" stroke-width="1.2"/>
<line x1="1018.4" y1="768.2" x2="1018.4" y2="771.8" stroke="#111" stroke-width="1.2"/>
<line x1="1043.3" y1="768.2" x2="1043.3" y2="771.8" stroke="#111" stroke-width="1.2"/>
<line x1="1068.3" y1="768.2" x2="1068.3" y2="771.8" stroke="#111" stroke-width="1.2"/>
<line x1="1093.2" y1="768.2" x2="1093.2" y2="771.8" stroke="#111" stroke-width="1.2"/>
<line x1="1118.2" y1="768.2" x2="1118.2" y2="771.8" stroke="#111" stroke-width="1.2"/>
<text x="923.9" y="791.5" font-size="17" text-anchor="middle">2.0</text>
<text x="973.5" y="791.5" font-size="17" text-anchor="middle">1.0</text>
<text x="1018.4" y="791.5" font-size="17" text-anchor="middle">0.0</text>
<text x="1068" y="791.5" font-size="17" text-anchor="middle">1.0</text>
<text x="1117" y="791.5" font-size="17" text-anchor="middle">2.0</text>
<text x="1018.8" y="815.7" font-size="17" text-anchor="middle">Differential Expression (log<tspan dy="4" font-size="11.5">2</tspan><tspan dy="-4">)</tspan></text>
</g>
<g id="panel-c">
<text x="1342.3" y="30.6" font-size="43" font-weight="bold">c</text>
<text x="1826.5" y="42" font-size="25" text-anchor="middle">–log<tspan dy="8" font-size="16.5">10</tspan><tspan dy="-8">(P-value)</tspan></text>
<rect x="1688.00" y="112.30" width="219.60" height="31.10" fill="#ff2a00"/>
<rect x="1688.00" y="154.20" width="121.00" height="31.40" fill="#ff2a00"/>
<rect x="1688.00" y="196.20" width="118.60" height="31.30" fill="#ff2a00"/>
<rect x="1688.00" y="238.00" width="107.60" height="31.20" fill="#ff2a00"/>
<rect x="1688.00" y="279.90" width="29.80" height="31.30" fill="#ff2a00"/>
<line x1="1688.0" y1="105.15" x2="1688.0" y2="317.45" stroke="#000" stroke-width="2.6"/>
<line x1="1686.7" y1="106.4" x2="1968.3" y2="106.4" stroke="#000" stroke-width="2.6"/>
<line x1="1686.7" y1="316.2" x2="1968.3" y2="316.2" stroke="#000" stroke-width="2.6"/>
<line x1="1688" y1="106.4" x2="1688" y2="99.9" stroke="#000" stroke-width="2.4"/>
<text x="1688" y="88.3" font-size="24" text-anchor="middle">0</text>
<line x1="1781.2" y1="106.4" x2="1781.2" y2="99.9" stroke="#000" stroke-width="2.4"/>
<text x="1781.2" y="88.3" font-size="24" text-anchor="middle">4</text>
<line x1="1874.2" y1="106.4" x2="1874.2" y2="99.9" stroke="#000" stroke-width="2.4"/>
<text x="1874.2" y="88.3" font-size="24" text-anchor="middle">8</text>
<line x1="1967" y1="106.4" x2="1967" y2="99.9" stroke="#000" stroke-width="2.4"/>
<text x="1967" y="88.3" font-size="24" text-anchor="middle">12</text>
<line x1="1688" y1="316.2" x2="1688" y2="323.2" stroke="#000" stroke-width="2.4"/>
<text x="1688" y="353.5" font-size="24" text-anchor="middle">0</text>
<line x1="1743.8" y1="316.2" x2="1743.8" y2="323.2" stroke="#000" stroke-width="2.4"/>
<text x="1743.8" y="353.5" font-size="24" text-anchor="middle">40</text>
<line x1="1799.6" y1="316.2" x2="1799.6" y2="323.2" stroke="#000" stroke-width="2.4"/>
<text x="1799.6" y="353.5" font-size="24" text-anchor="middle">80</text>
<line x1="1855.4" y1="316.2" x2="1855.4" y2="323.2" stroke="#000" stroke-width="2.4"/>
<text x="1855.4" y="353.5" font-size="24" text-anchor="middle">120</text>
<line x1="1911.2" y1="316.2" x2="1911.2" y2="323.2" stroke="#000" stroke-width="2.4"/>
<text x="1911.2" y="353.5" font-size="24" text-anchor="middle">160</text>
<line x1="1967" y1="316.2" x2="1967" y2="323.2" stroke="#000" stroke-width="2.4"/>
<text x="1967" y="353.5" font-size="24" text-anchor="middle">200</text>
<line x1="1681.5" y1="127.85" x2="1688.0" y2="127.85" stroke="#000" stroke-width="2.2"/>
<text x="1668.5" y="135.5" font-size="24.5" text-anchor="end">Lipid metabolic process</text>
<line x1="1681.5" y1="169.89999999999998" x2="1688.0" y2="169.89999999999998" stroke="#000" stroke-width="2.2"/>
<text x="1668.5" y="177.3" font-size="24.5" text-anchor="end">Axon ensheathment</text>
<line x1="1681.5" y1="211.85" x2="1688.0" y2="211.85" stroke="#000" stroke-width="2.2"/>
<text x="1668.5" y="219.2" font-size="24.5" text-anchor="end">Myelin sheath</text>
<line x1="1681.5" y1="253.6" x2="1688.0" y2="253.6" stroke="#000" stroke-width="2.2"/>
<text x="1668.5" y="261" font-size="24.5" text-anchor="end">Gliogenesis</text>
<line x1="1681.5" y1="295.54999999999995" x2="1688.0" y2="295.54999999999995" stroke="#000" stroke-width="2.2"/>
<text x="1668.5" y="303" font-size="24.5" text-anchor="end">Myelination</text>
<polyline points="1950.2,128.0 1729.9,169.8 1739.9,211.7 1760.0,253.5 1729.9,295.7" fill="none" stroke="#0a28d2" stroke-width="2"/>
<circle cx="1907.6" cy="128.0" r="4.2" fill="#0a28d2"/>
<circle cx="1809.0" cy="169.8" r="4.2" fill="#0a28d2"/>
<circle cx="1806.6" cy="211.7" r="4.2" fill="#0a28d2"/>
<circle cx="1795.6" cy="253.5" r="4.2" fill="#0a28d2"/>
<circle cx="1717.8" cy="295.7" r="4.2" fill="#0a28d2"/>
<circle cx="1950.2" cy="128.0" r="4.2" fill="#0a28d2"/>
<circle cx="1729.9" cy="169.8" r="4.2" fill="#0a28d2"/>
<circle cx="1739.9" cy="211.7" r="4.2" fill="#0a28d2"/>
<circle cx="1760.0" cy="253.5" r="4.2" fill="#0a28d2"/>
<circle cx="1729.9" cy="295.7" r="4.2" fill="#0a28d2"/>
<text x="1817" y="295.7" font-size="21">Downregulated</text>
<text x="1829" y="393.8" font-size="25" text-anchor="middle">Count (<tspan fill="#0a28d2">•</tspan>)</text>
</g>
<g id="panel-d">
<text x="1347" y="462.6" font-size="43" font-weight="bold">d</text>
<text x="1826.5" y="427.4" font-size="25" text-anchor="middle">–log<tspan dy="8" font-size="16.5">10</tspan><tspan dy="-8">(P-value)</tspan></text>
<rect x="1688.00" y="496.20" width="245.60" height="30.80" fill="#0a28d2"/>
<rect x="1688.00" y="538.70" width="137.70" height="30.10" fill="#0a28d2"/>
<rect x="1688.00" y="580.20" width="32.50" height="30.10" fill="#0a28d2"/>
<rect x="1688.00" y="622.00" width="19.00" height="31.20" fill="#0a28d2"/>
<rect x="1688.00" y="664.30" width="15.60" height="30.10" fill="#0a28d2"/>
<line x1="1688.0" y1="489.85" x2="1688.0" y2="700.25" stroke="#000" stroke-width="2.6"/>
<line x1="1686.7" y1="491.1" x2="1968.3" y2="491.1" stroke="#000" stroke-width="2.6"/>
<line x1="1686.7" y1="699" x2="1968.3" y2="699" stroke="#000" stroke-width="2.6"/>
<line x1="1688" y1="491.1" x2="1688" y2="484.6" stroke="#000" stroke-width="2.4"/>
<text x="1688" y="471" font-size="24" text-anchor="middle">0</text>
<line x1="1743.8" y1="491.1" x2="1743.8" y2="484.6" stroke="#000" stroke-width="2.4"/>
<text x="1743.8" y="471" font-size="24" text-anchor="middle">10</text>
<line x1="1799.6" y1="491.1" x2="1799.6" y2="484.6" stroke="#000" stroke-width="2.4"/>
<text x="1799.6" y="471" font-size="24" text-anchor="middle">20</text>
<line x1="1855.4" y1="491.1" x2="1855.4" y2="484.6" stroke="#000" stroke-width="2.4"/>
<text x="1855.4" y="471" font-size="24" text-anchor="middle">30</text>
<line x1="1911.2" y1="491.1" x2="1911.2" y2="484.6" stroke="#000" stroke-width="2.4"/>
<text x="1911.2" y="471" font-size="24" text-anchor="middle">40</text>
<line x1="1967" y1="491.1" x2="1967" y2="484.6" stroke="#000" stroke-width="2.4"/>
<text x="1967" y="471" font-size="24" text-anchor="middle">50</text>
<line x1="1688" y1="699" x2="1688" y2="706" stroke="#000" stroke-width="2.4"/>
<text x="1688" y="735.3" font-size="24" text-anchor="middle">0</text>
<line x1="1734.5" y1="699" x2="1734.5" y2="706" stroke="#000" stroke-width="2.4"/>
<text x="1734.5" y="735.3" font-size="24" text-anchor="middle">60</text>
<line x1="1781" y1="699" x2="1781" y2="706" stroke="#000" stroke-width="2.4"/>
<text x="1781" y="735.3" font-size="24" text-anchor="middle">120</text>
<line x1="1827.5" y1="699" x2="1827.5" y2="706" stroke="#000" stroke-width="2.4"/>
<text x="1827.5" y="735.3" font-size="24" text-anchor="middle">180</text>
<line x1="1874" y1="699" x2="1874" y2="706" stroke="#000" stroke-width="2.4"/>
<text x="1874" y="735.3" font-size="24" text-anchor="middle">240</text>
<line x1="1920.5" y1="699" x2="1920.5" y2="706" stroke="#000" stroke-width="2.4"/>
<text x="1920.5" y="735.3" font-size="24" text-anchor="middle">300</text>
<line x1="1967" y1="699" x2="1967" y2="706" stroke="#000" stroke-width="2.4"/>
<text x="1967" y="735.3" font-size="24" text-anchor="middle">360</text>
<line x1="1681.5" y1="511.6" x2="1688.0" y2="511.6" stroke="#000" stroke-width="2.2"/>
<text x="1668.5" y="519.7" font-size="25.1" text-anchor="end">Cell cycle</text>
<line x1="1681.5" y1="553.75" x2="1688.0" y2="553.75" stroke="#000" stroke-width="2.2"/>
<text x="1668.5" y="561.4" font-size="25.1" text-anchor="end">DNA replication</text>
<line x1="1681.5" y1="595.25" x2="1688.0" y2="595.25" stroke="#000" stroke-width="2.2"/>
<text x="1668.5" y="603" font-size="25.1" text-anchor="end">Neuron projection</text>
<line x1="1681.5" y1="637.6" x2="1688.0" y2="637.6" stroke="#000" stroke-width="2.2"/>
<text x="1668.5" y="645" font-size="25.1" text-anchor="end">Extracellular matrix</text>
<line x1="1681.5" y1="679.3499999999999" x2="1688.0" y2="679.3499999999999" stroke="#000" stroke-width="2.2"/>
<text x="1668.5" y="686.6" font-size="25.1" text-anchor="end">Focal adhesion</text>
<polyline points="1948.5,510.0 1751.7,551.5 1824.6,594.0 1741.3,636.0 1725.4,677.8" fill="none" stroke="#ff2a00" stroke-width="2"/>
<circle cx="1933.6" cy="510.0" r="4.2" fill="#ff2a00"/>
<circle cx="1825.7" cy="551.5" r="4.2" fill="#ff2a00"/>
<circle cx="1720.5" cy="594.0" r="4.2" fill="#ff2a00"/>
<circle cx="1707.0" cy="636.0" r="4.2" fill="#ff2a00"/>
<circle cx="1702.9" cy="677.8" r="4.2" fill="#ff2a00"/>
<circle cx="1948.5" cy="510.0" r="4.2" fill="#ff2a00"/>
<circle cx="1751.7" cy="551.5" r="4.2" fill="#ff2a00"/>
<circle cx="1824.6" cy="594.0" r="4.2" fill="#ff2a00"/>
<circle cx="1741.3" cy="636.0" r="4.2" fill="#ff2a00"/>
<circle cx="1725.4" cy="677.8" r="4.2" fill="#ff2a00"/>
<text x="1834" y="677" font-size="23">Upregulated</text>
<text x="1827" y="775" font-size="25" text-anchor="middle">Count (<tspan fill="#ff2a00">•</tspan>)</text>
</g>
<g id="panel-e-down">
<text x="9.7" y="886" font-size="43" font-weight="bold">e</text>
<text x="274.2" y="890.5" font-size="25.8" text-anchor="middle">Downregulated</text>
<text x="18.9" y="1024.8" font-size="24.9" text-anchor="middle" transform="rotate(-90 18.9 1024.8)">Relative fold change</text>
<rect x="99.70" y="990.30" width="9.70" height="140.30" fill="#fff" stroke="#000" stroke-width="1.7"/>
<line x1="104.6" y1="983.9" x2="104.6" y2="996.2" stroke="#000" stroke-width="1.6"/>
<line x1="101.89999999999999" y1="983.9" x2="107.3" y2="983.9" stroke="#000" stroke-width="1.6"/>
<line x1="101.89999999999999" y1="996.2" x2="107.3" y2="996.2" stroke="#000" stroke-width="1.6"/>
<circle cx="104.6" cy="980.5" r="3.2" fill="#000"/>
<circle cx="109.7" cy="991.8" r="3.2" fill="#000"/>
<circle cx="102.3" cy="1000.0" r="3.2" fill="#000"/>
<rect x="114.50" y="1117.20" width="9.30" height="13.40" fill="#fff" stroke="#ff2a00" stroke-width="1.7"/>
<rect x="114.30" y="1114.20" width="9.60" height="5.60" fill="#ff2a00" rx="1"/>
<text x="119.30000000000001" y="1112.8" font-size="13.6" text-anchor="middle" fill="#222" font-weight="bold">***</text>
<line x1="111.9" y1="1130.6" x2="111.9" y2="1137.1999999999998" stroke="#000" stroke-width="2.2"/>
<text x="120.6" y="1160.3" font-size="25" font-style="italic" text-anchor="end" transform="rotate(-45 120.6 1160.3)">Prx</text>
<rect x="138.24" y="990.30" width="9.70" height="140.30" fill="#fff" stroke="#000" stroke-width="1.7"/>
<line x1="143.4" y1="982.5" x2="143.4" y2="997" stroke="#000" stroke-width="1.6"/>
<line x1="140.70000000000002" y1="982.5" x2="146.1" y2="982.5" stroke="#000" stroke-width="1.6"/>
<line x1="140.70000000000002" y1="997" x2="146.1" y2="997" stroke="#000" stroke-width="1.6"/>
<circle cx="138.3" cy="979.3" r="3.2" fill="#000"/>
<circle cx="145.3" cy="988.2" r="3.2" fill="#000"/>
<circle cx="143.1" cy="1003.4" r="3.2" fill="#000"/>
<rect x="153.04" y="1124.00" width="9.30" height="6.60" fill="#fff" stroke="#ff2a00" stroke-width="1.7"/>
<rect x="152.74" y="1120.20" width="9.80" height="5.70" fill="#ff2a00" rx="1"/>
<text x="157.84" y="1112.8" font-size="13.6" text-anchor="middle" fill="#222" font-weight="bold">***</text>
<line x1="150.32" y1="1130.6" x2="150.32" y2="1137.1999999999998" stroke="#000" stroke-width="2.2"/>
<text x="159.0" y="1160.3" font-size="25" font-style="italic" text-anchor="end" transform="rotate(-45 159.0 1160.3)">Mbp</text>
<rect x="176.78" y="990.30" width="9.70" height="140.30" fill="#fff" stroke="#000" stroke-width="1.7"/>
<line x1="181.7" y1="986.7" x2="181.7" y2="993.3" stroke="#000" stroke-width="1.6"/>
<line x1="179.0" y1="986.7" x2="184.39999999999998" y2="986.7" stroke="#000" stroke-width="1.6"/>
<line x1="179.0" y1="993.3" x2="184.39999999999998" y2="993.3" stroke="#000" stroke-width="1.6"/>
<circle cx="176.6" cy="984.8" r="3.2" fill="#000"/>
<circle cx="183.8" cy="987.7" r="3.2" fill="#000"/>
<circle cx="181.7" cy="998.4" r="3.2" fill="#000"/>
<rect x="191.58" y="1127.20" width="9.30" height="3.40" fill="#fff" stroke="#ff2a00" stroke-width="1.7"/>
<rect x="191.18" y="1123.20" width="10.00" height="5.50" fill="#ff2a00" rx="1"/>
<text x="196.38" y="1112.8" font-size="13.6" text-anchor="middle" fill="#222" font-weight="bold">***</text>
<line x1="188.74" y1="1130.6" x2="188.74" y2="1137.1999999999998" stroke="#000" stroke-width="2.2"/>
<text x="197.4" y="1160.3" font-size="25" font-style="italic" text-anchor="end" transform="rotate(-45 197.4 1160.3)">Mpz</text>
<rect x="215.32" y="990.30" width="9.70" height="140.30" fill="#fff" stroke="#000" stroke-width="1.7"/>
<line x1="219.8" y1="973" x2="219.8" y2="1007" stroke="#000" stroke-width="1.6"/>
<line x1="217.10000000000002" y1="973" x2="222.5" y2="973" stroke="#000" stroke-width="1.6"/>
<line x1="217.10000000000002" y1="1007" x2="222.5" y2="1007" stroke="#000" stroke-width="1.6"/>
<circle cx="219.8" cy="958.3" r="3.2" fill="#000"/>
<circle cx="219.8" cy="999.0" r="3.2" fill="#000"/>
<circle cx="219.8" cy="1014.2" r="3.2" fill="#000"/>
<rect x="230.12" y="1122.40" width="9.30" height="8.20" fill="#fff" stroke="#ff2a00" stroke-width="1.7"/>
<rect x="229.92" y="1117.40" width="9.60" height="8.50" fill="#ff2a00" rx="1"/>
<text x="234.92" y="1112.8" font-size="13.6" text-anchor="middle" fill="#222" font-weight="bold">**</text>
<line x1="227.16000000000003" y1="1130.6" x2="227.16000000000003" y2="1137.1999999999998" stroke="#000" stroke-width="2.2"/>
<text x="235.9" y="1160.3" font-size="25" font-style="italic" text-anchor="end" transform="rotate(-45 235.9 1160.3)">Hmgcr</text>
<rect x="253.86" y="990.30" width="9.70" height="140.30" fill="#fff" stroke="#000" stroke-width="1.7"/>
<line x1="258" y1="983.3" x2="258" y2="996.4" stroke="#000" stroke-width="1.6"/>
<line x1="255.3" y1="983.3" x2="260.7" y2="983.3" stroke="#000" stroke-width="1.6"/>
<line x1="255.3" y1="996.4" x2="260.7" y2="996.4" stroke="#000" stroke-width="1.6"/>
<circle cx="258.0" cy="977.8" r="3.2" fill="#000"/>
<circle cx="263.3" cy="995.2" r="3.2" fill="#000"/>
<circle cx="256.1" cy="998.0" r="3.2" fill="#000"/>
<rect x="268.66" y="1094.10" width="9.30" height="36.50" fill="#fff" stroke="#ff2a00" stroke-width="1.7"/>
<rect x="268.26" y="1089.00" width="10.00" height="7.60" fill="#ff2a00" rx="1"/>
<text x="273.46" y="1088.3" font-size="13.6" text-anchor="middle" fill="#222" font-weight="bold">***</text>
<line x1="265.58000000000004" y1="1130.6" x2="265.58000000000004" y2="1137.1999999999998" stroke="#000" stroke-width="2.2"/>
<text x="274.3" y="1160.3" font-size="25" font-style="italic" text-anchor="end" transform="rotate(-45 274.3 1160.3)">Egr2</text>
<rect x="292.40" y="990.30" width="9.70" height="140.30" fill="#fff" stroke="#000" stroke-width="1.7"/>
<line x1="296.8" y1="966.8" x2="296.8" y2="1012.8" stroke="#000" stroke-width="1.6"/>
<line x1="294.1" y1="966.8" x2="299.5" y2="966.8" stroke="#000" stroke-width="1.6"/>
<line x1="294.1" y1="1012.8" x2="299.5" y2="1012.8" stroke="#000" stroke-width="1.6"/>
<circle cx="296.8" cy="945.6" r="3.2" fill="#000"/>
<circle cx="296.8" cy="1003.8" r="3.2" fill="#000"/>
<circle cx="296.8" cy="1021.7" r="3.2" fill="#000"/>
<rect x="307.20" y="1104.00" width="9.30" height="26.60" fill="#fff" stroke="#ff2a00" stroke-width="1.7"/>
<rect x="308.80" y="1094.40" width="6.00" height="6.20" fill="#ff2a00"/>
<line x1="311.79999999999995" y1="1100.2" x2="311.79999999999995" y2="1103.2" stroke="#ff2a00" stroke-width="1.6"/>
<rect x="308.50" y="1102.80" width="6.60" height="6.90" fill="#ff2a00"/>
<text x="311.99999999999994" y="1094.3" font-size="13.6" text-anchor="middle" fill="#222" font-weight="bold">**</text>
<line x1="304.0" y1="1130.6" x2="304.0" y2="1137.1999999999998" stroke="#000" stroke-width="2.2"/>
<text x="312.7" y="1160.3" font-size="25" font-style="italic" text-anchor="end" transform="rotate(-45 312.7 1160.3)">Itgb1</text>
<rect x="330.94" y="990.30" width="9.70" height="140.30" fill="#fff" stroke="#000" stroke-width="1.7"/>
<line x1="335.2" y1="984.8" x2="335.2" y2="995" stroke="#000" stroke-width="1.6"/>
<line x1="332.5" y1="984.8" x2="337.9" y2="984.8" stroke="#000" stroke-width="1.6"/>
<line x1="332.5" y1="995" x2="337.9" y2="995" stroke="#000" stroke-width="1.6"/>
<circle cx="335.2" cy="981.6" r="3.2" fill="#000"/>
<circle cx="340.5" cy="993.3" r="3.2" fill="#000"/>
<circle cx="332.8" cy="996.6" r="3.2" fill="#000"/>
<rect x="345.74" y="1056.30" width="9.30" height="74.30" fill="#fff" stroke="#ff2a00" stroke-width="1.7"/>
<rect x="347.24" y="1048.50" width="6.20" height="14.30" fill="#ff2a00" rx="1"/>
<text x="350.53999999999996" y="1045.8" font-size="13.6" text-anchor="middle" fill="#222" font-weight="bold">***</text>
<line x1="342.42" y1="1130.6" x2="342.42" y2="1137.1999999999998" stroke="#000" stroke-width="2.2"/>
<text x="351.1" y="1160.3" font-size="25" font-style="italic" text-anchor="end" transform="rotate(-45 351.1 1160.3)">Itgb3bp</text>
<rect x="369.48" y="990.30" width="9.70" height="140.30" fill="#fff" stroke="#000" stroke-width="1.7"/>
<line x1="373.5" y1="978.2" x2="373.5" y2="1001.5" stroke="#000" stroke-width="1.6"/>
<line x1="370.8" y1="978.2" x2="376.2" y2="978.2" stroke="#000" stroke-width="1.6"/>
<line x1="370.8" y1="1001.5" x2="376.2" y2="1001.5" stroke="#000" stroke-width="1.6"/>
<circle cx="373.5" cy="966.8" r="3.2" fill="#000"/>
<circle cx="378.4" cy="998.4" r="3.2" fill="#000"/>
<circle cx="371.2" cy="1005.6" r="3.2" fill="#000"/>
<rect x="384.28" y="1075.20" width="9.30" height="55.40" fill="#fff" stroke="#ff2a00" stroke-width="1.7"/>
<rect x="385.78" y="1067.40" width="6.20" height="13.70" fill="#ff2a00" rx="1"/>
<text x="389.0799999999999" y="1065.8" font-size="13.6" text-anchor="middle" fill="#222" font-weight="bold">**</text>
<line x1="380.84000000000003" y1="1130.6" x2="380.84000000000003" y2="1137.1999999999998" stroke="#000" stroke-width="2.2"/>
<text x="389.5" y="1160.3" font-size="25" font-style="italic" text-anchor="end" transform="rotate(-45 389.5 1160.3)">Itgb5</text>
<rect x="408.02" y="990.30" width="9.70" height="140.30" fill="#fff" stroke="#000" stroke-width="1.7"/>
<line x1="412.3" y1="986.7" x2="412.3" y2="998" stroke="#000" stroke-width="1.6"/>
<line x1="409.6" y1="986.7" x2="415.0" y2="986.7" stroke="#000" stroke-width="1.6"/>
<line x1="409.6" y1="998" x2="415.0" y2="998" stroke="#000" stroke-width="1.6"/>
<circle cx="407.2" cy="982.0" r="3.2" fill="#000"/>
<circle cx="414.8" cy="982.5" r="3.2" fill="#000"/>
<circle cx="412.3" cy="1006.6" r="3.2" fill="#000"/>
<rect x="422.82" y="1101.10" width="9.30" height="29.50" fill="#fff" stroke="#ff2a00" stroke-width="1.7"/>
<rect x="424.12" y="1096.30" width="6.60" height="10.40" fill="#ff2a00" rx="1"/>
<text x="427.61999999999995" y="1093.3" font-size="13.6" text-anchor="middle" fill="#222" font-weight="bold">***</text>
<line x1="419.26" y1="1130.6" x2="419.26" y2="1137.1999999999998" stroke="#000" stroke-width="2.2"/>
<text x="428.0" y="1160.3" font-size="25" font-style="italic" text-anchor="end" transform="rotate(-45 428.0 1160.3)">Itgb8</text>
<line x1="93.3" y1="917.9" x2="93.3" y2="1131.8" stroke="#000" stroke-width="2.9"/>
<line x1="86.6" y1="1130.6" x2="438.5" y2="1130.6" stroke="#000" stroke-width="2.5"/>
<line x1="87.2" y1="1130.6" x2="93.3" y2="1130.6" stroke="#000" stroke-width="2.4"/>
<text x="73.3" y="1139.1" font-size="23.2" text-anchor="end">0.0</text>
<line x1="87.2" y1="1060.25" x2="93.3" y2="1060.25" stroke="#000" stroke-width="2.4"/>
<text x="73.3" y="1068.75" font-size="23.2" text-anchor="end">0.5</text>
<line x1="87.2" y1="989.8999999999999" x2="93.3" y2="989.8999999999999" stroke="#000" stroke-width="2.4"/>
<text x="73.3" y="998.3999999999999" font-size="23.2" text-anchor="end">1.0</text>
<line x1="87.2" y1="919.55" x2="93.3" y2="919.55" stroke="#000" stroke-width="2.4"/>
<text x="73.3" y="928.05" font-size="23.2" text-anchor="end">1.5</text>
<rect x="391.50" y="928.60" width="22.20" height="12.60" fill="#fff" stroke="#000" stroke-width="2"/>
<rect x="391.50" y="953.60" width="22.20" height="12.60" fill="#fff" stroke="#ff2a00" stroke-width="2"/>
<text x="422" y="942.2" font-size="20" textLength="60.5" lengthAdjust="spacingAndGlyphs">Control</text>
<text x="422.8" y="967.1" font-size="20" textLength="77" lengthAdjust="spacingAndGlyphs"><tspan font-style="italic">Ctcf</tspan> cKO</text>
</g>
<g id="panel-e-up">
<text x="783.2" y="890.5" font-size="25" text-anchor="middle">Upregulated</text>
<text x="534.3" y="1024.5" font-size="25" text-anchor="middle" transform="rotate(-90 534.3 1024.5)">Relative fold change</text>
<rect x="601.30" y="1116.60" width="9.30" height="13.70" fill="#fff" stroke="#000" stroke-width="1.7"/>
<circle cx="605.9" cy="1115.5" r="3.2" fill="#000"/>
<rect x="615.50" y="1078.40" width="9.30" height="51.90" fill="#fff" stroke="#1a3cff" stroke-width="1.7"/>
<rect x="616.20" y="1072.50" width="7.80" height="11.70" fill="#1a3cff" rx="1"/>
<text x="620.7" y="1071.3" font-size="13.6" text-anchor="middle" fill="#222" font-weight="bold">***</text>
<line x1="612.8" y1="1130.3" x2="612.8" y2="1136.8999999999999" stroke="#000" stroke-width="2.2"/>
<text x="625.0" y="1156.8" font-size="25" font-style="italic" text-anchor="end" transform="rotate(-45 625.0 1156.8)">Ccnd1</text>
<rect x="639.32" y="1116.60" width="9.30" height="13.70" fill="#fff" stroke="#000" stroke-width="1.7"/>
<circle cx="643.9" cy="1115.5" r="3.2" fill="#000"/>
<rect x="653.52" y="1089.80" width="9.30" height="40.50" fill="#fff" stroke="#1a3cff" stroke-width="1.7"/>
<rect x="654.22" y="1085.20" width="7.80" height="8.50" fill="#1a3cff" rx="1"/>
<text x="658.72" y="1080.3" font-size="13.6" text-anchor="middle" fill="#222" font-weight="bold">***</text>
<line x1="650.75" y1="1130.3" x2="650.75" y2="1136.8999999999999" stroke="#000" stroke-width="2.2"/>
<text x="663.0" y="1156.8" font-size="25" font-style="italic" text-anchor="end" transform="rotate(-45 663.0 1156.8)">Ccng1</text>
<rect x="677.34" y="1116.60" width="9.30" height="13.70" fill="#fff" stroke="#000" stroke-width="1.7"/>
<line x1="682.3" y1="1111.7" x2="682.3" y2="1118" stroke="#000" stroke-width="1.6"/>
<line x1="680.05" y1="1111.7" x2="684.55" y2="1111.7" stroke="#000" stroke-width="1.6"/>
<line x1="680.05" y1="1118" x2="684.55" y2="1118" stroke="#000" stroke-width="1.6"/>
<circle cx="682.3" cy="1108.9" r="3.2" fill="#000"/>
<circle cx="679.8" cy="1119.8" r="3.2" fill="#000"/>
<circle cx="687.0" cy="1118.9" r="3.2" fill="#000"/>
<rect x="691.54" y="1012.70" width="9.30" height="117.60" fill="#fff" stroke="#1a3cff" stroke-width="1.7"/>
<line x1="696.1" y1="1002.8" x2="696.1" y2="1021" stroke="#1a3cff" stroke-width="1.6"/>
<line x1="693.4" y1="1002.8" x2="698.8000000000001" y2="1002.8" stroke="#1a3cff" stroke-width="1.6"/>
<line x1="693.4" y1="1021" x2="698.8000000000001" y2="1021" stroke="#1a3cff" stroke-width="1.6"/>
<rect x="693.20" y="991.40" width="5.80" height="5.80" fill="#1a3cff"/>
<rect x="697.90" y="1016.40" width="5.80" height="5.80" fill="#1a3cff"/>
<rect x="690.70" y="1020.10" width="5.80" height="5.80" fill="#1a3cff"/>
<text x="696.74" y="985.8" font-size="13.6" text-anchor="middle" fill="#222" font-weight="bold">***</text>
<line x1="688.6999999999999" y1="1130.3" x2="688.6999999999999" y2="1136.8999999999999" stroke="#000" stroke-width="2.2"/>
<text x="700.9" y="1156.8" font-size="25" font-style="italic" text-anchor="end" transform="rotate(-45 700.9 1156.8)">Ccno</text>
<rect x="715.36" y="1116.60" width="9.30" height="13.70" fill="#fff" stroke="#000" stroke-width="1.7"/>
<circle cx="720.0" cy="1115.5" r="3.2" fill="#000"/>
<rect x="729.56" y="949.60" width="9.30" height="180.70" fill="#fff" stroke="#1a3cff" stroke-width="1.7"/>
<line x1="734.4" y1="942.2" x2="734.4" y2="957.3" stroke="#1a3cff" stroke-width="1.6"/>
<line x1="731.6999999999999" y1="942.2" x2="737.1" y2="942.2" stroke="#1a3cff" stroke-width="1.6"/>
<line x1="731.6999999999999" y1="957.3" x2="737.1" y2="957.3" stroke="#1a3cff" stroke-width="1.6"/>
<rect x="726.30" y="935.90" width="5.80" height="5.80" fill="#1a3cff"/>
<rect x="733.50" y="937.00" width="5.80" height="5.80" fill="#1a3cff"/>
<rect x="731.50" y="964.90" width="5.80" height="5.80" fill="#1a3cff"/>
<text x="734.76" y="934.8" font-size="13.6" text-anchor="middle" fill="#222" font-weight="bold">***</text>
<line x1="726.65" y1="1130.3" x2="726.65" y2="1136.8999999999999" stroke="#000" stroke-width="2.2"/>
<text x="738.9" y="1156.8" font-size="25" font-style="italic" text-anchor="end" transform="rotate(-45 738.9 1156.8)">Cdc7</text>
<rect x="753.38" y="1116.60" width="9.30" height="13.70" fill="#fff" stroke="#000" stroke-width="1.7"/>
<circle cx="757.5" cy="1112.3" r="3.2" fill="#000"/>
<circle cx="757.5" cy="1118.3" r="3.2" fill="#000"/>
<rect x="767.58" y="1040.50" width="9.30" height="89.80" fill="#fff" stroke="#1a3cff" stroke-width="1.7"/>
<rect x="768.28" y="1033.10" width="7.80" height="12.30" fill="#1a3cff" rx="1"/>
<text x="772.7800000000001" y="1030.3" font-size="13.6" text-anchor="middle" fill="#222" font-weight="bold">***</text>
<line x1="764.5999999999999" y1="1130.3" x2="764.5999999999999" y2="1136.8999999999999" stroke="#000" stroke-width="2.2"/>
<text x="776.8" y="1156.8" font-size="25" font-style="italic" text-anchor="end" transform="rotate(-45 776.8 1156.8)">Cdk5r2</text>
<rect x="791.40" y="1116.60" width="9.30" height="13.70" fill="#fff" stroke="#000" stroke-width="1.7"/>
<circle cx="796.0" cy="1115.5" r="3.2" fill="#000"/>
<rect x="805.60" y="1086.70" width="9.30" height="43.60" fill="#fff" stroke="#1a3cff" stroke-width="1.7"/>
<rect x="806.30" y="1080.50" width="7.80" height="8.50" fill="#1a3cff" rx="1"/>
<text x="810.8000000000001" y="1076.8" font-size="13.6" text-anchor="middle" fill="#222" font-weight="bold">***</text>
<line x1="802.55" y1="1130.3" x2="802.55" y2="1136.8999999999999" stroke="#000" stroke-width="2.2"/>
<text x="814.8" y="1156.8" font-size="25" font-style="italic" text-anchor="end" transform="rotate(-45 814.8 1156.8)">Ccnb1</text>
<rect x="829.42" y="1116.60" width="9.30" height="13.70" fill="#fff" stroke="#000" stroke-width="1.7"/>
<circle cx="834.0" cy="1113.0" r="3.2" fill="#000"/>
<circle cx="834.0" cy="1117.5" r="3.2" fill="#000"/>
<rect x="843.62" y="1104.10" width="9.30" height="26.20" fill="#fff" stroke="#1a3cff" stroke-width="1.7"/>
<rect x="844.32" y="1099.50" width="7.80" height="6.60" fill="#1a3cff" rx="1"/>
<text x="848.82" y="1095.8" font-size="13.6" text-anchor="middle" fill="#222" font-weight="bold">**</text>
<line x1="840.5" y1="1130.3" x2="840.5" y2="1136.8999999999999" stroke="#000" stroke-width="2.2"/>
<text x="852.7" y="1156.8" font-size="25" font-style="italic" text-anchor="end" transform="rotate(-45 852.7 1156.8)">Notch1</text>
<rect x="867.44" y="1116.60" width="9.30" height="13.70" fill="#fff" stroke="#000" stroke-width="1.7"/>
<circle cx="872.0" cy="1112.5" r="3.2" fill="#000"/>
<circle cx="872.0" cy="1119.0" r="3.2" fill="#000"/>
<rect x="881.64" y="1109.80" width="9.30" height="20.50" fill="#fff" stroke="#1a3cff" stroke-width="1.7"/>
<rect x="882.34" y="1105.20" width="7.80" height="6.60" fill="#1a3cff" rx="1"/>
<text x="886.8400000000001" y="1100.8" font-size="13.6" text-anchor="middle" fill="#222" font-weight="bold">*</text>
<line x1="878.45" y1="1130.3" x2="878.45" y2="1136.8999999999999" stroke="#000" stroke-width="2.2"/>
<text x="890.7" y="1156.8" font-size="25" font-style="italic" text-anchor="end" transform="rotate(-45 890.7 1156.8)">Hes5</text>
<rect x="905.46" y="1116.60" width="9.30" height="13.70" fill="#fff" stroke="#000" stroke-width="1.7"/>
<circle cx="910.1" cy="1115.5" r="3.2" fill="#000"/>
<rect x="919.66" y="1105.60" width="9.30" height="24.70" fill="#fff" stroke="#1a3cff" stroke-width="1.7"/>
<line x1="924.4" y1="1097.6" x2="924.4" y2="1112" stroke="#1a3cff" stroke-width="1.6"/>
<line x1="921.6999999999999" y1="1097.6" x2="927.1" y2="1097.6" stroke="#1a3cff" stroke-width="1.6"/>
<line x1="921.6999999999999" y1="1112" x2="927.1" y2="1112" stroke="#1a3cff" stroke-width="1.6"/>
<rect x="921.20" y="1086.20" width="5.80" height="5.80" fill="#1a3cff"/>
<rect x="919.60" y="1109.90" width="5.80" height="5.80" fill="#1a3cff"/>
<rect x="926.30" y="1109.90" width="5.80" height="5.80" fill="#1a3cff"/>
<line x1="916.4" y1="1130.3" x2="916.4" y2="1136.8999999999999" stroke="#000" stroke-width="2.2"/>
<text x="928.6" y="1156.8" font-size="25" font-style="italic" text-anchor="end" transform="rotate(-45 928.6 1156.8)">Id2</text>
<rect x="943.48" y="1116.60" width="9.30" height="13.70" fill="#fff" stroke="#000" stroke-width="1.7"/>
<circle cx="948.1" cy="1115.5" r="3.2" fill="#000"/>
<rect x="957.68" y="1080.40" width="9.30" height="49.90" fill="#fff" stroke="#1a3cff" stroke-width="1.7"/>
<rect x="958.38" y="1073.40" width="7.80" height="10.90" fill="#1a3cff" rx="1"/>
<text x="962.8800000000001" y="1069.8" font-size="13.6" text-anchor="middle" fill="#222" font-weight="bold">***</text>
<line x1="954.3499999999999" y1="1130.3" x2="954.3499999999999" y2="1136.8999999999999" stroke="#000" stroke-width="2.2"/>
<text x="966.5" y="1156.8" font-size="25" font-style="italic" text-anchor="end" transform="rotate(-45 966.5 1156.8)">Id4</text>
<line x1="593.8" y1="917.7" x2="593.8" y2="1131.5" stroke="#000" stroke-width="2.9"/>
<line x1="587" y1="1130.3" x2="972.6" y2="1130.3" stroke="#000" stroke-width="2.5"/>
<line x1="588.4" y1="1130.3" x2="593.8" y2="1130.3" stroke="#000" stroke-width="2.4"/>
<text x="574.7" y="1138.8" font-size="23.2" text-anchor="end">0</text>
<line x1="588.4" y1="1060.05" x2="593.8" y2="1060.05" stroke="#000" stroke-width="2.4"/>
<text x="574.7" y="1068.55" font-size="23.2" text-anchor="end">5</text>
<line x1="588.4" y1="989.8" x2="593.8" y2="989.8" stroke="#000" stroke-width="2.4"/>
<text x="574.7" y="998.3" font-size="23.2" text-anchor="end">10</text>
<line x1="588.4" y1="919.55" x2="593.8" y2="919.55" stroke="#000" stroke-width="2.4"/>
<text x="574.7" y="928.05" font-size="23.2" text-anchor="end">15</text>
<rect x="872.00" y="928.60" width="22.20" height="12.60" fill="#fff" stroke="#000" stroke-width="2"/>
<rect x="872.00" y="953.60" width="22.20" height="12.60" fill="#fff" stroke="#1a3cff" stroke-width="2"/>
<text x="903.6" y="942.2" font-size="20" textLength="60.5" lengthAdjust="spacingAndGlyphs">Control</text>
<text x="904.4" y="967.1" font-size="20" textLength="77" lengthAdjust="spacingAndGlyphs"><tspan font-style="italic">Ctcf</tspan> cKO</text>
</g>
<g id="panel-f">
<text x="1013" y="884.5" font-size="43" font-weight="bold">f</text>
<text x="1023.5" y="1027" font-size="20.8" text-anchor="middle" transform="rotate(-90 1023.5 1027)">Enrichment score</text>
<text x="1222.5" y="925.6" font-size="25" text-anchor="middle">Myelin Sheath</text>
<rect x="1094.60" y="944.20" width="256.90" height="163.00" fill="#fff" stroke="#d6d6d6" stroke-width="0.8"/>
<rect x="1093.20" y="944.20" width="1.60" height="109.10" fill="#e6e2cf"/>
<line x1="1094.6" y1="954.6" x2="1351.5" y2="954.6" stroke="#dcdcdc" stroke-width="0.8" stroke-dasharray="1.2 1"/>
<line x1="1094.6" y1="969.4" x2="1351.5" y2="969.4" stroke="#dcdcdc" stroke-width="0.8" stroke-dasharray="1.2 1"/>
<line x1="1094.6" y1="982.8" x2="1351.5" y2="982.8" stroke="#dcdcdc" stroke-width="0.8" stroke-dasharray="1.2 1"/>
<line x1="1094.6" y1="997.0" x2="1351.5" y2="997.0" stroke="#dcdcdc" stroke-width="0.8" stroke-dasharray="1.2 1"/>
<line x1="1094.6" y1="1010.9" x2="1351.5" y2="1010.9" stroke="#dcdcdc" stroke-width="0.8" stroke-dasharray="1.2 1"/>
<line x1="1094.6" y1="1025.2" x2="1351.5" y2="1025.2" stroke="#dcdcdc" stroke-width="0.8" stroke-dasharray="1.2 1"/>
<line x1="1094.6" y1="1039.6" x2="1351.5" y2="1039.6" stroke="#dcdcdc" stroke-width="0.8" stroke-dasharray="1.2 1"/>
<line x1="1126.2" y1="944.2" x2="1126.2" y2="1058.4" stroke="#e3e3e3" stroke-width="0.8" stroke-dasharray="1.2 1"/>
<line x1="1158.0" y1="944.2" x2="1158.0" y2="1058.4" stroke="#e3e3e3" stroke-width="0.8" stroke-dasharray="1.2 1"/>
<line x1="1190.0" y1="944.2" x2="1190.0" y2="1058.4" stroke="#e3e3e3" stroke-width="0.8" stroke-dasharray="1.2 1"/>
<line x1="1221.4" y1="944.2" x2="1221.4" y2="1058.4" stroke="#e3e3e3" stroke-width="0.8" stroke-dasharray="1.2 1"/>
<line x1="1253.6" y1="944.2" x2="1253.6" y2="1058.4" stroke="#e3e3e3" stroke-width="0.8" stroke-dasharray="1.2 1"/>
<line x1="1285.2" y1="944.2" x2="1285.2" y2="1058.4" stroke="#e3e3e3" stroke-width="0.8" stroke-dasharray="1.2 1"/>
<line x1="1317.1" y1="944.2" x2="1317.1" y2="1058.4" stroke="#e3e3e3" stroke-width="0.8" stroke-dasharray="1.2 1"/>
<line x1="1349.0" y1="944.2" x2="1349.0" y2="1058.4" stroke="#e3e3e3" stroke-width="0.8" stroke-dasharray="1.2 1"/>
<line x1="1094.6" y1="1053.3" x2="1351.5" y2="1053.3" stroke="#979797" stroke-width="1.4"/>
<line x1="1094.6" y1="1058.4" x2="1351.5" y2="1058.4" stroke="#b4b4b4" stroke-width="0.9"/>
<line x1="1090.6" y1="954.6" x2="1094.6" y2="954.6" stroke="#333" stroke-width="0.9"/>
<line x1="1090.6" y1="997.0" x2="1094.6" y2="997.0" stroke="#333" stroke-width="0.9"/>
<line x1="1090.6" y1="1039.6" x2="1094.6" y2="1039.6" stroke="#333" stroke-width="0.9"/>
<line x1="1090.6" y1="1048.5" x2="1094.6" y2="1048.5" stroke="#333" stroke-width="0.9"/>
<line x1="1092.3999999999999" y1="969.4" x2="1094.6" y2="969.4" stroke="#888" stroke-width="0.7"/>
<line x1="1092.3999999999999" y1="982.8" x2="1094.6" y2="982.8" stroke="#888" stroke-width="0.7"/>
<line x1="1092.3999999999999" y1="1010.9" x2="1094.6" y2="1010.9" stroke="#888" stroke-width="0.7"/>
<line x1="1092.3999999999999" y1="1025.2" x2="1094.6" y2="1025.2" stroke="#888" stroke-width="0.7"/>
<rect x="1094.93" y="1060.3" width="0.90" height="37.1" fill="#000" opacity="0.75"/>
<rect x="1096.12" y="1060.3" width="0.90" height="37.1" fill="#000" opacity="0.75"/>
<rect x="1097.16" y="1060.3" width="0.90" height="37.1" fill="#000" opacity="0.75"/>
<rect x="1098.19" y="1060.3" width="0.90" height="37.1" fill="#000" opacity="0.75"/>
<rect x="1099.38" y="1060.3" width="0.90" height="37.1" fill="#000" opacity="0.75"/>
<rect x="1100.57" y="1060.3" width="0.90" height="37.1" fill="#000" opacity="0.75"/>
<rect x="1101.60" y="1060.3" width="0.90" height="37.1" fill="#000" opacity="0.75"/>
<rect x="1102.35" y="1060.3" width="0.90" height="37.1" fill="#000" opacity="0.75"/>
<rect x="1099.82" y="1060.3" width="1.20" height="37.1" fill="#000" opacity="0.9"/>
<rect x="1101.80" y="1060.3" width="1.40" height="37.1" fill="#000" opacity="0.9"/>
<rect x="1107.54" y="1060.3" width="0.90" height="37.1" fill="#000" opacity="0.75"/>
<rect x="1111.99" y="1060.3" width="0.90" height="37.1" fill="#000" opacity="0.75"/>
<rect x="1121.33" y="1060.3" width="0.90" height="37.1" fill="#000" opacity="0.75"/>
<rect x="1126.82" y="1060.3" width="0.90" height="37.1" fill="#000" opacity="0.75"/>
<rect x="1132.01" y="1060.3" width="0.90" height="37.1" fill="#000" opacity="0.75"/>
<rect x="1146.10" y="1060.3" width="0.90" height="37.1" fill="#000" opacity="0.75"/>
<rect x="1149.36" y="1060.3" width="0.90" height="37.1" fill="#000" opacity="0.75"/>
<rect x="1152.47" y="1060.3" width="0.90" height="37.1" fill="#000" opacity="0.75"/>
<rect x="1164.19" y="1060.3" width="0.90" height="37.1" fill="#000" opacity="0.75"/>
<rect x="1167.30" y="1060.3" width="0.90" height="37.1" fill="#000" opacity="0.75"/>
<rect x="1175.31" y="1060.3" width="0.90" height="37.1" fill="#000" opacity="0.75"/>
<rect x="1177.68" y="1060.3" width="0.90" height="37.1" fill="#000" opacity="0.75"/>
<rect x="1181.24" y="1060.3" width="0.90" height="37.1" fill="#000" opacity="0.75"/>
<rect x="1183.62" y="1060.3" width="0.90" height="37.1" fill="#000" opacity="0.75"/>
<rect x="1191.33" y="1060.3" width="0.90" height="37.1" fill="#000" opacity="0.75"/>
<rect x="1193.26" y="1060.3" width="0.90" height="37.1" fill="#000" opacity="0.75"/>
<rect x="1211.64" y="1060.3" width="0.90" height="37.1" fill="#000" opacity="0.75"/>
<rect x="1217.58" y="1060.3" width="0.90" height="37.1" fill="#000" opacity="0.75"/>
<rect x="1227.22" y="1060.3" width="0.90" height="37.1" fill="#000" opacity="0.75"/>
<rect x="1231.81" y="1060.3" width="0.90" height="37.1" fill="#000" opacity="0.75"/>
<rect x="1242.94" y="1060.3" width="0.90" height="37.1" fill="#000" opacity="0.75"/>
<rect x="1250.35" y="1060.3" width="0.90" height="37.1" fill="#000" opacity="0.75"/>
<rect x="1252.13" y="1060.3" width="0.90" height="37.1" fill="#000" opacity="0.75"/>
<rect x="1254.06" y="1060.3" width="0.90" height="37.1" fill="#000" opacity="0.75"/>
<rect x="1260.29" y="1060.3" width="0.90" height="37.1" fill="#000" opacity="0.75"/>
<rect x="1269.19" y="1060.3" width="0.90" height="37.1" fill="#000" opacity="0.75"/>
<rect x="1271.11" y="1060.3" width="0.90" height="37.1" fill="#000" opacity="0.75"/>
<rect x="1295.88" y="1060.3" width="0.90" height="37.1" fill="#000" opacity="0.75"/>
<rect x="1305.07" y="1060.3" width="0.90" height="37.1" fill="#000" opacity="0.75"/>
<rect x="1309.97" y="1060.3" width="0.90" height="37.1" fill="#000" opacity="0.75"/>
<rect x="1315.46" y="1060.3" width="0.90" height="37.1" fill="#000" opacity="0.75"/>
<rect x="1329.25" y="1060.3" width="0.90" height="37.1" fill="#000" opacity="0.75"/>
<rect x="1094.64" y="1097.40" width="6.23" height="9.80" fill="#d40000"/>
<rect x="1100.57" y="1097.40" width="14.39" height="9.80" fill="#e93535"/>
<rect x="1114.66" y="1097.40" width="27.74" height="9.80" fill="#ff5252"/>
<rect x="1142.10" y="1097.40" width="20.32" height="9.80" fill="#ff6b7e"/>
<rect x="1162.12" y="1097.40" width="25.51" height="9.80" fill="#ff8585"/>
<rect x="1187.33" y="1097.40" width="34.41" height="9.80" fill="#ffb4e2"/>
<rect x="1221.44" y="1097.40" width="31.44" height="9.80" fill="#c3baff"/>
<rect x="1252.58" y="1097.40" width="38.12" height="9.80" fill="#8686fa"/>
<rect x="1290.40" y="1097.40" width="32.18" height="9.80" fill="#6452e6"/>
<rect x="1322.28" y="1097.40" width="12.16" height="9.80" fill="#2400cc"/>
<rect x="1334.15" y="1097.40" width="6.23" height="9.80" fill="#4c00a2"/>
<rect x="1094.93" y="1097.4" width="0.90" height="9.8" fill="#000" opacity="0.12"/>
<rect x="1096.12" y="1097.4" width="0.90" height="9.8" fill="#000" opacity="0.12"/>
<rect x="1097.16" y="1097.4" width="0.90" height="9.8" fill="#000" opacity="0.12"/>
<rect x="1098.19" y="1097.4" width="0.90" height="9.8" fill="#000" opacity="0.12"/>
<rect x="1099.38" y="1097.4" width="0.90" height="9.8" fill="#000" opacity="0.12"/>
<rect x="1100.57" y="1097.4" width="0.90" height="9.8" fill="#000" opacity="0.12"/>
<rect x="1101.60" y="1097.4" width="0.90" height="9.8" fill="#000" opacity="0.12"/>
<rect x="1102.35" y="1097.4" width="0.90" height="9.8" fill="#000" opacity="0.12"/>
<rect x="1099.82" y="1097.4" width="1.20" height="9.8" fill="#000" opacity="0.14"/>
<rect x="1101.80" y="1097.4" width="1.40" height="9.8" fill="#000" opacity="0.14"/>
<rect x="1107.54" y="1097.4" width="0.90" height="9.8" fill="#000" opacity="0.12"/>
<rect x="1111.99" y="1097.4" width="0.90" height="9.8" fill="#000" opacity="0.12"/>
<rect x="1121.33" y="1097.4" width="0.90" height="9.8" fill="#000" opacity="0.12"/>
<rect x="1126.82" y="1097.4" width="0.90" height="9.8" fill="#000" opacity="0.12"/>
<rect x="1132.01" y="1097.4" width="0.90" height="9.8" fill="#000" opacity="0.12"/>
<rect x="1146.10" y="1097.4" width="0.90" height="9.8" fill="#000" opacity="0.12"/>
<rect x="1149.36" y="1097.4" width="0.90" height="9.8" fill="#000" opacity="0.12"/>
<rect x="1152.47" y="1097.4" width="0.90" height="9.8" fill="#000" opacity="0.12"/>
<rect x="1164.19" y="1097.4" width="0.90" height="9.8" fill="#000" opacity="0.12"/>
<rect x="1167.30" y="1097.4" width="0.90" height="9.8" fill="#000" opacity="0.12"/>
<rect x="1175.31" y="1097.4" width="0.90" height="9.8" fill="#000" opacity="0.12"/>
<rect x="1177.68" y="1097.4" width="0.90" height="9.8" fill="#000" opacity="0.12"/>
<rect x="1181.24" y="1097.4" width="0.90" height="9.8" fill="#000" opacity="0.12"/>
<rect x="1183.62" y="1097.4" width="0.90" height="9.8" fill="#000" opacity="0.12"/>
<rect x="1191.33" y="1097.4" width="0.90" height="9.8" fill="#000" opacity="0.12"/>
<rect x="1193.26" y="1097.4" width="0.90" height="9.8" fill="#000" opacity="0.12"/>
<rect x="1211.64" y="1097.4" width="0.90" height="9.8" fill="#000" opacity="0.12"/>
<rect x="1217.58" y="1097.4" width="0.90" height="9.8" fill="#000" opacity="0.12"/>
<rect x="1227.22" y="1097.4" width="0.90" height="9.8" fill="#000" opacity="0.12"/>
<rect x="1231.81" y="1097.4" width="0.90" height="9.8" fill="#000" opacity="0.12"/>
<rect x="1242.94" y="1097.4" width="0.90" height="9.8" fill="#000" opacity="0.12"/>
<rect x="1250.35" y="1097.4" width="0.90" height="9.8" fill="#000" opacity="0.12"/>
<rect x="1252.13" y="1097.4" width="0.90" height="9.8" fill="#000" opacity="0.12"/>
<rect x="1254.06" y="1097.4" width="0.90" height="9.8" fill="#000" opacity="0.12"/>
<rect x="1260.29" y="1097.4" width="0.90" height="9.8" fill="#000" opacity="0.12"/>
<rect x="1269.19" y="1097.4" width="0.90" height="9.8" fill="#000" opacity="0.12"/>
<rect x="1271.11" y="1097.4" width="0.90" height="9.8" fill="#000" opacity="0.12"/>
<rect x="1295.88" y="1097.4" width="0.90" height="9.8" fill="#000" opacity="0.12"/>
<rect x="1305.07" y="1097.4" width="0.90" height="9.8" fill="#000" opacity="0.12"/>
<rect x="1309.97" y="1097.4" width="0.90" height="9.8" fill="#000" opacity="0.12"/>
<rect x="1315.46" y="1097.4" width="0.90" height="9.8" fill="#000" opacity="0.12"/>
<rect x="1329.25" y="1097.4" width="0.90" height="9.8" fill="#000" opacity="0.12"/>
<line x1="1094.6" y1="1097.4" x2="1351.5" y2="1097.4" stroke="#c9c9c9" stroke-width="0.7"/>
<polyline points="1094.9,1053.3 1095.7,1041.8 1096.9,1041.0 1096.9,1031.4 1098.1,1030.7 1098.6,1021.0 1099.4,1020.3 1099.8,1011.4 1100.7,1010.6 1101.0,1001.7 1101.8,1001.0 1102.2,992.1 1102.8,981.7 1103.2,971.3 1107.2,976.5 1108.0,968.4 1108.7,966.9 1109.2,961.4 1111.0,963.2 1112.9,956.5 1121.3,966.1 1123.3,961.0 1126.5,965.4 1128.0,954.3 1130.2,958.0 1132.2,953.5 1133.5,948.1 1145.8,962.9 1147.3,958.7 1149.1,961.7 1150.3,958.4 1151.7,960.5 1153.2,956.9 1164.0,969.9 1165.8,963.2 1166.6,964.7 1168.0,958.7 1175.5,967.6 1176.7,964.7 1177.7,966.4 1178.9,964.7 1181.4,967.6 1182.6,965.4 1183.6,966.9 1185.1,964.7 1191.0,972.8 1194.0,970.1 1211.1,990.6 1212.8,989.9 1217.0,995.5 1219.2,995.1 1227.1,1005.0 1228.6,1001.7 1231.5,1006.2 1233.0,1002.9 1242.2,1015.1 1244.0,1011.4 1250.8,1019.2 1252.3,1015.8 1253.3,1017.3 1254.8,1009.2 1260.0,1015.8 1261.2,1011.8 1268.9,1021.0 1270.4,1016.3 1271.1,1017.3 1272.6,1013.6 1295.6,1041.5 1296.8,1036.1 1304.8,1045.0 1306.0,1038.8 1310.1,1044.4 1311.2,1037.3 1315.6,1042.5 1316.6,1035.8 1329.0,1051.4 1330.0,1041.8 1340.1,1053.3" fill="none" stroke="#00ff00" stroke-width="1.9" stroke-linejoin="round"/>
<text x="1082.8" y="958.4" font-size="20.8" text-anchor="end">0.30</text>
<text x="1082.8" y="1000.4" font-size="20.8" text-anchor="end">0.20</text>
<text x="1082.8" y="1042.4" font-size="20.8" text-anchor="end">0.05</text>
<text x="1082.8" y="1061.4" font-size="20.8" text-anchor="end">0</text>
<text x="1257" y="958.7" font-size="16.6">Nes = 1.95</text>
<text x="1257" y="978.7" font-size="16.6"><tspan font-style="italic">p</tspan> = 0.002</text>
<text x="1257" y="998.9000000000001" font-size="16.6"><tspan font-style="italic">q</tspan> = 0.056</text>
<text x="1083.8" y="1138.6" font-size="25">Control</text>
<text x="1263.5" y="1138.6" font-size="25"><tspan font-style="italic">Ctcf</tspan><tspan dx="-2.5"> cKO</tspan></text>
<text x="1533" y="925.6" font-size="25" text-anchor="middle">Lipid biosynthetic process</text>
<rect x="1410.10" y="943.90" width="256.90" height="163.60" fill="#fff" stroke="#d6d6d6" stroke-width="0.8"/>
<rect x="1408.70" y="943.90" width="1.60" height="110.50" fill="#e6e2cf"/>
<line x1="1410.1" y1="956.2" x2="1667" y2="956.2" stroke="#dcdcdc" stroke-width="0.8" stroke-dasharray="1.2 1"/>
<line x1="1410.1" y1="970.3" x2="1667" y2="970.3" stroke="#dcdcdc" stroke-width="0.8" stroke-dasharray="1.2 1"/>
<line x1="1410.1" y1="984.4" x2="1667" y2="984.4" stroke="#dcdcdc" stroke-width="0.8" stroke-dasharray="1.2 1"/>
<line x1="1410.1" y1="998.5" x2="1667" y2="998.5" stroke="#dcdcdc" stroke-width="0.8" stroke-dasharray="1.2 1"/>
<line x1="1410.1" y1="1012.4" x2="1667" y2="1012.4" stroke="#dcdcdc" stroke-width="0.8" stroke-dasharray="1.2 1"/>
<line x1="1410.1" y1="1026.5" x2="1667" y2="1026.5" stroke="#dcdcdc" stroke-width="0.8" stroke-dasharray="1.2 1"/>
<line x1="1410.1" y1="1040.3" x2="1667" y2="1040.3" stroke="#dcdcdc" stroke-width="0.8" stroke-dasharray="1.2 1"/>
<line x1="1441.2" y1="943.9" x2="1441.2" y2="1059.3" stroke="#e3e3e3" stroke-width="0.8" stroke-dasharray="1.2 1"/>
<line x1="1473.0" y1="943.9" x2="1473.0" y2="1059.3" stroke="#e3e3e3" stroke-width="0.8" stroke-dasharray="1.2 1"/>
<line x1="1505.0" y1="943.9" x2="1505.0" y2="1059.3" stroke="#e3e3e3" stroke-width="0.8" stroke-dasharray="1.2 1"/>
<line x1="1536.4" y1="943.9" x2="1536.4" y2="1059.3" stroke="#e3e3e3" stroke-width="0.8" stroke-dasharray="1.2 1"/>
<line x1="1568.6" y1="943.9" x2="1568.6" y2="1059.3" stroke="#e3e3e3" stroke-width="0.8" stroke-dasharray="1.2 1"/>
<line x1="1600.2" y1="943.9" x2="1600.2" y2="1059.3" stroke="#e3e3e3" stroke-width="0.8" stroke-dasharray="1.2 1"/>
<line x1="1632.1" y1="943.9" x2="1632.1" y2="1059.3" stroke="#e3e3e3" stroke-width="0.8" stroke-dasharray="1.2 1"/>
<line x1="1664.0" y1="943.9" x2="1664.0" y2="1059.3" stroke="#e3e3e3" stroke-width="0.8" stroke-dasharray="1.2 1"/>
<line x1="1410.1" y1="1054.4" x2="1667" y2="1054.4" stroke="#979797" stroke-width="1.4"/>
<line x1="1410.1" y1="1059.3" x2="1667" y2="1059.3" stroke="#b4b4b4" stroke-width="0.9"/>
<line x1="1406.1" y1="956.2" x2="1410.1" y2="956.2" stroke="#333" stroke-width="0.9"/>
<line x1="1406.1" y1="998.5" x2="1410.1" y2="998.5" stroke="#333" stroke-width="0.9"/>
<line x1="1406.1" y1="1040.3" x2="1410.1" y2="1040.3" stroke="#333" stroke-width="0.9"/>
<line x1="1406.1" y1="1054.4" x2="1410.1" y2="1054.4" stroke="#333" stroke-width="0.9"/>
<line x1="1407.8999999999999" y1="970.3" x2="1410.1" y2="970.3" stroke="#888" stroke-width="0.7"/>
<line x1="1407.8999999999999" y1="984.4" x2="1410.1" y2="984.4" stroke="#888" stroke-width="0.7"/>
<line x1="1407.8999999999999" y1="1012.4" x2="1410.1" y2="1012.4" stroke="#888" stroke-width="0.7"/>
<line x1="1407.8999999999999" y1="1026.5" x2="1410.1" y2="1026.5" stroke="#888" stroke-width="0.7"/>
<rect x="1410.06" y="1061.0" width="0.85" height="36.8" fill="#000" opacity="0.6"/>
<rect x="1411.15" y="1061.0" width="0.85" height="36.8" fill="#000" opacity="0.6"/>
<rect x="1412.14" y="1061.0" width="0.85" height="36.8" fill="#000" opacity="0.6"/>
<rect x="1412.94" y="1061.0" width="0.85" height="36.8" fill="#000" opacity="0.6"/>
<rect x="1414.02" y="1061.0" width="0.85" height="36.8" fill="#000" opacity="0.6"/>
<rect x="1414.78" y="1061.0" width="0.85" height="36.8" fill="#000" opacity="0.6"/>
<rect x="1415.84" y="1061.0" width="0.85" height="36.8" fill="#000" opacity="0.6"/>
<rect x="1416.99" y="1061.0" width="0.85" height="36.8" fill="#000" opacity="0.6"/>
<rect x="1417.83" y="1061.0" width="0.85" height="36.8" fill="#000" opacity="0.6"/>
<rect x="1419.14" y="1061.0" width="0.85" height="36.8" fill="#000" opacity="0.6"/>
<rect x="1419.80" y="1061.0" width="0.85" height="36.8" fill="#000" opacity="0.6"/>
<rect x="1420.80" y="1061.0" width="0.85" height="36.8" fill="#000" opacity="0.6"/>
<rect x="1421.79" y="1061.0" width="0.85" height="36.8" fill="#000" opacity="0.6"/>
<rect x="1423.12" y="1061.0" width="0.85" height="36.8" fill="#000" opacity="0.6"/>
<rect x="1423.83" y="1061.0" width="0.85" height="36.8" fill="#000" opacity="0.6"/>
<rect x="1425.86" y="1061.0" width="0.85" height="36.8" fill="#000" opacity="0.6"/>
<rect x="1410.33" y="1061.0" width="0.85" height="36.8" fill="#000" opacity="0.5"/>
<rect x="1411.45" y="1061.0" width="0.85" height="36.8" fill="#000" opacity="0.5"/>
<rect x="1415.19" y="1061.0" width="0.85" height="36.8" fill="#000" opacity="0.5"/>
<rect x="1416.10" y="1061.0" width="0.85" height="36.8" fill="#000" opacity="0.5"/>
<rect x="1417.16" y="1061.0" width="0.85" height="36.8" fill="#000" opacity="0.5"/>
<rect x="1419.33" y="1061.0" width="0.85" height="36.8" fill="#000" opacity="0.5"/>
<rect x="1420.17" y="1061.0" width="0.85" height="36.8" fill="#000" opacity="0.5"/>
<rect x="1422.17" y="1061.0" width="0.85" height="36.8" fill="#000" opacity="0.5"/>
<rect x="1423.34" y="1061.0" width="0.85" height="36.8" fill="#000" opacity="0.5"/>
<rect x="1424.46" y="1061.0" width="0.85" height="36.8" fill="#000" opacity="0.5"/>
<rect x="1425.36" y="1061.0" width="0.85" height="36.8" fill="#000" opacity="0.5"/>
<rect x="1427.38" y="1061.0" width="0.85" height="36.8" fill="#000" opacity="0.5"/>
<rect x="1433.72" y="1061.0" width="0.85" height="36.8" fill="#000" opacity="0.55"/>
<rect x="1434.48" y="1061.0" width="0.85" height="36.8" fill="#000" opacity="0.55"/>
<rect x="1435.89" y="1061.0" width="0.85" height="36.8" fill="#000" opacity="0.55"/>
<rect x="1436.80" y="1061.0" width="0.85" height="36.8" fill="#000" opacity="0.55"/>
<rect x="1439.62" y="1061.0" width="0.85" height="36.8" fill="#000" opacity="0.55"/>
<rect x="1440.81" y="1061.0" width="0.85" height="36.8" fill="#000" opacity="0.55"/>
<rect x="1441.79" y="1061.0" width="0.85" height="36.8" fill="#000" opacity="0.55"/>
<rect x="1442.84" y="1061.0" width="0.85" height="36.8" fill="#000" opacity="0.55"/>
<rect x="1443.88" y="1061.0" width="0.85" height="36.8" fill="#000" opacity="0.55"/>
<rect x="1444.61" y="1061.0" width="0.85" height="36.8" fill="#000" opacity="0.55"/>
<rect x="1445.87" y="1061.0" width="0.85" height="36.8" fill="#000" opacity="0.55"/>
<rect x="1446.87" y="1061.0" width="0.85" height="36.8" fill="#000" opacity="0.55"/>
<rect x="1447.60" y="1061.0" width="0.85" height="36.8" fill="#000" opacity="0.55"/>
<rect x="1450.60" y="1061.0" width="0.85" height="36.8" fill="#000" opacity="0.6"/>
<rect x="1451.58" y="1061.0" width="0.85" height="36.8" fill="#000" opacity="0.6"/>
<rect x="1452.96" y="1061.0" width="0.85" height="36.8" fill="#000" opacity="0.6"/>
<rect x="1453.54" y="1061.0" width="0.85" height="36.8" fill="#000" opacity="0.6"/>
<rect x="1455.70" y="1061.0" width="0.85" height="36.8" fill="#000" opacity="0.6"/>
<rect x="1458.20" y="1061.0" width="0.85" height="36.8" fill="#000" opacity="0.5"/>
<rect x="1460.12" y="1061.0" width="0.85" height="36.8" fill="#000" opacity="0.5"/>
<rect x="1463.53" y="1061.0" width="0.85" height="36.8" fill="#000" opacity="0.6"/>
<rect x="1464.34" y="1061.0" width="0.85" height="36.8" fill="#000" opacity="0.6"/>
<rect x="1465.18" y="1061.0" width="0.85" height="36.8" fill="#000" opacity="0.6"/>
<rect x="1466.54" y="1061.0" width="0.85" height="36.8" fill="#000" opacity="0.6"/>
<rect x="1467.47" y="1061.0" width="0.85" height="36.8" fill="#000" opacity="0.6"/>
<rect x="1468.32" y="1061.0" width="0.85" height="36.8" fill="#000" opacity="0.6"/>
<rect x="1469.50" y="1061.0" width="0.85" height="36.8" fill="#000" opacity="0.6"/>
<rect x="1470.32" y="1061.0" width="0.85" height="36.8" fill="#000" opacity="0.6"/>
<rect x="1472.56" y="1061.0" width="0.85" height="36.8" fill="#000" opacity="0.6"/>
<rect x="1473.34" y="1061.0" width="0.85" height="36.8" fill="#000" opacity="0.6"/>
<rect x="1474.34" y="1061.0" width="0.85" height="36.8" fill="#000" opacity="0.6"/>
<rect x="1475.30" y="1061.0" width="0.85" height="36.8" fill="#000" opacity="0.6"/>
<rect x="1476.29" y="1061.0" width="0.85" height="36.8" fill="#000" opacity="0.6"/>
<rect x="1467.01" y="1061.0" width="0.85" height="36.8" fill="#000" opacity="0.5"/>
<rect x="1467.99" y="1061.0" width="0.85" height="36.8" fill="#000" opacity="0.5"/>
<rect x="1471.21" y="1061.0" width="0.85" height="36.8" fill="#000" opacity="0.5"/>
<rect x="1481.97" y="1061.0" width="0.85" height="36.8" fill="#000" opacity="0.6"/>
<rect x="1482.88" y="1061.0" width="0.85" height="36.8" fill="#000" opacity="0.6"/>
<rect x="1484.79" y="1061.0" width="0.85" height="36.8" fill="#000" opacity="0.6"/>
<rect x="1489.59" y="1061.0" width="0.85" height="36.8" fill="#000" opacity="0.45"/>
<rect x="1490.58" y="1061.0" width="0.85" height="36.8" fill="#000" opacity="0.45"/>
<rect x="1491.63" y="1061.0" width="0.85" height="36.8" fill="#000" opacity="0.45"/>
<rect x="1492.70" y="1061.0" width="0.85" height="36.8" fill="#000" opacity="0.45"/>
<rect x="1493.69" y="1061.0" width="0.85" height="36.8" fill="#000" opacity="0.45"/>
<rect x="1508.64" y="1061.0" width="0.85" height="36.8" fill="#000" opacity="0.45"/>
<rect x="1509.72" y="1061.0" width="0.85" height="36.8" fill="#000" opacity="0.45"/>
<rect x="1510.73" y="1061.0" width="0.85" height="36.8" fill="#000" opacity="0.45"/>
<rect x="1512.79" y="1061.0" width="0.85" height="36.8" fill="#000" opacity="0.45"/>
<rect x="1514.59" y="1061.0" width="0.85" height="36.8" fill="#000" opacity="0.45"/>
<rect x="1515.73" y="1061.0" width="0.85" height="36.8" fill="#000" opacity="0.45"/>
<rect x="1517.66" y="1061.0" width="0.85" height="36.8" fill="#000" opacity="0.45"/>
<rect x="1522.57" y="1061.0" width="0.85" height="36.8" fill="#000" opacity="0.4"/>
<rect x="1524.96" y="1061.0" width="0.85" height="36.8" fill="#000" opacity="0.7"/>
<rect x="1525.95" y="1061.0" width="0.85" height="36.8" fill="#000" opacity="0.7"/>
<rect x="1526.95" y="1061.0" width="0.85" height="36.8" fill="#000" opacity="0.7"/>
<rect x="1527.68" y="1061.0" width="0.85" height="36.8" fill="#000" opacity="0.7"/>
<rect x="1528.86" y="1061.0" width="0.85" height="36.8" fill="#000" opacity="0.7"/>
<rect x="1525.21" y="1061.0" width="0.85" height="36.8" fill="#000" opacity="0.6"/>
<rect x="1526.39" y="1061.0" width="0.85" height="36.8" fill="#000" opacity="0.6"/>
<rect x="1527.32" y="1061.0" width="0.85" height="36.8" fill="#000" opacity="0.6"/>
<rect x="1528.14" y="1061.0" width="0.85" height="36.8" fill="#000" opacity="0.6"/>
<rect x="1531.48" y="1061.0" width="0.85" height="36.8" fill="#000" opacity="0.5"/>
<rect x="1532.43" y="1061.0" width="0.85" height="36.8" fill="#000" opacity="0.5"/>
<rect x="1547.12" y="1061.0" width="0.85" height="36.8" fill="#000" opacity="0.45"/>
<rect x="1548.19" y="1061.0" width="0.85" height="36.8" fill="#000" opacity="0.45"/>
<rect x="1549.02" y="1061.0" width="0.85" height="36.8" fill="#000" opacity="0.45"/>
<rect x="1566.37" y="1061.0" width="0.85" height="36.8" fill="#000" opacity="0.45"/>
<rect x="1567.37" y="1061.0" width="0.85" height="36.8" fill="#000" opacity="0.45"/>
<rect x="1568.56" y="1061.0" width="0.85" height="36.8" fill="#000" opacity="0.45"/>
<rect x="1569.21" y="1061.0" width="0.85" height="36.8" fill="#000" opacity="0.45"/>
<rect x="1570.23" y="1061.0" width="0.85" height="36.8" fill="#000" opacity="0.45"/>
<rect x="1498.17" y="1061.0" width="0.90" height="36.8" fill="#000" opacity="0.6"/>
<rect x="1502.57" y="1061.0" width="1.60" height="36.8" fill="#000" opacity="0.95"/>
<rect x="1537.47" y="1061.0" width="0.90" height="36.8" fill="#000" opacity="0.4"/>
<rect x="1559.42" y="1061.0" width="0.90" height="36.8" fill="#000" opacity="0.5"/>
<rect x="1562.68" y="1061.0" width="0.90" height="36.8" fill="#000" opacity="0.5"/>
<rect x="1578.10" y="1061.0" width="1.20" height="36.8" fill="#000" opacity="0.6"/>
<rect x="1584.19" y="1061.0" width="0.90" height="36.8" fill="#000" opacity="0.5"/>
<rect x="1589.38" y="1061.0" width="0.90" height="36.8" fill="#000" opacity="0.45"/>
<rect x="1591.60" y="1061.0" width="0.90" height="36.8" fill="#000" opacity="0.45"/>
<rect x="1597.53" y="1061.0" width="0.90" height="36.8" fill="#000" opacity="0.5"/>
<rect x="1600.94" y="1061.0" width="0.90" height="36.8" fill="#000" opacity="0.5"/>
<rect x="1610.53" y="1061.0" width="1.60" height="36.8" fill="#000" opacity="0.95"/>
<rect x="1614.59" y="1061.0" width="0.90" height="36.8" fill="#000" opacity="0.7"/>
<rect x="1619.04" y="1061.0" width="0.90" height="36.8" fill="#000" opacity="0.5"/>
<rect x="1623.49" y="1061.0" width="0.90" height="36.8" fill="#000" opacity="0.4"/>
<rect x="1632.23" y="1061.0" width="1.20" height="36.8" fill="#000" opacity="0.7"/>
<rect x="1649.39" y="1061.0" width="1.00" height="36.8" fill="#000" opacity="0.6"/>
<rect x="1414.97" y="1061.0" width="1.20" height="36.8" fill="#000" opacity="0.9"/>
<rect x="1438.80" y="1061.0" width="1.00" height="36.8" fill="#000" opacity="0.9"/>
<rect x="1484.77" y="1061.0" width="1.00" height="36.8" fill="#000" opacity="0.9"/>
<rect x="1410.08" y="1097.80" width="5.79" height="9.70" fill="#d40000"/>
<rect x="1415.57" y="1097.80" width="14.39" height="9.70" fill="#e93535"/>
<rect x="1429.66" y="1097.80" width="27.74" height="9.70" fill="#ff5252"/>
<rect x="1457.10" y="1097.80" width="20.32" height="9.70" fill="#ff6b7e"/>
<rect x="1477.12" y="1097.80" width="25.51" height="9.70" fill="#ff8585"/>
<rect x="1502.33" y="1097.80" width="34.41" height="9.70" fill="#ffb4e2"/>
<rect x="1536.44" y="1097.80" width="30.70" height="9.70" fill="#c3baff"/>
<rect x="1566.84" y="1097.80" width="38.12" height="9.70" fill="#8686fa"/>
<rect x="1604.66" y="1097.80" width="31.44" height="9.70" fill="#6452e6"/>
<rect x="1635.80" y="1097.80" width="13.65" height="9.70" fill="#2400cc"/>
<rect x="1649.15" y="1097.80" width="5.49" height="9.70" fill="#4c00a2"/>
<rect x="1410.06" y="1097.8" width="0.85" height="9.7" fill="#000" opacity="0.10"/>
<rect x="1411.15" y="1097.8" width="0.85" height="9.7" fill="#000" opacity="0.10"/>
<rect x="1412.14" y="1097.8" width="0.85" height="9.7" fill="#000" opacity="0.10"/>
<rect x="1412.94" y="1097.8" width="0.85" height="9.7" fill="#000" opacity="0.10"/>
<rect x="1414.02" y="1097.8" width="0.85" height="9.7" fill="#000" opacity="0.10"/>
<rect x="1414.78" y="1097.8" width="0.85" height="9.7" fill="#000" opacity="0.10"/>
<rect x="1415.84" y="1097.8" width="0.85" height="9.7" fill="#000" opacity="0.10"/>
<rect x="1416.99" y="1097.8" width="0.85" height="9.7" fill="#000" opacity="0.10"/>
<rect x="1417.83" y="1097.8" width="0.85" height="9.7" fill="#000" opacity="0.10"/>
<rect x="1419.14" y="1097.8" width="0.85" height="9.7" fill="#000" opacity="0.10"/>
<rect x="1419.80" y="1097.8" width="0.85" height="9.7" fill="#000" opacity="0.10"/>
<rect x="1420.80" y="1097.8" width="0.85" height="9.7" fill="#000" opacity="0.10"/>
<rect x="1421.79" y="1097.8" width="0.85" height="9.7" fill="#000" opacity="0.10"/>
<rect x="1423.12" y="1097.8" width="0.85" height="9.7" fill="#000" opacity="0.10"/>
<rect x="1423.83" y="1097.8" width="0.85" height="9.7" fill="#000" opacity="0.10"/>
<rect x="1425.86" y="1097.8" width="0.85" height="9.7" fill="#000" opacity="0.10"/>
<rect x="1410.33" y="1097.8" width="0.85" height="9.7" fill="#000" opacity="0.08"/>
<rect x="1411.45" y="1097.8" width="0.85" height="9.7" fill="#000" opacity="0.08"/>
<rect x="1415.19" y="1097.8" width="0.85" height="9.7" fill="#000" opacity="0.08"/>
<rect x="1416.10" y="1097.8" width="0.85" height="9.7" fill="#000" opacity="0.08"/>
<rect x="1417.16" y="1097.8" width="0.85" height="9.7" fill="#000" opacity="0.08"/>
<rect x="1419.33" y="1097.8" width="0.85" height="9.7" fill="#000" opacity="0.08"/>
<rect x="1420.17" y="1097.8" width="0.85" height="9.7" fill="#000" opacity="0.08"/>
<rect x="1422.17" y="1097.8" width="0.85" height="9.7" fill="#000" opacity="0.08"/>
<rect x="1423.34" y="1097.8" width="0.85" height="9.7" fill="#000" opacity="0.08"/>
<rect x="1424.46" y="1097.8" width="0.85" height="9.7" fill="#000" opacity="0.08"/>
<rect x="1425.36" y="1097.8" width="0.85" height="9.7" fill="#000" opacity="0.08"/>
<rect x="1427.38" y="1097.8" width="0.85" height="9.7" fill="#000" opacity="0.08"/>
<rect x="1433.72" y="1097.8" width="0.85" height="9.7" fill="#000" opacity="0.09"/>
<rect x="1434.48" y="1097.8" width="0.85" height="9.7" fill="#000" opacity="0.09"/>
<rect x="1435.89" y="1097.8" width="0.85" height="9.7" fill="#000" opacity="0.09"/>
<rect x="1436.80" y="1097.8" width="0.85" height="9.7" fill="#000" opacity="0.09"/>
<rect x="1439.62" y="1097.8" width="0.85" height="9.7" fill="#000" opacity="0.09"/>
<rect x="1440.81" y="1097.8" width="0.85" height="9.7" fill="#000" opacity="0.09"/>
<rect x="1441.79" y="1097.8" width="0.85" height="9.7" fill="#000" opacity="0.09"/>
<rect x="1442.84" y="1097.8" width="0.85" height="9.7" fill="#000" opacity="0.09"/>
<rect x="1443.88" y="1097.8" width="0.85" height="9.7" fill="#000" opacity="0.09"/>
<rect x="1444.61" y="1097.8" width="0.85" height="9.7" fill="#000" opacity="0.09"/>
<rect x="1445.87" y="1097.8" width="0.85" height="9.7" fill="#000" opacity="0.09"/>
<rect x="1446.87" y="1097.8" width="0.85" height="9.7" fill="#000" opacity="0.09"/>
<rect x="1447.60" y="1097.8" width="0.85" height="9.7" fill="#000" opacity="0.09"/>
<rect x="1450.60" y="1097.8" width="0.85" height="9.7" fill="#000" opacity="0.10"/>
<rect x="1451.58" y="1097.8" width="0.85" height="9.7" fill="#000" opacity="0.10"/>
<rect x="1452.96" y="1097.8" width="0.85" height="9.7" fill="#000" opacity="0.10"/>
<rect x="1453.54" y="1097.8" width="0.85" height="9.7" fill="#000" opacity="0.10"/>
<rect x="1455.70" y="1097.8" width="0.85" height="9.7" fill="#000" opacity="0.10"/>
<rect x="1458.20" y="1097.8" width="0.85" height="9.7" fill="#000" opacity="0.08"/>
<rect x="1460.12" y="1097.8" width="0.85" height="9.7" fill="#000" opacity="0.08"/>
<rect x="1463.53" y="1097.8" width="0.85" height="9.7" fill="#000" opacity="0.10"/>
<rect x="1464.34" y="1097.8" width="0.85" height="9.7" fill="#000" opacity="0.10"/>
<rect x="1465.18" y="1097.8" width="0.85" height="9.7" fill="#000" opacity="0.10"/>
<rect x="1466.54" y="1097.8" width="0.85" height="9.7" fill="#000" opacity="0.10"/>
<rect x="1467.47" y="1097.8" width="0.85" height="9.7" fill="#000" opacity="0.10"/>
<rect x="1468.32" y="1097.8" width="0.85" height="9.7" fill="#000" opacity="0.10"/>
<rect x="1469.50" y="1097.8" width="0.85" height="9.7" fill="#000" opacity="0.10"/>
<rect x="1470.32" y="1097.8" width="0.85" height="9.7" fill="#000" opacity="0.10"/>
<rect x="1472.56" y="1097.8" width="0.85" height="9.7" fill="#000" opacity="0.10"/>
<rect x="1473.34" y="1097.8" width="0.85" height="9.7" fill="#000" opacity="0.10"/>
<rect x="1474.34" y="1097.8" width="0.85" height="9.7" fill="#000" opacity="0.10"/>
<rect x="1475.30" y="1097.8" width="0.85" height="9.7" fill="#000" opacity="0.10"/>
<rect x="1476.29" y="1097.8" width="0.85" height="9.7" fill="#000" opacity="0.10"/>
<rect x="1467.01" y="1097.8" width="0.85" height="9.7" fill="#000" opacity="0.08"/>
<rect x="1467.99" y="1097.8" width="0.85" height="9.7" fill="#000" opacity="0.08"/>
<rect x="1471.21" y="1097.8" width="0.85" height="9.7" fill="#000" opacity="0.08"/>
<rect x="1481.97" y="1097.8" width="0.85" height="9.7" fill="#000" opacity="0.10"/>
<rect x="1482.88" y="1097.8" width="0.85" height="9.7" fill="#000" opacity="0.10"/>
<rect x="1484.79" y="1097.8" width="0.85" height="9.7" fill="#000" opacity="0.10"/>
<rect x="1489.59" y="1097.8" width="0.85" height="9.7" fill="#000" opacity="0.07"/>
<rect x="1490.58" y="1097.8" width="0.85" height="9.7" fill="#000" opacity="0.07"/>
<rect x="1491.63" y="1097.8" width="0.85" height="9.7" fill="#000" opacity="0.07"/>
<rect x="1492.70" y="1097.8" width="0.85" height="9.7" fill="#000" opacity="0.07"/>
<rect x="1493.69" y="1097.8" width="0.85" height="9.7" fill="#000" opacity="0.07"/>
<rect x="1508.64" y="1097.8" width="0.85" height="9.7" fill="#000" opacity="0.07"/>
<rect x="1509.72" y="1097.8" width="0.85" height="9.7" fill="#000" opacity="0.07"/>
<rect x="1510.73" y="1097.8" width="0.85" height="9.7" fill="#000" opacity="0.07"/>
<rect x="1512.79" y="1097.8" width="0.85" height="9.7" fill="#000" opacity="0.07"/>
<rect x="1514.59" y="1097.8" width="0.85" height="9.7" fill="#000" opacity="0.07"/>
<rect x="1515.73" y="1097.8" width="0.85" height="9.7" fill="#000" opacity="0.07"/>
<rect x="1517.66" y="1097.8" width="0.85" height="9.7" fill="#000" opacity="0.07"/>
<rect x="1522.57" y="1097.8" width="0.85" height="9.7" fill="#000" opacity="0.06"/>
<rect x="1524.96" y="1097.8" width="0.85" height="9.7" fill="#000" opacity="0.11"/>
<rect x="1525.95" y="1097.8" width="0.85" height="9.7" fill="#000" opacity="0.11"/>
<rect x="1526.95" y="1097.8" width="0.85" height="9.7" fill="#000" opacity="0.11"/>
<rect x="1527.68" y="1097.8" width="0.85" height="9.7" fill="#000" opacity="0.11"/>
<rect x="1528.86" y="1097.8" width="0.85" height="9.7" fill="#000" opacity="0.11"/>
<rect x="1525.21" y="1097.8" width="0.85" height="9.7" fill="#000" opacity="0.10"/>
<rect x="1526.39" y="1097.8" width="0.85" height="9.7" fill="#000" opacity="0.10"/>
<rect x="1527.32" y="1097.8" width="0.85" height="9.7" fill="#000" opacity="0.10"/>
<rect x="1528.14" y="1097.8" width="0.85" height="9.7" fill="#000" opacity="0.10"/>
<rect x="1531.48" y="1097.8" width="0.85" height="9.7" fill="#000" opacity="0.08"/>
<rect x="1532.43" y="1097.8" width="0.85" height="9.7" fill="#000" opacity="0.08"/>
<rect x="1547.12" y="1097.8" width="0.85" height="9.7" fill="#000" opacity="0.07"/>
<rect x="1548.19" y="1097.8" width="0.85" height="9.7" fill="#000" opacity="0.07"/>
<rect x="1549.02" y="1097.8" width="0.85" height="9.7" fill="#000" opacity="0.07"/>
<rect x="1566.37" y="1097.8" width="0.85" height="9.7" fill="#000" opacity="0.07"/>
<rect x="1567.37" y="1097.8" width="0.85" height="9.7" fill="#000" opacity="0.07"/>
<rect x="1568.56" y="1097.8" width="0.85" height="9.7" fill="#000" opacity="0.07"/>
<rect x="1569.21" y="1097.8" width="0.85" height="9.7" fill="#000" opacity="0.07"/>
<rect x="1570.23" y="1097.8" width="0.85" height="9.7" fill="#000" opacity="0.07"/>
<rect x="1498.17" y="1097.8" width="0.90" height="9.7" fill="#000" opacity="0.10"/>
<rect x="1502.57" y="1097.8" width="1.60" height="9.7" fill="#000" opacity="0.15"/>
<rect x="1537.47" y="1097.8" width="0.90" height="9.7" fill="#000" opacity="0.06"/>
<rect x="1559.42" y="1097.8" width="0.90" height="9.7" fill="#000" opacity="0.08"/>
<rect x="1562.68" y="1097.8" width="0.90" height="9.7" fill="#000" opacity="0.08"/>
<rect x="1578.10" y="1097.8" width="1.20" height="9.7" fill="#000" opacity="0.10"/>
<rect x="1584.19" y="1097.8" width="0.90" height="9.7" fill="#000" opacity="0.08"/>
<rect x="1589.38" y="1097.8" width="0.90" height="9.7" fill="#000" opacity="0.07"/>
<rect x="1591.60" y="1097.8" width="0.90" height="9.7" fill="#000" opacity="0.07"/>
<rect x="1597.53" y="1097.8" width="0.90" height="9.7" fill="#000" opacity="0.08"/>
<rect x="1600.94" y="1097.8" width="0.90" height="9.7" fill="#000" opacity="0.08"/>
<rect x="1610.53" y="1097.8" width="1.60" height="9.7" fill="#000" opacity="0.15"/>
<rect x="1614.59" y="1097.8" width="0.90" height="9.7" fill="#000" opacity="0.11"/>
<rect x="1619.04" y="1097.8" width="0.90" height="9.7" fill="#000" opacity="0.08"/>
<rect x="1623.49" y="1097.8" width="0.90" height="9.7" fill="#000" opacity="0.06"/>
<rect x="1632.23" y="1097.8" width="1.20" height="9.7" fill="#000" opacity="0.11"/>
<rect x="1649.39" y="1097.8" width="1.00" height="9.7" fill="#000" opacity="0.10"/>
<rect x="1414.97" y="1097.8" width="1.20" height="9.7" fill="#000" opacity="0.14"/>
<rect x="1438.80" y="1097.8" width="1.00" height="9.7" fill="#000" opacity="0.14"/>
<rect x="1484.77" y="1097.8" width="1.00" height="9.7" fill="#000" opacity="0.14"/>
<line x1="1410.1" y1="1097.8" x2="1667" y2="1097.8" stroke="#c9c9c9" stroke-width="0.7"/>
<polyline points="1410.1,1050.4 1411.6,1041.8 1413.3,1035.8 1414.8,1028.4 1415.6,1019.5 1416.6,1009.2 1417.8,997.3 1419.0,988.4 1421.5,979.5 1423.7,972.1 1425.2,966.9 1427.9,963.5 1431.1,966.9 1434.1,970.6 1436.3,968.4 1437.1,963.2 1438.9,964.7 1440.3,957.2 1443.0,955.8 1444.5,953.1 1448.2,952.8 1451.2,955.0 1453.4,952.1 1456.4,949.1 1459.3,951.3 1461.5,949.8 1463.5,953.1 1466.0,949.8 1469.7,951.0 1472.7,950.6 1474.9,949.1 1477.9,949.8 1483.0,956.5 1485.7,955.8 1491.9,961.4 1494.9,962.4 1502.3,969.4 1504.6,968.8 1509.0,973.6 1512.0,972.8 1518.6,977.3 1525.3,982.2 1529.0,981.7 1534.2,985.4 1539.4,990.6 1546.8,999.1 1549.8,1000.3 1551.6,998.5 1559.4,1007.7 1563.1,1008.4 1567.6,1012.1 1571.7,1011.8 1578.0,1018.8 1579.9,1016.9 1583.9,1021.0 1585.4,1020.7 1589.1,1025.2 1591.3,1024.7 1592.8,1027.7 1593.2,1025.8 1598.7,1031.4 1601.7,1032.1 1610.6,1042.1 1612.4,1037.3 1614.7,1038.8 1615.8,1025.5 1618.7,1027.7 1619.5,1026.9 1623.9,1031.4 1625.4,1029.9 1632.5,1039.1 1634.0,1034.7 1649.1,1052.9 1650.6,1049.9 1654.3,1053.6" fill="none" stroke="#00ff00" stroke-width="1.9" stroke-linejoin="round"/>
<text x="1399.6" y="960.8" font-size="20.8" text-anchor="end">0.35</text>
<text x="1399.6" y="1001.8" font-size="20.8" text-anchor="end">0.20</text>
<text x="1399.6" y="1043.2" font-size="20.8" text-anchor="end">0.05</text>
<text x="1399.6" y="1061.8000000000002" font-size="20.8" text-anchor="end">0</text>
<text x="1566.8" y="963" font-size="16.6">Nes = 2.59</text>
<text x="1566.8" y="983" font-size="16.6"><tspan font-style="italic">p</tspan> = 0.000</text>
<text x="1566.8" y="1003.2" font-size="16.6"><tspan font-style="italic">q</tspan> = 0.000</text>
<text x="1407.3" y="1138.6" font-size="25">Control</text>
<text x="1586" y="1138.6" font-size="25"><tspan font-style="italic">Ctcf</tspan><tspan dx="-2.5"> cKO</tspan></text>
</g>
<g id="panel-g">
<text x="1690.5" y="886" font-size="43" font-weight="bold">g</text>
<text x="1877.5" y="925.6" font-size="25" text-anchor="middle">Cell cycle genes</text>
<rect x="1756.40" y="943.20" width="255.60" height="162.60" fill="#fff" stroke="#d6d6d6" stroke-width="0.8"/>
<rect x="1755.00" y="943.20" width="1.60" height="7.40" fill="#e6e2cf"/>
<line x1="1756.4" y1="962.4" x2="2012" y2="962.4" stroke="#dcdcdc" stroke-width="0.8" stroke-dasharray="1.2 1"/>
<line x1="1756.4" y1="974.7" x2="2012" y2="974.7" stroke="#dcdcdc" stroke-width="0.8" stroke-dasharray="1.2 1"/>
<line x1="1756.4" y1="987.2" x2="2012" y2="987.2" stroke="#dcdcdc" stroke-width="0.8" stroke-dasharray="1.2 1"/>
<line x1="1756.4" y1="999.5" x2="2012" y2="999.5" stroke="#dcdcdc" stroke-width="0.8" stroke-dasharray="1.2 1"/>
<line x1="1756.4" y1="1011.8" x2="2012" y2="1011.8" stroke="#dcdcdc" stroke-width="0.8" stroke-dasharray="1.2 1"/>
<line x1="1756.4" y1="1024.0" x2="2012" y2="1024.0" stroke="#dcdcdc" stroke-width="0.8" stroke-dasharray="1.2 1"/>
<line x1="1756.4" y1="1035.8" x2="2012" y2="1035.8" stroke="#dcdcdc" stroke-width="0.8" stroke-dasharray="1.2 1"/>
<line x1="1756.4" y1="1047.7" x2="2012" y2="1047.7" stroke="#dcdcdc" stroke-width="0.8" stroke-dasharray="1.2 1"/>
<line x1="1787.5" y1="943.2" x2="1787.5" y2="1058.1" stroke="#e3e3e3" stroke-width="0.8" stroke-dasharray="1.2 1"/>
<line x1="1819.0" y1="943.2" x2="1819.0" y2="1058.1" stroke="#e3e3e3" stroke-width="0.8" stroke-dasharray="1.2 1"/>
<line x1="1850.4" y1="943.2" x2="1850.4" y2="1058.1" stroke="#e3e3e3" stroke-width="0.8" stroke-dasharray="1.2 1"/>
<line x1="1882.0" y1="943.2" x2="1882.0" y2="1058.1" stroke="#e3e3e3" stroke-width="0.8" stroke-dasharray="1.2 1"/>
<line x1="1913.4" y1="943.2" x2="1913.4" y2="1058.1" stroke="#e3e3e3" stroke-width="0.8" stroke-dasharray="1.2 1"/>
<line x1="1944.3" y1="943.2" x2="1944.3" y2="1058.1" stroke="#e3e3e3" stroke-width="0.8" stroke-dasharray="1.2 1"/>
<line x1="1975.4" y1="943.2" x2="1975.4" y2="1058.1" stroke="#e3e3e3" stroke-width="0.8" stroke-dasharray="1.2 1"/>
<line x1="2007.0" y1="943.2" x2="2007.0" y2="1058.1" stroke="#e3e3e3" stroke-width="0.8" stroke-dasharray="1.2 1"/>
<line x1="1756.4" y1="950.6" x2="2012" y2="950.6" stroke="#979797" stroke-width="1.4"/>
<line x1="1756.4" y1="1058.1" x2="2012" y2="1058.1" stroke="#b4b4b4" stroke-width="0.9"/>
<line x1="1752.4" y1="950.6" x2="1756.4" y2="950.6" stroke="#333" stroke-width="0.9"/>
<line x1="1752.4" y1="987.2" x2="1756.4" y2="987.2" stroke="#333" stroke-width="0.9"/>
<line x1="1752.4" y1="1024.0" x2="1756.4" y2="1024.0" stroke="#333" stroke-width="0.9"/>
<line x1="1752.4" y1="1047.7" x2="1756.4" y2="1047.7" stroke="#333" stroke-width="0.9"/>
<line x1="1754.2" y1="962.4" x2="1756.4" y2="962.4" stroke="#888" stroke-width="0.7"/>
<line x1="1754.2" y1="974.7" x2="1756.4" y2="974.7" stroke="#888" stroke-width="0.7"/>
<line x1="1754.2" y1="999.5" x2="1756.4" y2="999.5" stroke="#888" stroke-width="0.7"/>
<line x1="1754.2" y1="1011.8" x2="1756.4" y2="1011.8" stroke="#888" stroke-width="0.7"/>
<line x1="1754.2" y1="1035.8" x2="1756.4" y2="1035.8" stroke="#888" stroke-width="0.7"/>
<rect x="1776.98" y="1060.0" width="0.85" height="36.4" fill="#000" opacity="0.5"/>
<rect x="1778.19" y="1060.0" width="0.85" height="36.4" fill="#000" opacity="0.5"/>
<rect x="1779.03" y="1060.0" width="0.85" height="36.4" fill="#000" opacity="0.5"/>
<rect x="1779.85" y="1060.0" width="0.85" height="36.4" fill="#000" opacity="0.5"/>
<rect x="1781.08" y="1060.0" width="0.85" height="36.4" fill="#000" opacity="0.5"/>
<rect x="1781.98" y="1060.0" width="0.85" height="36.4" fill="#000" opacity="0.5"/>
<rect x="1783.01" y="1060.0" width="0.85" height="36.4" fill="#000" opacity="0.5"/>
<rect x="1786.52" y="1060.0" width="0.85" height="36.4" fill="#000" opacity="0.55"/>
<rect x="1787.50" y="1060.0" width="0.85" height="36.4" fill="#000" opacity="0.55"/>
<rect x="1788.86" y="1060.0" width="0.85" height="36.4" fill="#000" opacity="0.55"/>
<rect x="1789.79" y="1060.0" width="0.85" height="36.4" fill="#000" opacity="0.55"/>
<rect x="1790.78" y="1060.0" width="0.85" height="36.4" fill="#000" opacity="0.55"/>
<rect x="1796.96" y="1060.0" width="0.85" height="36.4" fill="#000" opacity="0.55"/>
<rect x="1798.15" y="1060.0" width="0.85" height="36.4" fill="#000" opacity="0.55"/>
<rect x="1810.66" y="1060.0" width="0.85" height="36.4" fill="#000" opacity="0.5"/>
<rect x="1811.72" y="1060.0" width="0.85" height="36.4" fill="#000" opacity="0.5"/>
<rect x="1812.98" y="1060.0" width="0.85" height="36.4" fill="#000" opacity="0.5"/>
<rect x="1814.02" y="1060.0" width="0.85" height="36.4" fill="#000" opacity="0.5"/>
<rect x="1818.02" y="1060.0" width="0.85" height="36.4" fill="#000" opacity="0.45"/>
<rect x="1818.86" y="1060.0" width="0.85" height="36.4" fill="#000" opacity="0.45"/>
<rect x="1820.25" y="1060.0" width="0.85" height="36.4" fill="#000" opacity="0.45"/>
<rect x="1821.12" y="1060.0" width="0.85" height="36.4" fill="#000" opacity="0.45"/>
<rect x="1822.11" y="1060.0" width="0.85" height="36.4" fill="#000" opacity="0.45"/>
<rect x="1842.15" y="1060.0" width="0.85" height="36.4" fill="#000" opacity="0.6"/>
<rect x="1843.10" y="1060.0" width="0.85" height="36.4" fill="#000" opacity="0.6"/>
<rect x="1844.07" y="1060.0" width="0.85" height="36.4" fill="#000" opacity="0.6"/>
<rect x="1848.22" y="1060.0" width="0.85" height="36.4" fill="#000" opacity="0.55"/>
<rect x="1850.17" y="1060.0" width="0.85" height="36.4" fill="#000" opacity="0.55"/>
<rect x="1851.04" y="1060.0" width="0.85" height="36.4" fill="#000" opacity="0.55"/>
<rect x="1852.07" y="1060.0" width="0.85" height="36.4" fill="#000" opacity="0.55"/>
<rect x="1853.42" y="1060.0" width="0.85" height="36.4" fill="#000" opacity="0.55"/>
<rect x="1854.24" y="1060.0" width="0.85" height="36.4" fill="#000" opacity="0.55"/>
<rect x="1855.06" y="1060.0" width="0.85" height="36.4" fill="#000" opacity="0.55"/>
<rect x="1866.23" y="1060.0" width="0.85" height="36.4" fill="#000" opacity="0.5"/>
<rect x="1868.10" y="1060.0" width="0.85" height="36.4" fill="#000" opacity="0.5"/>
<rect x="1890.05" y="1060.0" width="0.85" height="36.4" fill="#000" opacity="0.6"/>
<rect x="1890.94" y="1060.0" width="0.85" height="36.4" fill="#000" opacity="0.6"/>
<rect x="1925.37" y="1060.0" width="0.85" height="36.4" fill="#000" opacity="0.6"/>
<rect x="1926.15" y="1060.0" width="0.85" height="36.4" fill="#000" opacity="0.6"/>
<rect x="1927.50" y="1060.0" width="0.85" height="36.4" fill="#000" opacity="0.6"/>
<rect x="1928.31" y="1060.0" width="0.85" height="36.4" fill="#000" opacity="0.6"/>
<rect x="1929.55" y="1060.0" width="0.85" height="36.4" fill="#000" opacity="0.6"/>
<rect x="1930.12" y="1060.0" width="0.85" height="36.4" fill="#000" opacity="0.6"/>
<rect x="1931.26" y="1060.0" width="0.85" height="36.4" fill="#000" opacity="0.6"/>
<rect x="1932.21" y="1060.0" width="0.85" height="36.4" fill="#000" opacity="0.6"/>
<rect x="1933.26" y="1060.0" width="0.85" height="36.4" fill="#000" opacity="0.6"/>
<rect x="1934.39" y="1060.0" width="0.85" height="36.4" fill="#000" opacity="0.6"/>
<rect x="1935.46" y="1060.0" width="0.85" height="36.4" fill="#000" opacity="0.6"/>
<rect x="1936.46" y="1060.0" width="0.85" height="36.4" fill="#000" opacity="0.6"/>
<rect x="1937.33" y="1060.0" width="0.85" height="36.4" fill="#000" opacity="0.6"/>
<rect x="1938.22" y="1060.0" width="0.85" height="36.4" fill="#000" opacity="0.6"/>
<rect x="1939.30" y="1060.0" width="0.85" height="36.4" fill="#000" opacity="0.6"/>
<rect x="1940.54" y="1060.0" width="0.85" height="36.4" fill="#000" opacity="0.6"/>
<rect x="1941.28" y="1060.0" width="0.85" height="36.4" fill="#000" opacity="0.6"/>
<rect x="1942.28" y="1060.0" width="0.85" height="36.4" fill="#000" opacity="0.6"/>
<rect x="1943.19" y="1060.0" width="0.85" height="36.4" fill="#000" opacity="0.6"/>
<rect x="1986.03" y="1060.0" width="0.85" height="36.4" fill="#000" opacity="0.55"/>
<rect x="1987.35" y="1060.0" width="0.85" height="36.4" fill="#000" opacity="0.55"/>
<rect x="1988.34" y="1060.0" width="0.85" height="36.4" fill="#000" opacity="0.55"/>
<rect x="1989.92" y="1060.0" width="0.85" height="36.4" fill="#000" opacity="0.55"/>
<rect x="1991.01" y="1060.0" width="0.85" height="36.4" fill="#000" opacity="0.55"/>
<rect x="1992.19" y="1060.0" width="0.85" height="36.4" fill="#000" opacity="0.55"/>
<rect x="1993.98" y="1060.0" width="0.85" height="36.4" fill="#000" opacity="0.55"/>
<rect x="1994.98" y="1060.0" width="0.85" height="36.4" fill="#000" opacity="0.55"/>
<rect x="1996.16" y="1060.0" width="0.85" height="36.4" fill="#000" opacity="0.55"/>
<rect x="1972.60" y="1060.0" width="0.85" height="36.4" fill="#000" opacity="0.7"/>
<rect x="1973.88" y="1060.0" width="0.85" height="36.4" fill="#000" opacity="0.7"/>
<rect x="1974.74" y="1060.0" width="0.85" height="36.4" fill="#000" opacity="0.7"/>
<rect x="1976.89" y="1060.0" width="0.85" height="36.4" fill="#000" opacity="0.7"/>
<rect x="1977.96" y="1060.0" width="0.85" height="36.4" fill="#000" opacity="0.7"/>
<rect x="1978.61" y="1060.0" width="0.85" height="36.4" fill="#000" opacity="0.7"/>
<rect x="1979.80" y="1060.0" width="0.85" height="36.4" fill="#000" opacity="0.7"/>
<rect x="1980.85" y="1060.0" width="0.85" height="36.4" fill="#000" opacity="0.7"/>
<rect x="1981.91" y="1060.0" width="0.85" height="36.4" fill="#000" opacity="0.7"/>
<rect x="1982.57" y="1060.0" width="0.85" height="36.4" fill="#000" opacity="0.7"/>
<rect x="1983.77" y="1060.0" width="0.85" height="36.4" fill="#000" opacity="0.7"/>
<rect x="1759.16" y="1060.0" width="1.00" height="36.4" fill="#000" opacity="0.6"/>
<rect x="1760.74" y="1060.0" width="0.80" height="36.4" fill="#000" opacity="0.4"/>
<rect x="1764.01" y="1060.0" width="0.80" height="36.4" fill="#000" opacity="0.4"/>
<rect x="1769.14" y="1060.0" width="1.20" height="36.4" fill="#000" opacity="0.8"/>
<rect x="1805.23" y="1060.0" width="0.80" height="36.4" fill="#000" opacity="0.4"/>
<rect x="1824.41" y="1060.0" width="1.00" height="36.4" fill="#000" opacity="0.7"/>
<rect x="1827.48" y="1060.0" width="0.80" height="36.4" fill="#000" opacity="0.5"/>
<rect x="1830.45" y="1060.0" width="0.80" height="36.4" fill="#000" opacity="0.5"/>
<rect x="1832.67" y="1060.0" width="0.80" height="36.4" fill="#000" opacity="0.5"/>
<rect x="1862.28" y="1060.0" width="0.90" height="36.4" fill="#000" opacity="0.5"/>
<rect x="1873.35" y="1060.0" width="1.00" height="36.4" fill="#000" opacity="0.8"/>
<rect x="1875.63" y="1060.0" width="0.90" height="36.4" fill="#000" opacity="0.6"/>
<rect x="1878.54" y="1060.0" width="1.00" height="36.4" fill="#000" opacity="0.8"/>
<rect x="1854.82" y="1060.0" width="1.00" height="36.4" fill="#000" opacity="0.9"/>
<rect x="1789.56" y="1060.0" width="1.00" height="36.4" fill="#000" opacity="0.8"/>
<rect x="1884.98" y="1060.0" width="3.71" height="36.4" fill="#000" opacity="1"/>
<rect x="1893.13" y="1060.0" width="5.19" height="36.4" fill="#000" opacity="0.95"/>
<rect x="1899.06" y="1060.0" width="5.93" height="36.4" fill="#000" opacity="0.9"/>
<rect x="1906.48" y="1060.0" width="5.19" height="36.4" fill="#000" opacity="0.95"/>
<rect x="1912.71" y="1060.0" width="7.12" height="36.4" fill="#000" opacity="0.85"/>
<rect x="1921.31" y="1060.0" width="4.75" height="36.4" fill="#000" opacity="1"/>
<rect x="1927.98" y="1060.0" width="2.22" height="36.4" fill="#000" opacity="0.8"/>
<rect x="1933.92" y="1060.0" width="3.71" height="36.4" fill="#000" opacity="0.85"/>
<rect x="1940.59" y="1060.0" width="3.71" height="36.4" fill="#000" opacity="0.9"/>
<rect x="1946.52" y="1060.0" width="25.21" height="36.4" fill="#000" opacity="1"/>
<rect x="1974.99" y="1060.0" width="5.64" height="36.4" fill="#000" opacity="0.95"/>
<rect x="1982.11" y="1060.0" width="2.67" height="36.4" fill="#000" opacity="0.9"/>
<rect x="1756.40" y="1096.40" width="5.79" height="9.40" fill="#d40000"/>
<rect x="1761.88" y="1096.40" width="14.39" height="9.40" fill="#e93535"/>
<rect x="1775.97" y="1096.40" width="28.48" height="9.40" fill="#ff5252"/>
<rect x="1804.15" y="1096.40" width="19.58" height="9.40" fill="#ff6b7e"/>
<rect x="1823.43" y="1096.40" width="24.77" height="9.40" fill="#ff8585"/>
<rect x="1847.90" y="1096.40" width="34.41" height="9.40" fill="#ffb4e2"/>
<rect x="1882.01" y="1096.40" width="30.41" height="9.40" fill="#c3baff"/>
<rect x="1912.11" y="1096.40" width="36.19" height="9.40" fill="#8686fa"/>
<rect x="1948.00" y="1096.40" width="32.93" height="9.40" fill="#6452e6"/>
<rect x="1980.63" y="1096.40" width="12.16" height="9.40" fill="#2400cc"/>
<rect x="1992.49" y="1096.40" width="5.94" height="9.40" fill="#4c00a2"/>
<rect x="1776.98" y="1096.4" width="0.85" height="9.4" fill="#000" opacity="0.08"/>
<rect x="1778.19" y="1096.4" width="0.85" height="9.4" fill="#000" opacity="0.08"/>
<rect x="1779.03" y="1096.4" width="0.85" height="9.4" fill="#000" opacity="0.08"/>
<rect x="1779.85" y="1096.4" width="0.85" height="9.4" fill="#000" opacity="0.08"/>
<rect x="1781.08" y="1096.4" width="0.85" height="9.4" fill="#000" opacity="0.08"/>
<rect x="1781.98" y="1096.4" width="0.85" height="9.4" fill="#000" opacity="0.08"/>
<rect x="1783.01" y="1096.4" width="0.85" height="9.4" fill="#000" opacity="0.08"/>
<rect x="1786.52" y="1096.4" width="0.85" height="9.4" fill="#000" opacity="0.09"/>
<rect x="1787.50" y="1096.4" width="0.85" height="9.4" fill="#000" opacity="0.09"/>
<rect x="1788.86" y="1096.4" width="0.85" height="9.4" fill="#000" opacity="0.09"/>
<rect x="1789.79" y="1096.4" width="0.85" height="9.4" fill="#000" opacity="0.09"/>
<rect x="1790.78" y="1096.4" width="0.85" height="9.4" fill="#000" opacity="0.09"/>
<rect x="1796.96" y="1096.4" width="0.85" height="9.4" fill="#000" opacity="0.09"/>
<rect x="1798.15" y="1096.4" width="0.85" height="9.4" fill="#000" opacity="0.09"/>
<rect x="1810.66" y="1096.4" width="0.85" height="9.4" fill="#000" opacity="0.08"/>
<rect x="1811.72" y="1096.4" width="0.85" height="9.4" fill="#000" opacity="0.08"/>
<rect x="1812.98" y="1096.4" width="0.85" height="9.4" fill="#000" opacity="0.08"/>
<rect x="1814.02" y="1096.4" width="0.85" height="9.4" fill="#000" opacity="0.08"/>
<rect x="1818.02" y="1096.4" width="0.85" height="9.4" fill="#000" opacity="0.07"/>
<rect x="1818.86" y="1096.4" width="0.85" height="9.4" fill="#000" opacity="0.07"/>
<rect x="1820.25" y="1096.4" width="0.85" height="9.4" fill="#000" opacity="0.07"/>
<rect x="1821.12" y="1096.4" width="0.85" height="9.4" fill="#000" opacity="0.07"/>
<rect x="1822.11" y="1096.4" width="0.85" height="9.4" fill="#000" opacity="0.07"/>
<rect x="1842.15" y="1096.4" width="0.85" height="9.4" fill="#000" opacity="0.10"/>
<rect x="1843.10" y="1096.4" width="0.85" height="9.4" fill="#000" opacity="0.10"/>
<rect x="1844.07" y="1096.4" width="0.85" height="9.4" fill="#000" opacity="0.10"/>
<rect x="1848.22" y="1096.4" width="0.85" height="9.4" fill="#000" opacity="0.09"/>
<rect x="1850.17" y="1096.4" width="0.85" height="9.4" fill="#000" opacity="0.09"/>
<rect x="1851.04" y="1096.4" width="0.85" height="9.4" fill="#000" opacity="0.09"/>
<rect x="1852.07" y="1096.4" width="0.85" height="9.4" fill="#000" opacity="0.09"/>
<rect x="1853.42" y="1096.4" width="0.85" height="9.4" fill="#000" opacity="0.09"/>
<rect x="1854.24" y="1096.4" width="0.85" height="9.4" fill="#000" opacity="0.09"/>
<rect x="1855.06" y="1096.4" width="0.85" height="9.4" fill="#000" opacity="0.09"/>
<rect x="1866.23" y="1096.4" width="0.85" height="9.4" fill="#000" opacity="0.08"/>
<rect x="1868.10" y="1096.4" width="0.85" height="9.4" fill="#000" opacity="0.08"/>
<rect x="1890.05" y="1096.4" width="0.85" height="9.4" fill="#000" opacity="0.10"/>
<rect x="1890.94" y="1096.4" width="0.85" height="9.4" fill="#000" opacity="0.10"/>
<rect x="1925.37" y="1096.4" width="0.85" height="9.4" fill="#000" opacity="0.10"/>
<rect x="1926.15" y="1096.4" width="0.85" height="9.4" fill="#000" opacity="0.10"/>
<rect x="1927.50" y="1096.4" width="0.85" height="9.4" fill="#000" opacity="0.10"/>
<rect x="1928.31" y="1096.4" width="0.85" height="9.4" fill="#000" opacity="0.10"/>
<rect x="1929.55" y="1096.4" width="0.85" height="9.4" fill="#000" opacity="0.10"/>
<rect x="1930.12" y="1096.4" width="0.85" height="9.4" fill="#000" opacity="0.10"/>
<rect x="1931.26" y="1096.4" width="0.85" height="9.4" fill="#000" opacity="0.10"/>
<rect x="1932.21" y="1096.4" width="0.85" height="9.4" fill="#000" opacity="0.10"/>
<rect x="1933.26" y="1096.4" width="0.85" height="9.4" fill="#000" opacity="0.10"/>
<rect x="1934.39" y="1096.4" width="0.85" height="9.4" fill="#000" opacity="0.10"/>
<rect x="1935.46" y="1096.4" width="0.85" height="9.4" fill="#000" opacity="0.10"/>
<rect x="1936.46" y="1096.4" width="0.85" height="9.4" fill="#000" opacity="0.10"/>
<rect x="1937.33" y="1096.4" width="0.85" height="9.4" fill="#000" opacity="0.10"/>
<rect x="1938.22" y="1096.4" width="0.85" height="9.4" fill="#000" opacity="0.10"/>
<rect x="1939.30" y="1096.4" width="0.85" height="9.4" fill="#000" opacity="0.10"/>
<rect x="1940.54" y="1096.4" width="0.85" height="9.4" fill="#000" opacity="0.10"/>
<rect x="1941.28" y="1096.4" width="0.85" height="9.4" fill="#000" opacity="0.10"/>
<rect x="1942.28" y="1096.4" width="0.85" height="9.4" fill="#000" opacity="0.10"/>
<rect x="1943.19" y="1096.4" width="0.85" height="9.4" fill="#000" opacity="0.10"/>
<rect x="1986.03" y="1096.4" width="0.85" height="9.4" fill="#000" opacity="0.09"/>
<rect x="1987.35" y="1096.4" width="0.85" height="9.4" fill="#000" opacity="0.09"/>
<rect x="1988.34" y="1096.4" width="0.85" height="9.4" fill="#000" opacity="0.09"/>
<rect x="1989.92" y="1096.4" width="0.85" height="9.4" fill="#000" opacity="0.09"/>
<rect x="1991.01" y="1096.4" width="0.85" height="9.4" fill="#000" opacity="0.09"/>
<rect x="1992.19" y="1096.4" width="0.85" height="9.4" fill="#000" opacity="0.09"/>
<rect x="1993.98" y="1096.4" width="0.85" height="9.4" fill="#000" opacity="0.09"/>
<rect x="1994.98" y="1096.4" width="0.85" height="9.4" fill="#000" opacity="0.09"/>
<rect x="1996.16" y="1096.4" width="0.85" height="9.4" fill="#000" opacity="0.09"/>
<rect x="1972.60" y="1096.4" width="0.85" height="9.4" fill="#000" opacity="0.11"/>
<rect x="1973.88" y="1096.4" width="0.85" height="9.4" fill="#000" opacity="0.11"/>
<rect x="1974.74" y="1096.4" width="0.85" height="9.4" fill="#000" opacity="0.11"/>
<rect x="1976.89" y="1096.4" width="0.85" height="9.4" fill="#000" opacity="0.11"/>
<rect x="1977.96" y="1096.4" width="0.85" height="9.4" fill="#000" opacity="0.11"/>
<rect x="1978.61" y="1096.4" width="0.85" height="9.4" fill="#000" opacity="0.11"/>
<rect x="1979.80" y="1096.4" width="0.85" height="9.4" fill="#000" opacity="0.11"/>
<rect x="1980.85" y="1096.4" width="0.85" height="9.4" fill="#000" opacity="0.11"/>
<rect x="1981.91" y="1096.4" width="0.85" height="9.4" fill="#000" opacity="0.11"/>
<rect x="1982.57" y="1096.4" width="0.85" height="9.4" fill="#000" opacity="0.11"/>
<rect x="1983.77" y="1096.4" width="0.85" height="9.4" fill="#000" opacity="0.11"/>
<rect x="1759.16" y="1096.4" width="1.00" height="9.4" fill="#000" opacity="0.10"/>
<rect x="1760.74" y="1096.4" width="0.80" height="9.4" fill="#000" opacity="0.06"/>
<rect x="1764.01" y="1096.4" width="0.80" height="9.4" fill="#000" opacity="0.06"/>
<rect x="1769.14" y="1096.4" width="1.20" height="9.4" fill="#000" opacity="0.13"/>
<rect x="1805.23" y="1096.4" width="0.80" height="9.4" fill="#000" opacity="0.06"/>
<rect x="1824.41" y="1096.4" width="1.00" height="9.4" fill="#000" opacity="0.11"/>
<rect x="1827.48" y="1096.4" width="0.80" height="9.4" fill="#000" opacity="0.08"/>
<rect x="1830.45" y="1096.4" width="0.80" height="9.4" fill="#000" opacity="0.08"/>
<rect x="1832.67" y="1096.4" width="0.80" height="9.4" fill="#000" opacity="0.08"/>
<rect x="1862.28" y="1096.4" width="0.90" height="9.4" fill="#000" opacity="0.08"/>
<rect x="1873.35" y="1096.4" width="1.00" height="9.4" fill="#000" opacity="0.13"/>
<rect x="1875.63" y="1096.4" width="0.90" height="9.4" fill="#000" opacity="0.10"/>
<rect x="1878.54" y="1096.4" width="1.00" height="9.4" fill="#000" opacity="0.13"/>
<rect x="1854.82" y="1096.4" width="1.00" height="9.4" fill="#000" opacity="0.14"/>
<rect x="1789.56" y="1096.4" width="1.00" height="9.4" fill="#000" opacity="0.13"/>
<rect x="1884.98" y="1096.4" width="3.71" height="9.4" fill="#000" opacity="0.16"/>
<rect x="1893.13" y="1096.4" width="5.19" height="9.4" fill="#000" opacity="0.15"/>
<rect x="1899.06" y="1096.4" width="5.93" height="9.4" fill="#000" opacity="0.14"/>
<rect x="1906.48" y="1096.4" width="5.19" height="9.4" fill="#000" opacity="0.15"/>
<rect x="1912.71" y="1096.4" width="7.12" height="9.4" fill="#000" opacity="0.14"/>
<rect x="1921.31" y="1096.4" width="4.75" height="9.4" fill="#000" opacity="0.16"/>
<rect x="1927.98" y="1096.4" width="2.22" height="9.4" fill="#000" opacity="0.13"/>
<rect x="1933.92" y="1096.4" width="3.71" height="9.4" fill="#000" opacity="0.14"/>
<rect x="1940.59" y="1096.4" width="3.71" height="9.4" fill="#000" opacity="0.14"/>
<rect x="1946.52" y="1096.4" width="25.21" height="9.4" fill="#000" opacity="0.16"/>
<rect x="1974.99" y="1096.4" width="5.64" height="9.4" fill="#000" opacity="0.15"/>
<rect x="1982.11" y="1096.4" width="2.67" height="9.4" fill="#000" opacity="0.14"/>
<line x1="1756.4" y1="1096.4" x2="2012" y2="1096.4" stroke="#c9c9c9" stroke-width="0.7"/>
<polyline points="1756.4,951.3 1758.9,953.5 1761.1,953.1 1764.4,955.8 1769.3,959.0 1771.5,959.5 1777.2,965.8 1782.6,967.9 1787.1,970.6 1792.3,970.6 1797.5,976.8 1799.7,977.3 1810.8,989.9 1815.3,992.8 1824.9,1000.3 1826.4,1000.3 1833.8,1007.7 1842.7,1017.3 1848.6,1021.0 1856.1,1025.2 1863.5,1032.9 1870.9,1039.6 1878.3,1045.5 1882.0,1048.5 1885.4,1053.3 1887.9,1050.4 1890.9,1051.9 1896.1,1051.4 1900.5,1052.2 1902.0,1050.7 1905.7,1052.6 1911.7,1052.6 1915.4,1049.2 1919.1,1050.4 1922.8,1047.0 1927.2,1045.9 1930.2,1045.0 1934.7,1045.5 1940.6,1039.6 1945.0,1035.1 1947.3,1032.9 1949.5,1025.5 1952.5,1020.3 1955.4,1012.1 1957.6,1003.2 1961.4,997.3 1963.6,991.4 1965.8,982.5 1969.5,972.1 1972.5,966.1 1974.7,964.7 1980.6,954.3 1984.3,951.0 1988.0,952.1 1991.8,949.8 1994.7,950.6 1996.2,949.1 1998.4,950.6" fill="none" stroke="#00ff00" stroke-width="1.9" stroke-linejoin="round"/>
<text x="1743.6" y="953.5" font-size="20.8" text-anchor="end">0</text>
<text x="1743.6" y="989.4" font-size="20.8" text-anchor="end">–0.15</text>
<text x="1743.6" y="1026" font-size="20.8" text-anchor="end">–0.30</text>
<text x="1743.6" y="1050.3" font-size="20.8" text-anchor="end">–0.40</text>
<text x="1848.3" y="963" font-size="16.6">Nes = –3.24</text>
<text x="1848.3" y="983" font-size="16.6"><tspan font-style="italic">p</tspan> = 0.000</text>
<text x="1848.3" y="1003.2" font-size="16.6"><tspan font-style="italic">q</tspan> = 0.000</text>
<text x="1760.8" y="1138.6" font-size="25">Control</text>
<text x="1891" y="1138.6" font-size="25"><tspan font-style="italic">Ctcf</tspan><tspan dx="-2.5"> cKO</tspan></text>
</g>
</svg>
</body>
</html>
